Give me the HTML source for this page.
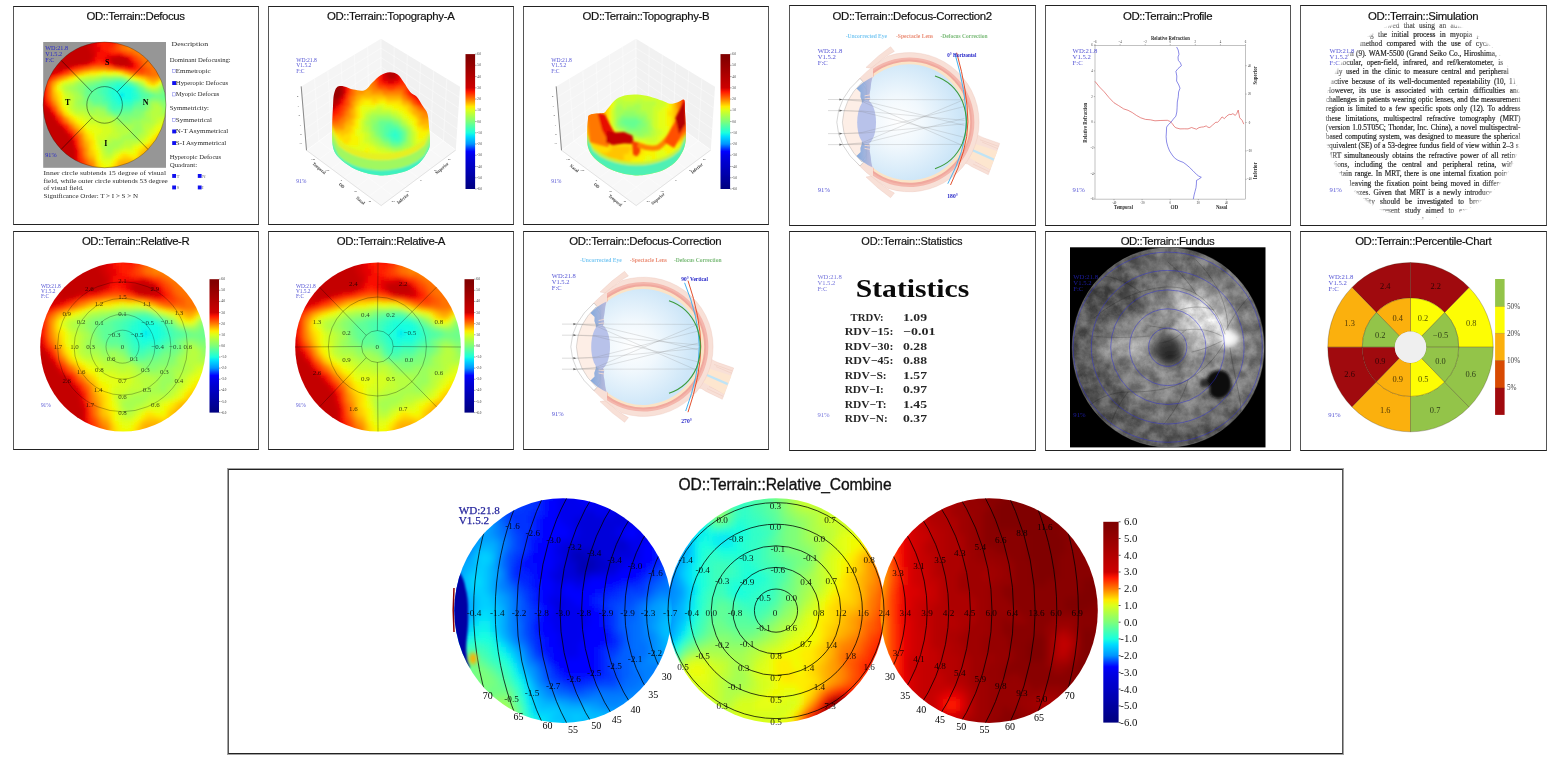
<!DOCTYPE html>
<html lang="en"><head><meta charset="utf-8"><title>OD Terrain Report</title>
<style>
html,body{margin:0;padding:0;background:#fff;}
body{width:1554px;height:762px;overflow:hidden;position:relative;font-family:"Liberation Sans",sans-serif;color:#1a1a1a;}
.panel{position:absolute;box-sizing:border-box;border:1px solid #222;border-left-color:#555;border-right-color:#555;background:#fff;overflow:hidden;}
.panel h3{position:absolute;margin:0;font-weight:400;color:#111;white-space:nowrap;-webkit-text-stroke:0.18px #111;}
.panel#p13{outline:1px solid rgba(30,30,30,0.42);}
.panel#p13 h3{-webkit-text-stroke:0.32px #111;}
.panel svg{position:absolute;left:0;top:0;overflow:hidden;}
svg text{font-family:"Liberation Serif",serif;}
</style></head>
<body>
<svg width="0" height="0" style="position:absolute" aria-hidden="true"><defs><filter id="hmA-b" x="-5%" y="-5%" width="110%" height="110%" filterUnits="objectBoundingBox"><feGaussianBlur stdDeviation="2.40"/></filter><clipPath id="hmA-c"><circle r="100"/></clipPath><g id="hmA"><g clip-path="url(#hmA-c)"><g filter="url(#hmA-b)" shape-rendering="crispEdges"><path fill="#06ecf1" d="M24 -20h8.3v4.3h-8.3zM24 -16h8.3v4.3h-8.3z"/><path fill="#16ffe1" d="M20 -28h24.3v4.3h-24.3zM20 -24h24.3v4.3h-24.3zM20 -20h4.3v4.3h-4.3zM32 -20h12.3v4.3h-12.3zM16 -16h8.3v4.3h-8.3zM32 -16h12.3v4.3h-12.3zM20 -12h24.3v4.3h-24.3zM24 -8h4.3v4.3h-4.3z"/><path fill="#23ffd4" d="M16 -32h24.3v4.3h-24.3zM12 -28h8.3v4.3h-8.3zM44 -28h4.3v4.3h-4.3zM8 -24h12.3v4.3h-12.3zM44 -24h4.3v4.3h-4.3zM8 -20h12.3v4.3h-12.3zM44 -20h8.3v4.3h-8.3zM12 -16h4.3v4.3h-4.3zM44 -16h8.3v4.3h-8.3zM12 -12h8.3v4.3h-8.3zM44 -12h4.3v4.3h-4.3zM16 -8h8.3v4.3h-8.3zM28 -8h16.3v4.3h-16.3zM20 -4h8.3v4.3h-8.3z"/><path fill="#33ffc4" d="M16 -36h16.3v4.3h-16.3zM8 -32h8.3v4.3h-8.3zM40 -32h4.3v4.3h-4.3zM4 -28h8.3v4.3h-8.3zM48 -28h4.3v4.3h-4.3zM4 -24h4.3v4.3h-4.3zM48 -24h4.3v4.3h-4.3zM4 -20h4.3v4.3h-4.3zM52 -20h4.3v4.3h-4.3zM4 -16h8.3v4.3h-8.3zM52 -16h4.3v4.3h-4.3zM8 -12h4.3v4.3h-4.3zM48 -12h8.3v4.3h-8.3zM8 -8h8.3v4.3h-8.3zM44 -8h4.3v4.3h-4.3zM12 -4h8.3v4.3h-8.3zM28 -4h16.3v4.3h-16.3zM16 0h12.3v4.3h-12.3z"/><path fill="#40ffb7" d="M8 -36h8.3v4.3h-8.3zM32 -36h8.3v4.3h-8.3zM0 -32h8.3v4.3h-8.3zM44 -32h4.3v4.3h-4.3zM-4 -28h8.3v4.3h-8.3zM-4 -24h8.3v4.3h-8.3zM52 -24h4.3v4.3h-4.3zM-4 -20h8.3v4.3h-8.3zM56 -20h4.3v4.3h-4.3zM0 -16h4.3v4.3h-4.3zM56 -16h4.3v4.3h-4.3zM0 -12h8.3v4.3h-8.3zM56 -12h4.3v4.3h-4.3zM4 -8h4.3v4.3h-4.3zM48 -8h8.3v4.3h-8.3zM8 -4h4.3v4.3h-4.3zM44 -4h4.3v4.3h-4.3zM8 0h8.3v4.3h-8.3zM28 0h16.3v4.3h-16.3zM12 4h16.3v4.3h-16.3z"/><path fill="#50ffa7" d="M16 -40h16.3v4.3h-16.3zM0 -36h8.3v4.3h-8.3zM40 -36h4.3v4.3h-4.3zM-12 -32h12.3v4.3h-12.3zM48 -32h4.3v4.3h-4.3zM-12 -28h8.3v4.3h-8.3zM52 -28h4.3v4.3h-4.3zM-12 -24h8.3v4.3h-8.3zM56 -24h4.3v4.3h-4.3zM-12 -20h8.3v4.3h-8.3zM60 -20h8.3v4.3h-8.3zM-8 -16h8.3v4.3h-8.3zM60 -16h12.3v4.3h-12.3zM-4 -12h4.3v4.3h-4.3zM60 -12h4.3v4.3h-4.3zM-4 -8h8.3v4.3h-8.3zM56 -8h4.3v4.3h-4.3zM4 -4h4.3v4.3h-4.3zM48 -4h4.3v4.3h-4.3zM4 0h4.3v4.3h-4.3zM44 0h4.3v4.3h-4.3zM8 4h4.3v4.3h-4.3zM28 4h16.3v4.3h-16.3zM12 8h16.3v4.3h-16.3z"/><path fill="#5dff9a" d="M4 -40h12.3v4.3h-12.3zM32 -40h4.3v4.3h-4.3zM-8 -36h8.3v4.3h-8.3zM44 -36h4.3v4.3h-4.3zM-20 -32h8.3v4.3h-8.3zM-28 -28h16.3v4.3h-16.3zM56 -28h4.3v4.3h-4.3zM-28 -24h16.3v4.3h-16.3zM60 -24h4.3v4.3h-4.3zM100 -24h8.3v4.3h-8.3zM-24 -20h12.3v4.3h-12.3zM68 -20h8.3v4.3h-8.3zM-24 -16h16.3v4.3h-16.3zM72 -16h8.3v4.3h-8.3zM-24 -12h20.3v4.3h-20.3zM64 -12h8.3v4.3h-8.3zM-20 -8h16.3v4.3h-16.3zM60 -8h4.3v4.3h-4.3zM-4 -4h8.3v4.3h-8.3zM52 -4h12.3v4.3h-12.3zM48 0h8.3v4.3h-8.3zM4 4h4.3v4.3h-4.3zM44 4h4.3v4.3h-4.3zM8 8h4.3v4.3h-4.3zM28 8h16.3v4.3h-16.3zM16 12h12.3v4.3h-12.3z"/><path fill="#6dff8a" d="M-4 -40h8.3v4.3h-8.3zM-16 -36h8.3v4.3h-8.3zM-28 -32h8.3v4.3h-8.3zM52 -32h4.3v4.3h-4.3zM100 -32h8.3v4.3h-8.3zM-32 -28h4.3v4.3h-4.3zM60 -28h4.3v4.3h-4.3zM96 -28h12.3v4.3h-12.3zM-32 -24h4.3v4.3h-4.3zM64 -24h4.3v4.3h-4.3zM96 -24h4.3v4.3h-4.3zM-32 -20h8.3v4.3h-8.3zM76 -20h4.3v4.3h-4.3zM92 -20h20.3v4.3h-20.3zM-32 -16h8.3v4.3h-8.3zM80 -16h32.3v4.3h-32.3zM-28 -12h4.3v4.3h-4.3zM72 -12h4.3v4.3h-4.3zM92 -12h20.3v4.3h-20.3zM-24 -8h4.3v4.3h-4.3zM64 -8h4.3v4.3h-4.3zM104 -8h8.3v4.3h-8.3zM-20 -4h16.3v4.3h-16.3zM64 -4h4.3v4.3h-4.3zM104 -4h8.3v4.3h-8.3zM-4 0h8.3v4.3h-8.3zM56 0h12.3v4.3h-12.3zM108 0h4.3v4.3h-4.3zM48 4h16.3v4.3h-16.3zM4 8h4.3v4.3h-4.3zM44 8h4.3v4.3h-4.3zM12 12h4.3v4.3h-4.3zM28 12h16.3v4.3h-16.3z"/><path fill="#7dff7a" d="M12 -44h16.3v4.3h-16.3zM-8 -40h4.3v4.3h-4.3zM36 -40h4.3v4.3h-4.3zM-28 -36h12.3v4.3h-12.3zM48 -36h4.3v4.3h-4.3zM-36 -32h8.3v4.3h-8.3zM56 -32h4.3v4.3h-4.3zM96 -32h4.3v4.3h-4.3zM-36 -28h4.3v4.3h-4.3zM-36 -24h4.3v4.3h-4.3zM68 -24h4.3v4.3h-4.3zM92 -24h4.3v4.3h-4.3zM-36 -20h4.3v4.3h-4.3zM80 -20h12.3v4.3h-12.3zM-36 -16h4.3v4.3h-4.3zM-32 -12h4.3v4.3h-4.3zM76 -12h16.3v4.3h-16.3zM-32 -8h8.3v4.3h-8.3zM68 -8h4.3v4.3h-4.3zM92 -8h12.3v4.3h-12.3zM-24 -4h4.3v4.3h-4.3zM68 -4h4.3v4.3h-4.3zM100 -4h4.3v4.3h-4.3zM-20 0h16.3v4.3h-16.3zM68 0h4.3v4.3h-4.3zM100 0h8.3v4.3h-8.3zM0 4h4.3v4.3h-4.3zM64 4h4.3v4.3h-4.3zM104 4h8.3v4.3h-8.3zM48 8h16.3v4.3h-16.3zM8 12h4.3v4.3h-4.3zM44 12h16.3v4.3h-16.3zM16 16h36.3v4.3h-36.3zM28 20h12.3v4.3h-12.3z"/><path fill="#8aff6d" d="M-4 -44h16.3v4.3h-16.3zM28 -44h4.3v4.3h-4.3zM-20 -40h12.3v4.3h-12.3zM40 -40h4.3v4.3h-4.3zM-36 -36h8.3v4.3h-8.3zM52 -36h4.3v4.3h-4.3zM100 -36h8.3v4.3h-8.3zM-44 -32h8.3v4.3h-8.3zM-44 -28h8.3v4.3h-8.3zM64 -28h4.3v4.3h-4.3zM92 -28h4.3v4.3h-4.3zM-44 -24h8.3v4.3h-8.3zM72 -24h4.3v4.3h-4.3zM88 -24h4.3v4.3h-4.3zM-40 -20h4.3v4.3h-4.3zM-36 -12h4.3v4.3h-4.3zM-36 -8h4.3v4.3h-4.3zM72 -8h8.3v4.3h-8.3zM84 -8h8.3v4.3h-8.3zM-36 -4h12.3v4.3h-12.3zM72 -4h4.3v4.3h-4.3zM92 -4h8.3v4.3h-8.3zM-28 0h8.3v4.3h-8.3zM96 0h4.3v4.3h-4.3zM-24 4h4.3v4.3h-4.3zM-8 4h8.3v4.3h-8.3zM68 4h4.3v4.3h-4.3zM96 4h8.3v4.3h-8.3zM0 8h4.3v4.3h-4.3zM64 8h4.3v4.3h-4.3zM104 8h8.3v4.3h-8.3zM4 12h4.3v4.3h-4.3zM60 12h4.3v4.3h-4.3zM12 16h4.3v4.3h-4.3zM52 16h12.3v4.3h-12.3zM20 20h8.3v4.3h-8.3zM40 20h20.3v4.3h-20.3zM24 24h20.3v4.3h-20.3z"/><path fill="#9aff5d" d="M-8 -44h4.3v4.3h-4.3zM32 -44h4.3v4.3h-4.3zM-28 -40h8.3v4.3h-8.3zM-44 -36h8.3v4.3h-8.3zM96 -36h4.3v4.3h-4.3zM-48 -32h4.3v4.3h-4.3zM60 -32h4.3v4.3h-4.3zM92 -32h4.3v4.3h-4.3zM-52 -28h8.3v4.3h-8.3zM88 -28h4.3v4.3h-4.3zM-48 -24h4.3v4.3h-4.3zM76 -24h12.3v4.3h-12.3zM-44 -20h4.3v4.3h-4.3zM-40 -16h4.3v4.3h-4.3zM-40 -12h4.3v4.3h-4.3zM-44 -8h8.3v4.3h-8.3zM80 -8h4.3v4.3h-4.3zM-44 -4h8.3v4.3h-8.3zM88 -4h4.3v4.3h-4.3zM-36 0h8.3v4.3h-8.3zM72 0h4.3v4.3h-4.3zM92 0h4.3v4.3h-4.3zM-28 4h4.3v4.3h-4.3zM-20 4h12.3v4.3h-12.3zM72 4h4.3v4.3h-4.3zM-24 8h8.3v4.3h-8.3zM-8 8h8.3v4.3h-8.3zM68 8h4.3v4.3h-4.3zM96 8h8.3v4.3h-8.3zM0 12h4.3v4.3h-4.3zM64 12h4.3v4.3h-4.3zM104 12h8.3v4.3h-8.3zM4 16h8.3v4.3h-8.3zM64 16h4.3v4.3h-4.3zM16 20h4.3v4.3h-4.3zM60 20h8.3v4.3h-8.3zM20 24h4.3v4.3h-4.3zM44 24h16.3v4.3h-16.3zM28 28h32.3v4.3h-32.3zM48 32h12.3v4.3h-12.3zM44 36h16.3v4.3h-16.3zM44 40h16.3v4.3h-16.3zM44 44h8.3v4.3h-8.3zM44 48h8.3v4.3h-8.3z"/><path fill="#a7ff50" d="M-16 -44h8.3v4.3h-8.3zM-40 -40h12.3v4.3h-12.3zM44 -40h4.3v4.3h-4.3zM-48 -36h4.3v4.3h-4.3zM56 -36h4.3v4.3h-4.3zM-56 -32h8.3v4.3h-8.3zM-60 -28h8.3v4.3h-8.3zM68 -28h4.3v4.3h-4.3zM-56 -24h8.3v4.3h-8.3zM-52 -20h8.3v4.3h-8.3zM-48 -16h8.3v4.3h-8.3zM-48 -12h8.3v4.3h-8.3zM-48 -8h4.3v4.3h-4.3zM-48 -4h4.3v4.3h-4.3zM76 -4h12.3v4.3h-12.3zM-48 0h12.3v4.3h-12.3zM76 0h4.3v4.3h-4.3zM88 0h4.3v4.3h-4.3zM-44 4h16.3v4.3h-16.3zM76 4h4.3v4.3h-4.3zM92 4h4.3v4.3h-4.3zM-32 8h8.3v4.3h-8.3zM-16 8h8.3v4.3h-8.3zM72 8h4.3v4.3h-4.3zM92 8h4.3v4.3h-4.3zM-24 12h24.3v4.3h-24.3zM68 12h8.3v4.3h-8.3zM92 12h12.3v4.3h-12.3zM-8 16h12.3v4.3h-12.3zM68 16h8.3v4.3h-8.3zM108 16h4.3v4.3h-4.3zM12 20h4.3v4.3h-4.3zM68 20h8.3v4.3h-8.3zM16 24h4.3v4.3h-4.3zM60 24h16.3v4.3h-16.3zM20 28h8.3v4.3h-8.3zM60 28h8.3v4.3h-8.3zM32 32h16.3v4.3h-16.3zM60 32h4.3v4.3h-4.3zM40 36h4.3v4.3h-4.3zM60 36h4.3v4.3h-4.3zM40 40h4.3v4.3h-4.3zM60 40h4.3v4.3h-4.3zM36 44h8.3v4.3h-8.3zM52 44h8.3v4.3h-8.3zM28 48h16.3v4.3h-16.3zM52 48h4.3v4.3h-4.3zM24 52h32.3v4.3h-32.3zM12 56h20.3v4.3h-20.3zM4 60h24.3v4.3h-24.3zM0 64h24.3v4.3h-24.3zM0 68h16.3v4.3h-16.3zM4 72h8.3v4.3h-8.3z"/><path fill="#b7ff40" d="M-4 -48h32.3v4.3h-32.3zM-32 -44h16.3v4.3h-16.3zM36 -44h4.3v4.3h-4.3zM-44 -40h4.3v4.3h-4.3zM48 -40h4.3v4.3h-4.3zM100 -40h4.3v4.3h-4.3zM-52 -36h4.3v4.3h-4.3zM60 -36h4.3v4.3h-4.3zM92 -36h4.3v4.3h-4.3zM-64 -32h8.3v4.3h-8.3zM64 -32h4.3v4.3h-4.3zM88 -32h4.3v4.3h-4.3zM-64 -28h4.3v4.3h-4.3zM72 -28h4.3v4.3h-4.3zM84 -28h4.3v4.3h-4.3zM-64 -24h8.3v4.3h-8.3zM-56 -20h4.3v4.3h-4.3zM-52 -16h4.3v4.3h-4.3zM-52 -12h4.3v4.3h-4.3zM-52 -8h4.3v4.3h-4.3zM-52 -4h4.3v4.3h-4.3zM-52 0h4.3v4.3h-4.3zM80 0h8.3v4.3h-8.3zM-52 4h8.3v4.3h-8.3zM80 4h12.3v4.3h-12.3zM-48 8h16.3v4.3h-16.3zM76 8h16.3v4.3h-16.3zM-32 12h8.3v4.3h-8.3zM76 12h16.3v4.3h-16.3zM-24 16h16.3v4.3h-16.3zM76 16h32.3v4.3h-32.3zM-12 20h24.3v4.3h-24.3zM76 20h8.3v4.3h-8.3zM-4 24h8.3v4.3h-8.3zM8 24h8.3v4.3h-8.3zM76 24h8.3v4.3h-8.3zM12 28h8.3v4.3h-8.3zM68 28h12.3v4.3h-12.3zM16 32h16.3v4.3h-16.3zM64 32h12.3v4.3h-12.3zM20 36h20.3v4.3h-20.3zM64 36h8.3v4.3h-8.3zM20 40h20.3v4.3h-20.3zM64 40h4.3v4.3h-4.3zM24 44h12.3v4.3h-12.3zM60 44h8.3v4.3h-8.3zM20 48h8.3v4.3h-8.3zM56 48h8.3v4.3h-8.3zM8 52h16.3v4.3h-16.3zM56 52h4.3v4.3h-4.3zM0 56h12.3v4.3h-12.3zM32 56h24.3v4.3h-24.3zM-4 60h8.3v4.3h-8.3zM28 60h16.3v4.3h-16.3zM-4 64h4.3v4.3h-4.3zM24 64h8.3v4.3h-8.3zM-4 68h4.3v4.3h-4.3zM16 68h8.3v4.3h-8.3zM0 72h4.3v4.3h-4.3zM12 72h4.3v4.3h-4.3zM0 76h12.3v4.3h-12.3z"/><path fill="#c4ff33" d="M-12 -48h8.3v4.3h-8.3zM28 -48h4.3v4.3h-4.3zM-40 -44h8.3v4.3h-8.3zM-48 -40h4.3v4.3h-4.3zM52 -40h4.3v4.3h-4.3zM96 -40h4.3v4.3h-4.3zM-60 -36h8.3v4.3h-8.3zM-68 -32h4.3v4.3h-4.3zM-68 -28h4.3v4.3h-4.3zM76 -28h8.3v4.3h-8.3zM-68 -24h4.3v4.3h-4.3zM-64 -20h8.3v4.3h-8.3zM-60 -16h8.3v4.3h-8.3zM-60 -12h8.3v4.3h-8.3zM-56 -8h4.3v4.3h-4.3zM-56 -4h4.3v4.3h-4.3zM-56 0h4.3v4.3h-4.3zM-56 4h4.3v4.3h-4.3zM-52 8h4.3v4.3h-4.3zM-48 12h16.3v4.3h-16.3zM-32 16h8.3v4.3h-8.3zM-28 20h16.3v4.3h-16.3zM84 20h24.3v4.3h-24.3zM-24 24h20.3v4.3h-20.3zM4 24h4.3v4.3h-4.3zM84 24h4.3v4.3h-4.3zM-8 28h20.3v4.3h-20.3zM80 28h4.3v4.3h-4.3zM8 32h8.3v4.3h-8.3zM76 32h4.3v4.3h-4.3zM12 36h8.3v4.3h-8.3zM72 36h4.3v4.3h-4.3zM12 40h8.3v4.3h-8.3zM68 40h4.3v4.3h-4.3zM8 44h16.3v4.3h-16.3zM68 44h4.3v4.3h-4.3zM4 48h16.3v4.3h-16.3zM64 48h4.3v4.3h-4.3zM0 52h8.3v4.3h-8.3zM60 52h4.3v4.3h-4.3zM-8 56h8.3v4.3h-8.3zM56 56h4.3v4.3h-4.3zM-8 60h4.3v4.3h-4.3zM44 60h8.3v4.3h-8.3zM-8 64h4.3v4.3h-4.3zM32 64h12.3v4.3h-12.3zM24 68h8.3v4.3h-8.3zM-4 72h4.3v4.3h-4.3zM16 72h8.3v4.3h-8.3zM-4 76h4.3v4.3h-4.3zM12 76h4.3v4.3h-4.3zM0 80h12.3v4.3h-12.3z"/><path fill="#d4ff23" d="M-28 -48h16.3v4.3h-16.3zM-44 -44h4.3v4.3h-4.3zM40 -44h4.3v4.3h-4.3zM-52 -40h4.3v4.3h-4.3zM56 -40h4.3v4.3h-4.3zM-68 -36h8.3v4.3h-8.3zM64 -36h4.3v4.3h-4.3zM-72 -32h4.3v4.3h-4.3zM68 -32h4.3v4.3h-4.3zM-72 -28h4.3v4.3h-4.3zM-68 -20h4.3v4.3h-4.3zM-64 -16h4.3v4.3h-4.3zM-64 -12h4.3v4.3h-4.3zM-64 -8h8.3v4.3h-8.3zM-60 -4h4.3v4.3h-4.3zM-60 0h4.3v4.3h-4.3zM-60 4h4.3v4.3h-4.3zM-56 8h4.3v4.3h-4.3zM-52 12h4.3v4.3h-4.3zM-44 16h12.3v4.3h-12.3zM-36 20h8.3v4.3h-8.3zM-28 24h4.3v4.3h-4.3zM88 24h8.3v4.3h-8.3zM-28 28h20.3v4.3h-20.3zM84 28h8.3v4.3h-8.3zM-12 32h20.3v4.3h-20.3zM80 32h4.3v4.3h-4.3zM-4 36h16.3v4.3h-16.3zM76 36h4.3v4.3h-4.3zM-4 40h16.3v4.3h-16.3zM72 40h8.3v4.3h-8.3zM-8 44h16.3v4.3h-16.3zM72 44h4.3v4.3h-4.3zM-12 48h16.3v4.3h-16.3zM68 48h4.3v4.3h-4.3zM-12 52h12.3v4.3h-12.3zM64 52h4.3v4.3h-4.3zM-12 56h4.3v4.3h-4.3zM60 56h8.3v4.3h-8.3zM-12 60h4.3v4.3h-4.3zM52 60h8.3v4.3h-8.3zM44 64h4.3v4.3h-4.3zM-8 68h4.3v4.3h-4.3zM32 68h12.3v4.3h-12.3zM-8 72h4.3v4.3h-4.3zM24 72h4.3v4.3h-4.3zM16 76h4.3v4.3h-4.3zM-4 80h4.3v4.3h-4.3zM12 80h4.3v4.3h-4.3zM-4 84h16.3v4.3h-16.3z"/><path fill="#e4ff13" d="M-4 -52h8.3v4.3h-8.3zM12 -52h8.3v4.3h-8.3zM-32 -48h4.3v4.3h-4.3zM32 -48h4.3v4.3h-4.3zM-48 -44h4.3v4.3h-4.3zM44 -44h4.3v4.3h-4.3zM-60 -40h8.3v4.3h-8.3zM60 -40h4.3v4.3h-4.3zM92 -40h4.3v4.3h-4.3zM-72 -36h4.3v4.3h-4.3zM88 -36h4.3v4.3h-4.3zM-76 -32h4.3v4.3h-4.3zM84 -32h4.3v4.3h-4.3zM-76 -28h4.3v4.3h-4.3zM-72 -24h4.3v4.3h-4.3zM-68 -16h4.3v4.3h-4.3zM-68 -12h4.3v4.3h-4.3zM-68 -8h4.3v4.3h-4.3zM-68 -4h8.3v4.3h-8.3zM-64 0h4.3v4.3h-4.3zM-60 8h4.3v4.3h-4.3zM-56 12h4.3v4.3h-4.3zM-48 16h4.3v4.3h-4.3zM-44 20h8.3v4.3h-8.3zM-36 24h8.3v4.3h-8.3zM96 24h12.3v4.3h-12.3zM-32 28h4.3v4.3h-4.3zM92 28h4.3v4.3h-4.3zM-32 32h20.3v4.3h-20.3zM84 32h12.3v4.3h-12.3zM-28 36h24.3v4.3h-24.3zM80 36h8.3v4.3h-8.3zM-20 40h16.3v4.3h-16.3zM80 40h4.3v4.3h-4.3zM-16 44h8.3v4.3h-8.3zM76 44h4.3v4.3h-4.3zM-16 48h4.3v4.3h-4.3zM72 48h4.3v4.3h-4.3zM-16 52h4.3v4.3h-4.3zM68 52h4.3v4.3h-4.3zM68 56h4.3v4.3h-4.3zM60 60h4.3v4.3h-4.3zM-12 64h4.3v4.3h-4.3zM48 64h8.3v4.3h-8.3zM-12 68h4.3v4.3h-4.3zM44 68h4.3v4.3h-4.3zM28 72h20.3v4.3h-20.3zM-8 76h4.3v4.3h-4.3zM20 76h4.3v4.3h-4.3zM-8 80h4.3v4.3h-4.3zM16 80h4.3v4.3h-4.3zM-8 84h4.3v4.3h-4.3zM12 84h4.3v4.3h-4.3zM-4 88h16.3v4.3h-16.3zM0 92h8.3v4.3h-8.3zM-4 104h8.3v4.3h-8.3zM-4 108h8.3v4.3h-8.3z"/><path fill="#f1fc06" d="M-12 -52h8.3v4.3h-8.3zM4 -52h8.3v4.3h-8.3zM20 -52h4.3v4.3h-4.3zM-40 -48h8.3v4.3h-8.3zM36 -48h4.3v4.3h-4.3zM-52 -44h4.3v4.3h-4.3zM48 -44h4.3v4.3h-4.3zM100 -44h4.3v4.3h-4.3zM-64 -40h4.3v4.3h-4.3zM72 -32h12.3v4.3h-12.3zM-76 -24h4.3v4.3h-4.3zM-72 -20h4.3v4.3h-4.3zM-72 -16h4.3v4.3h-4.3zM-72 -12h4.3v4.3h-4.3zM-72 -8h4.3v4.3h-4.3zM-68 0h4.3v4.3h-4.3zM-64 4h4.3v4.3h-4.3zM-64 8h4.3v4.3h-4.3zM-60 12h4.3v4.3h-4.3zM-52 16h4.3v4.3h-4.3zM-48 20h4.3v4.3h-4.3zM-44 24h8.3v4.3h-8.3zM-40 28h8.3v4.3h-8.3zM96 28h12.3v4.3h-12.3zM96 32h12.3v4.3h-12.3zM-32 36h4.3v4.3h-4.3zM88 36h16.3v4.3h-16.3zM-28 40h8.3v4.3h-8.3zM84 40h4.3v4.3h-4.3zM-24 44h8.3v4.3h-8.3zM80 44h4.3v4.3h-4.3zM-20 48h4.3v4.3h-4.3zM76 48h4.3v4.3h-4.3zM-20 52h4.3v4.3h-4.3zM72 52h4.3v4.3h-4.3zM-16 56h4.3v4.3h-4.3zM-16 60h4.3v4.3h-4.3zM64 60h4.3v4.3h-4.3zM-16 64h4.3v4.3h-4.3zM56 64h4.3v4.3h-4.3zM-16 68h4.3v4.3h-4.3zM48 68h8.3v4.3h-8.3zM-12 72h4.3v4.3h-4.3zM48 72h4.3v4.3h-4.3zM-12 76h4.3v4.3h-4.3zM24 76h4.3v4.3h-4.3zM36 76h16.3v4.3h-16.3zM-12 80h4.3v4.3h-4.3zM20 80h4.3v4.3h-4.3zM-12 84h4.3v4.3h-4.3zM16 84h4.3v4.3h-4.3zM-8 88h4.3v4.3h-4.3zM12 88h4.3v4.3h-4.3zM-8 92h8.3v4.3h-8.3zM8 92h4.3v4.3h-4.3zM-4 96h16.3v4.3h-16.3zM-4 100h12.3v4.3h-12.3zM4 104h4.3v4.3h-4.3zM4 108h4.3v4.3h-4.3z"/><path fill="#ffea00" d="M-24 -52h12.3v4.3h-12.3zM24 -52h4.3v4.3h-4.3zM-44 -48h4.3v4.3h-4.3zM-56 -44h4.3v4.3h-4.3zM52 -44h4.3v4.3h-4.3zM96 -44h4.3v4.3h-4.3zM-68 -40h4.3v4.3h-4.3zM64 -40h4.3v4.3h-4.3zM-76 -36h4.3v4.3h-4.3zM68 -36h4.3v4.3h-4.3zM84 -36h4.3v4.3h-4.3zM-80 -32h4.3v4.3h-4.3zM-80 -28h4.3v4.3h-4.3zM-80 -24h4.3v4.3h-4.3zM-76 -20h4.3v4.3h-4.3zM-76 -16h4.3v4.3h-4.3zM-72 -4h4.3v4.3h-4.3zM-72 0h4.3v4.3h-4.3zM-68 4h4.3v4.3h-4.3zM-56 16h4.3v4.3h-4.3zM-52 20h4.3v4.3h-4.3zM-48 24h4.3v4.3h-4.3zM-44 28h4.3v4.3h-4.3zM-36 32h4.3v4.3h-4.3zM-32 40h4.3v4.3h-4.3zM88 40h16.3v4.3h-16.3zM-28 44h4.3v4.3h-4.3zM84 44h16.3v4.3h-16.3zM-28 48h8.3v4.3h-8.3zM80 48h4.3v4.3h-4.3zM-24 52h4.3v4.3h-4.3zM76 52h4.3v4.3h-4.3zM-20 56h4.3v4.3h-4.3zM72 56h4.3v4.3h-4.3zM-20 60h4.3v4.3h-4.3zM68 60h4.3v4.3h-4.3zM-20 64h4.3v4.3h-4.3zM60 64h4.3v4.3h-4.3zM-20 68h4.3v4.3h-4.3zM56 68h4.3v4.3h-4.3zM-16 72h4.3v4.3h-4.3zM52 72h4.3v4.3h-4.3zM-16 76h4.3v4.3h-4.3zM28 76h8.3v4.3h-8.3zM24 80h4.3v4.3h-4.3zM40 80h12.3v4.3h-12.3zM20 84h4.3v4.3h-4.3zM-12 88h4.3v4.3h-4.3zM16 88h4.3v4.3h-4.3zM12 92h4.3v4.3h-4.3zM-8 96h4.3v4.3h-4.3zM12 96h4.3v4.3h-4.3zM-8 100h4.3v4.3h-4.3zM8 100h4.3v4.3h-4.3zM-8 104h4.3v4.3h-4.3zM8 104h4.3v4.3h-4.3zM-8 108h4.3v4.3h-4.3zM8 108h4.3v4.3h-4.3z"/><path fill="#ffdb00" d="M-32 -52h8.3v4.3h-8.3zM28 -52h4.3v4.3h-4.3zM-48 -48h4.3v4.3h-4.3zM40 -48h4.3v4.3h-4.3zM-60 -44h4.3v4.3h-4.3zM56 -44h4.3v4.3h-4.3zM-72 -40h4.3v4.3h-4.3zM88 -40h4.3v4.3h-4.3zM72 -36h4.3v4.3h-4.3zM-80 -20h4.3v4.3h-4.3zM-76 -12h4.3v4.3h-4.3zM-76 -8h4.3v4.3h-4.3zM-72 4h4.3v4.3h-4.3zM-68 8h4.3v4.3h-4.3zM-64 12h4.3v4.3h-4.3zM-60 16h4.3v4.3h-4.3zM-56 20h4.3v4.3h-4.3zM-40 32h4.3v4.3h-4.3zM-36 36h4.3v4.3h-4.3zM-32 44h4.3v4.3h-4.3zM100 44h4.3v4.3h-4.3zM84 48h16.3v4.3h-16.3zM-28 52h4.3v4.3h-4.3zM80 52h4.3v4.3h-4.3zM92 52h8.3v4.3h-8.3zM-24 56h4.3v4.3h-4.3zM76 56h4.3v4.3h-4.3zM-24 60h4.3v4.3h-4.3zM72 60h4.3v4.3h-4.3zM-24 64h4.3v4.3h-4.3zM64 64h4.3v4.3h-4.3zM-24 68h4.3v4.3h-4.3zM60 68h4.3v4.3h-4.3zM-20 72h4.3v4.3h-4.3zM56 72h4.3v4.3h-4.3zM-20 76h4.3v4.3h-4.3zM52 76h4.3v4.3h-4.3zM-16 80h4.3v4.3h-4.3zM28 80h12.3v4.3h-12.3zM52 80h4.3v4.3h-4.3zM-16 84h4.3v4.3h-4.3zM24 84h4.3v4.3h-4.3zM44 84h8.3v4.3h-8.3zM-12 92h4.3v4.3h-4.3zM16 92h4.3v4.3h-4.3zM-12 96h4.3v4.3h-4.3zM-12 100h4.3v4.3h-4.3zM12 100h4.3v4.3h-4.3zM12 104h4.3v4.3h-4.3zM12 108h4.3v4.3h-4.3z"/><path fill="#ffc800" d="M-8 -56h12.3v4.3h-12.3zM-36 -52h4.3v4.3h-4.3zM44 -48h4.3v4.3h-4.3zM60 -44h4.3v4.3h-4.3zM92 -44h4.3v4.3h-4.3zM68 -40h4.3v4.3h-4.3zM-80 -36h4.3v4.3h-4.3zM76 -36h8.3v4.3h-8.3zM-84 -28h4.3v4.3h-4.3zM-84 -24h4.3v4.3h-4.3zM-80 -16h4.3v4.3h-4.3zM-80 -12h4.3v4.3h-4.3zM-76 -4h4.3v4.3h-4.3zM-68 12h4.3v4.3h-4.3zM-64 16h4.3v4.3h-4.3zM-52 24h4.3v4.3h-4.3zM-48 28h4.3v4.3h-4.3zM-44 32h4.3v4.3h-4.3zM-40 36h4.3v4.3h-4.3zM-36 40h4.3v4.3h-4.3zM-32 48h4.3v4.3h-4.3zM-32 52h4.3v4.3h-4.3zM84 52h8.3v4.3h-8.3zM-28 56h4.3v4.3h-4.3zM80 56h4.3v4.3h-4.3zM88 56h8.3v4.3h-8.3zM-28 60h4.3v4.3h-4.3zM76 60h4.3v4.3h-4.3zM68 64h4.3v4.3h-4.3zM64 68h4.3v4.3h-4.3zM-24 72h4.3v4.3h-4.3zM60 72h4.3v4.3h-4.3zM-24 76h4.3v4.3h-4.3zM56 76h4.3v4.3h-4.3zM-20 80h4.3v4.3h-4.3zM56 80h4.3v4.3h-4.3zM28 84h16.3v4.3h-16.3zM52 84h4.3v4.3h-4.3zM-16 88h4.3v4.3h-4.3zM20 88h4.3v4.3h-4.3zM44 88h12.3v4.3h-12.3zM16 96h4.3v4.3h-4.3zM16 100h4.3v4.3h-4.3zM-12 104h4.3v4.3h-4.3zM16 104h4.3v4.3h-4.3zM-12 108h4.3v4.3h-4.3zM16 108h4.3v4.3h-4.3z"/><path fill="#ffb900" d="M-24 -56h16.3v4.3h-16.3zM4 -56h12.3v4.3h-12.3zM-40 -52h4.3v4.3h-4.3zM32 -52h4.3v4.3h-4.3zM-52 -48h4.3v4.3h-4.3zM100 -48h4.3v4.3h-4.3zM-64 -44h4.3v4.3h-4.3zM64 -44h4.3v4.3h-4.3zM88 -44h4.3v4.3h-4.3zM-76 -40h4.3v4.3h-4.3zM72 -40h4.3v4.3h-4.3zM84 -40h4.3v4.3h-4.3zM-84 -32h4.3v4.3h-4.3zM-84 -20h4.3v4.3h-4.3zM-84 -16h4.3v4.3h-4.3zM-80 -8h4.3v4.3h-4.3zM-76 0h4.3v4.3h-4.3zM-72 8h4.3v4.3h-4.3zM-60 20h4.3v4.3h-4.3zM-56 24h4.3v4.3h-4.3zM-52 28h4.3v4.3h-4.3zM-48 32h4.3v4.3h-4.3zM-44 36h4.3v4.3h-4.3zM-40 40h4.3v4.3h-4.3zM-36 44h4.3v4.3h-4.3zM-36 48h4.3v4.3h-4.3zM-32 56h4.3v4.3h-4.3zM84 56h4.3v4.3h-4.3zM80 60h12.3v4.3h-12.3zM-28 64h4.3v4.3h-4.3zM72 64h8.3v4.3h-8.3zM-28 68h4.3v4.3h-4.3zM68 68h4.3v4.3h-4.3zM-28 72h4.3v4.3h-4.3zM64 72h4.3v4.3h-4.3zM-28 76h4.3v4.3h-4.3zM60 76h4.3v4.3h-4.3zM-24 80h4.3v4.3h-4.3zM60 80h4.3v4.3h-4.3zM-20 84h4.3v4.3h-4.3zM56 84h4.3v4.3h-4.3zM24 88h20.3v4.3h-20.3zM56 88h4.3v4.3h-4.3zM-16 92h4.3v4.3h-4.3zM20 92h8.3v4.3h-8.3zM44 92h12.3v4.3h-12.3zM-16 96h4.3v4.3h-4.3zM20 96h4.3v4.3h-4.3zM-16 100h4.3v4.3h-4.3zM20 100h4.3v4.3h-4.3zM-16 104h4.3v4.3h-4.3zM20 104h4.3v4.3h-4.3z"/><path fill="#ffa700" d="M-28 -56h4.3v4.3h-4.3zM16 -56h8.3v4.3h-8.3zM-44 -52h4.3v4.3h-4.3zM36 -52h4.3v4.3h-4.3zM-56 -48h4.3v4.3h-4.3zM48 -48h4.3v4.3h-4.3zM96 -48h4.3v4.3h-4.3zM-68 -44h4.3v4.3h-4.3zM68 -44h4.3v4.3h-4.3zM-80 -40h4.3v4.3h-4.3zM76 -40h8.3v4.3h-8.3zM-84 -36h4.3v4.3h-4.3zM-84 -12h4.3v4.3h-4.3zM-80 -4h4.3v4.3h-4.3zM-76 4h4.3v4.3h-4.3zM-36 52h4.3v4.3h-4.3zM-32 60h4.3v4.3h-4.3zM-32 64h4.3v4.3h-4.3zM80 64h12.3v4.3h-12.3zM72 68h16.3v4.3h-16.3zM68 72h4.3v4.3h-4.3zM76 72h8.3v4.3h-8.3zM64 76h4.3v4.3h-4.3zM76 76h4.3v4.3h-4.3zM-28 80h4.3v4.3h-4.3zM64 80h4.3v4.3h-4.3zM-24 84h4.3v4.3h-4.3zM60 84h8.3v4.3h-8.3zM-20 88h4.3v4.3h-4.3zM60 88h8.3v4.3h-8.3zM28 92h16.3v4.3h-16.3zM56 92h4.3v4.3h-4.3zM24 96h32.3v4.3h-32.3zM24 100h24.3v4.3h-24.3zM24 104h12.3v4.3h-12.3zM-16 108h4.3v4.3h-4.3z"/><path fill="#ff9400" d="M-36 -56h8.3v4.3h-8.3zM24 -56h4.3v4.3h-4.3zM-48 -52h4.3v4.3h-4.3zM-60 -48h4.3v4.3h-4.3zM52 -48h8.3v4.3h-8.3zM92 -48h4.3v4.3h-4.3zM-72 -44h4.3v4.3h-4.3zM72 -44h16.3v4.3h-16.3zM-88 -32h4.3v4.3h-4.3zM-88 -28h4.3v4.3h-4.3zM-88 -24h4.3v4.3h-4.3zM-88 -20h4.3v4.3h-4.3zM-84 -8h4.3v4.3h-4.3zM-80 0h4.3v4.3h-4.3zM-76 8h4.3v4.3h-4.3zM-72 12h4.3v4.3h-4.3zM-68 16h4.3v4.3h-4.3zM-64 20h4.3v4.3h-4.3zM-60 24h4.3v4.3h-4.3zM-56 28h4.3v4.3h-4.3zM-52 32h4.3v4.3h-4.3zM-48 36h4.3v4.3h-4.3zM-44 40h4.3v4.3h-4.3zM-40 44h4.3v4.3h-4.3zM-36 56h4.3v4.3h-4.3zM-36 60h4.3v4.3h-4.3zM-32 68h4.3v4.3h-4.3zM-32 72h4.3v4.3h-4.3zM72 72h4.3v4.3h-4.3zM-32 76h4.3v4.3h-4.3zM68 76h8.3v4.3h-8.3zM68 80h8.3v4.3h-8.3zM-28 84h4.3v4.3h-4.3zM68 84h4.3v4.3h-4.3zM-24 88h4.3v4.3h-4.3zM-20 92h4.3v4.3h-4.3zM-20 96h4.3v4.3h-4.3zM-20 100h4.3v4.3h-4.3zM-20 104h4.3v4.3h-4.3zM-20 108h4.3v4.3h-4.3z"/><path fill="#ff8600" d="M36 -96h24.3v4.3h-24.3zM36 -92h32.3v4.3h-32.3zM52 -88h12.3v4.3h-12.3zM56 -84h8.3v4.3h-8.3zM-20 -60h24.3v4.3h-24.3zM-40 -56h4.3v4.3h-4.3zM28 -56h4.3v4.3h-4.3zM-52 -52h4.3v4.3h-4.3zM40 -52h4.3v4.3h-4.3zM96 -52h4.3v4.3h-4.3zM-64 -48h4.3v4.3h-4.3zM60 -48h8.3v4.3h-8.3zM84 -48h8.3v4.3h-8.3zM-76 -44h4.3v4.3h-4.3zM-84 -40h4.3v4.3h-4.3zM-88 -36h4.3v4.3h-4.3zM-88 -16h4.3v4.3h-4.3zM-88 -12h4.3v4.3h-4.3zM-84 -4h4.3v4.3h-4.3zM-40 48h4.3v4.3h-4.3zM-40 52h4.3v4.3h-4.3zM-36 64h4.3v4.3h-4.3zM-32 80h4.3v4.3h-4.3zM-28 88h4.3v4.3h-4.3zM-24 92h4.3v4.3h-4.3z"/><path fill="#ff7300" d="M36 -104h12.3v4.3h-12.3zM32 -100h24.3v4.3h-24.3zM28 -96h8.3v4.3h-8.3zM28 -92h8.3v4.3h-8.3zM36 -88h16.3v4.3h-16.3zM64 -88h8.3v4.3h-8.3zM48 -84h8.3v4.3h-8.3zM64 -84h12.3v4.3h-12.3zM56 -80h24.3v4.3h-24.3zM60 -76h24.3v4.3h-24.3zM64 -72h20.3v4.3h-20.3zM68 -68h16.3v4.3h-16.3zM68 -64h16.3v4.3h-16.3zM-24 -60h4.3v4.3h-4.3zM4 -60h8.3v4.3h-8.3zM76 -60h20.3v4.3h-20.3zM-44 -56h4.3v4.3h-4.3zM76 -56h24.3v4.3h-24.3zM-56 -52h4.3v4.3h-4.3zM44 -52h4.3v4.3h-4.3zM76 -52h20.3v4.3h-20.3zM-68 -48h4.3v4.3h-4.3zM68 -48h16.3v4.3h-16.3zM-88 -8h4.3v4.3h-4.3zM-80 4h4.3v4.3h-4.3zM-76 12h4.3v4.3h-4.3zM-72 16h4.3v4.3h-4.3zM-68 20h4.3v4.3h-4.3zM-64 24h4.3v4.3h-4.3zM-60 28h4.3v4.3h-4.3zM-56 32h4.3v4.3h-4.3zM-52 36h4.3v4.3h-4.3zM-48 40h4.3v4.3h-4.3zM-44 44h4.3v4.3h-4.3zM-40 56h4.3v4.3h-4.3zM-40 60h4.3v4.3h-4.3zM-36 68h4.3v4.3h-4.3zM-36 72h4.3v4.3h-4.3zM-36 76h4.3v4.3h-4.3zM-32 84h4.3v4.3h-4.3zM-28 92h4.3v4.3h-4.3zM-24 96h4.3v4.3h-4.3zM-24 100h4.3v4.3h-4.3zM-24 104h4.3v4.3h-4.3z"/><path fill="#ff6400" d="M32 -108h4.3v4.3h-4.3zM32 -104h4.3v4.3h-4.3zM28 -100h4.3v4.3h-4.3zM24 -96h4.3v4.3h-4.3zM24 -92h4.3v4.3h-4.3zM28 -88h8.3v4.3h-8.3zM44 -84h4.3v4.3h-4.3zM52 -80h4.3v4.3h-4.3zM56 -76h4.3v4.3h-4.3zM60 -72h4.3v4.3h-4.3zM84 -72h4.3v4.3h-4.3zM60 -68h8.3v4.3h-8.3zM84 -68h8.3v4.3h-8.3zM64 -64h4.3v4.3h-4.3zM84 -64h8.3v4.3h-8.3zM-32 -60h8.3v4.3h-8.3zM12 -60h4.3v4.3h-4.3zM68 -60h8.3v4.3h-8.3zM-48 -56h4.3v4.3h-4.3zM32 -56h4.3v4.3h-4.3zM72 -56h4.3v4.3h-4.3zM48 -52h8.3v4.3h-8.3zM64 -52h12.3v4.3h-12.3zM-72 -48h4.3v4.3h-4.3zM-80 -44h4.3v4.3h-4.3zM-88 -40h4.3v4.3h-4.3zM-92 -32h4.3v4.3h-4.3zM-92 -28h4.3v4.3h-4.3zM-92 -24h4.3v4.3h-4.3zM-92 -20h4.3v4.3h-4.3zM-92 -16h4.3v4.3h-4.3zM-84 0h4.3v4.3h-4.3zM-80 8h4.3v4.3h-4.3zM-48 44h4.3v4.3h-4.3zM-44 48h4.3v4.3h-4.3zM-40 64h4.3v4.3h-4.3zM-36 80h4.3v4.3h-4.3zM-32 88h4.3v4.3h-4.3zM-28 96h4.3v4.3h-4.3zM-28 100h4.3v4.3h-4.3zM-28 104h4.3v4.3h-4.3z"/><path fill="#ff5200" d="M28 -108h4.3v4.3h-4.3zM28 -104h4.3v4.3h-4.3zM24 -100h4.3v4.3h-4.3zM20 -96h4.3v4.3h-4.3zM20 -92h4.3v4.3h-4.3zM24 -88h4.3v4.3h-4.3zM36 -84h8.3v4.3h-8.3zM48 -80h4.3v4.3h-4.3zM52 -76h4.3v4.3h-4.3zM56 -72h4.3v4.3h-4.3zM-16 -64h16.3v4.3h-16.3zM60 -64h4.3v4.3h-4.3zM-36 -60h4.3v4.3h-4.3zM16 -60h4.3v4.3h-4.3zM64 -60h4.3v4.3h-4.3zM-52 -56h4.3v4.3h-4.3zM36 -56h4.3v4.3h-4.3zM64 -56h8.3v4.3h-8.3zM-60 -52h4.3v4.3h-4.3zM56 -52h8.3v4.3h-8.3zM-84 -44h4.3v4.3h-4.3zM-92 -36h4.3v4.3h-4.3zM-92 -12h4.3v4.3h-4.3zM-88 -4h4.3v4.3h-4.3zM-84 4h4.3v4.3h-4.3zM-72 20h4.3v4.3h-4.3zM-68 24h4.3v4.3h-4.3zM-56 36h4.3v4.3h-4.3zM-52 40h4.3v4.3h-4.3zM-44 52h4.3v4.3h-4.3zM-44 56h4.3v4.3h-4.3zM-40 68h4.3v4.3h-4.3zM-40 72h4.3v4.3h-4.3zM-36 84h4.3v4.3h-4.3zM-32 92h4.3v4.3h-4.3zM-32 96h4.3v4.3h-4.3zM-32 104h4.3v4.3h-4.3z"/><path fill="#ff4300" d="M24 -108h4.3v4.3h-4.3zM24 -104h4.3v4.3h-4.3zM20 -100h4.3v4.3h-4.3zM16 -96h4.3v4.3h-4.3zM16 -92h4.3v4.3h-4.3zM16 -88h8.3v4.3h-8.3zM32 -84h4.3v4.3h-4.3zM44 -80h4.3v4.3h-4.3zM48 -76h4.3v4.3h-4.3zM52 -72h4.3v4.3h-4.3zM56 -68h4.3v4.3h-4.3zM-24 -64h8.3v4.3h-8.3zM0 -64h8.3v4.3h-8.3zM56 -64h4.3v4.3h-4.3zM-40 -60h4.3v4.3h-4.3zM20 -60h4.3v4.3h-4.3zM60 -60h4.3v4.3h-4.3zM-56 -56h4.3v4.3h-4.3zM40 -56h8.3v4.3h-8.3zM52 -56h12.3v4.3h-12.3zM-64 -52h4.3v4.3h-4.3zM-76 -48h4.3v4.3h-4.3zM-92 -40h4.3v4.3h-4.3zM-92 -8h4.3v4.3h-4.3zM-88 0h4.3v4.3h-4.3zM-80 12h4.3v4.3h-4.3zM-76 16h4.3v4.3h-4.3zM-64 28h4.3v4.3h-4.3zM-60 32h4.3v4.3h-4.3zM-48 48h4.3v4.3h-4.3zM-44 60h4.3v4.3h-4.3zM-44 64h4.3v4.3h-4.3zM-40 76h4.3v4.3h-4.3zM-40 80h4.3v4.3h-4.3zM-36 88h4.3v4.3h-4.3zM-36 92h4.3v4.3h-4.3zM-32 100h4.3v4.3h-4.3z"/><path fill="#ff3000" d="M20 -108h4.3v4.3h-4.3zM20 -104h4.3v4.3h-4.3zM16 -100h4.3v4.3h-4.3zM12 -96h4.3v4.3h-4.3zM8 -92h8.3v4.3h-8.3zM8 -88h8.3v4.3h-8.3zM28 -84h4.3v4.3h-4.3zM40 -80h4.3v4.3h-4.3zM44 -76h4.3v4.3h-4.3zM48 -72h4.3v4.3h-4.3zM-12 -68h8.3v4.3h-8.3zM52 -68h4.3v4.3h-4.3zM-28 -64h4.3v4.3h-4.3zM8 -64h4.3v4.3h-4.3zM-48 -60h8.3v4.3h-8.3zM24 -60h8.3v4.3h-8.3zM52 -60h8.3v4.3h-8.3zM-60 -56h4.3v4.3h-4.3zM48 -56h4.3v4.3h-4.3zM-68 -52h4.3v4.3h-4.3zM-80 -48h4.3v4.3h-4.3zM-88 -44h4.3v4.3h-4.3zM-96 -36h4.3v4.3h-4.3zM-96 -32h4.3v4.3h-4.3zM-96 -28h4.3v4.3h-4.3zM-96 -24h4.3v4.3h-4.3zM-96 -20h4.3v4.3h-4.3zM-96 -16h4.3v4.3h-4.3zM-96 -12h4.3v4.3h-4.3zM-92 -4h4.3v4.3h-4.3zM-84 8h4.3v4.3h-4.3zM-76 20h4.3v4.3h-4.3zM-72 24h4.3v4.3h-4.3zM-68 28h4.3v4.3h-4.3zM-60 36h4.3v4.3h-4.3zM-56 40h4.3v4.3h-4.3zM-52 44h4.3v4.3h-4.3zM-48 52h4.3v4.3h-4.3zM-44 68h4.3v4.3h-4.3zM-40 84h4.3v4.3h-4.3zM-40 88h4.3v4.3h-4.3zM-36 96h4.3v4.3h-4.3zM-36 100h4.3v4.3h-4.3zM-36 104h4.3v4.3h-4.3z"/><path fill="#ff1e00" d="M-12 -112h12.3v4.3h-12.3zM12 -112h8.3v4.3h-8.3zM-8 -108h8.3v4.3h-8.3zM12 -108h8.3v4.3h-8.3zM-8 -104h8.3v4.3h-8.3zM12 -104h8.3v4.3h-8.3zM-8 -100h24.3v4.3h-24.3zM-4 -96h16.3v4.3h-16.3zM-4 -92h12.3v4.3h-12.3zM0 -88h8.3v4.3h-8.3zM8 -84h20.3v4.3h-20.3zM36 -80h4.3v4.3h-4.3zM-12 -72h8.3v4.3h-8.3zM-20 -68h8.3v4.3h-8.3zM-4 -68h8.3v4.3h-8.3zM48 -68h4.3v4.3h-4.3zM-32 -64h4.3v4.3h-4.3zM12 -64h4.3v4.3h-4.3zM52 -64h4.3v4.3h-4.3zM-52 -60h4.3v4.3h-4.3zM32 -60h4.3v4.3h-4.3zM48 -60h4.3v4.3h-4.3zM-64 -56h4.3v4.3h-4.3zM-72 -52h4.3v4.3h-4.3zM-84 -48h4.3v4.3h-4.3zM-92 -44h4.3v4.3h-4.3zM-96 -40h4.3v4.3h-4.3zM-96 -8h4.3v4.3h-4.3zM-92 0h4.3v4.3h-4.3zM-88 4h4.3v4.3h-4.3zM-80 16h4.3v4.3h-4.3zM-64 32h4.3v4.3h-4.3zM-52 48h4.3v4.3h-4.3zM-48 56h4.3v4.3h-4.3zM-48 60h4.3v4.3h-4.3zM-44 72h4.3v4.3h-4.3zM-44 76h4.3v4.3h-4.3zM-44 80h4.3v4.3h-4.3zM-44 84h4.3v4.3h-4.3zM-40 92h4.3v4.3h-4.3z"/><path fill="#fa0f00" d="M-16 -112h4.3v4.3h-4.3zM0 -112h12.3v4.3h-12.3zM-16 -108h8.3v4.3h-8.3zM0 -108h12.3v4.3h-12.3zM-12 -104h4.3v4.3h-4.3zM0 -104h12.3v4.3h-12.3zM-12 -100h4.3v4.3h-4.3zM-12 -96h8.3v4.3h-8.3zM-8 -92h4.3v4.3h-4.3zM-8 -88h8.3v4.3h-8.3zM-12 -84h20.3v4.3h-20.3zM-12 -80h16.3v4.3h-16.3zM32 -80h4.3v4.3h-4.3zM-16 -76h16.3v4.3h-16.3zM40 -76h4.3v4.3h-4.3zM-16 -72h4.3v4.3h-4.3zM-4 -72h8.3v4.3h-8.3zM44 -72h4.3v4.3h-4.3zM-24 -68h4.3v4.3h-4.3zM4 -68h4.3v4.3h-4.3zM-44 -64h12.3v4.3h-12.3zM48 -64h4.3v4.3h-4.3zM-56 -60h4.3v4.3h-4.3zM36 -60h12.3v4.3h-12.3zM-68 -56h4.3v4.3h-4.3zM-76 -52h4.3v4.3h-4.3zM-104 -48h8.3v4.3h-8.3zM-88 -48h4.3v4.3h-4.3zM-104 -44h12.3v4.3h-12.3zM-100 -40h4.3v4.3h-4.3zM-100 -36h4.3v4.3h-4.3zM-100 -32h4.3v4.3h-4.3zM-100 -28h4.3v4.3h-4.3zM-100 -24h4.3v4.3h-4.3zM-100 -20h4.3v4.3h-4.3zM-100 -16h4.3v4.3h-4.3zM-96 -4h4.3v4.3h-4.3zM-88 8h4.3v4.3h-4.3zM-84 12h4.3v4.3h-4.3zM-80 20h4.3v4.3h-4.3zM-76 24h4.3v4.3h-4.3zM-72 28h4.3v4.3h-4.3zM-68 32h4.3v4.3h-4.3zM-64 36h4.3v4.3h-4.3zM-60 40h4.3v4.3h-4.3zM-56 44h4.3v4.3h-4.3zM-52 52h4.3v4.3h-4.3zM-48 64h4.3v4.3h-4.3zM-44 88h4.3v4.3h-4.3zM-40 96h4.3v4.3h-4.3zM-40 100h4.3v4.3h-4.3z"/><path fill="#e40000" d="M-20 -112h4.3v4.3h-4.3zM-20 -108h4.3v4.3h-4.3zM-20 -104h8.3v4.3h-8.3zM-20 -100h8.3v4.3h-8.3zM-20 -96h8.3v4.3h-8.3zM-20 -92h12.3v4.3h-12.3zM-16 -88h8.3v4.3h-8.3zM-16 -84h4.3v4.3h-4.3zM-16 -80h4.3v4.3h-4.3zM4 -80h16.3v4.3h-16.3zM28 -80h4.3v4.3h-4.3zM-20 -76h4.3v4.3h-4.3zM0 -76h8.3v4.3h-8.3zM-20 -72h4.3v4.3h-4.3zM4 -72h4.3v4.3h-4.3zM40 -72h4.3v4.3h-4.3zM-88 -68h4.3v4.3h-4.3zM-28 -68h4.3v4.3h-4.3zM8 -68h4.3v4.3h-4.3zM44 -68h4.3v4.3h-4.3zM-48 -64h4.3v4.3h-4.3zM16 -64h4.3v4.3h-4.3zM44 -64h4.3v4.3h-4.3zM-60 -60h4.3v4.3h-4.3zM-100 -56h4.3v4.3h-4.3zM-72 -56h4.3v4.3h-4.3zM-100 -52h8.3v4.3h-8.3zM-84 -52h8.3v4.3h-8.3zM-96 -48h8.3v4.3h-8.3zM-104 -40h4.3v4.3h-4.3zM-104 -36h4.3v4.3h-4.3zM-104 -32h4.3v4.3h-4.3zM-108 -28h8.3v4.3h-8.3zM-108 -24h8.3v4.3h-8.3zM-112 -20h12.3v4.3h-12.3zM-104 -16h4.3v4.3h-4.3zM-100 -12h4.3v4.3h-4.3zM-100 -8h4.3v4.3h-4.3zM-96 0h4.3v4.3h-4.3zM-92 4h4.3v4.3h-4.3zM-88 12h4.3v4.3h-4.3zM-84 16h4.3v4.3h-4.3zM-76 28h4.3v4.3h-4.3zM-64 40h4.3v4.3h-4.3zM-60 44h4.3v4.3h-4.3zM-56 48h4.3v4.3h-4.3zM-52 56h4.3v4.3h-4.3zM-52 60h4.3v4.3h-4.3zM-48 68h4.3v4.3h-4.3zM-48 72h4.3v4.3h-4.3zM-48 76h4.3v4.3h-4.3zM-48 80h4.3v4.3h-4.3zM-48 84h4.3v4.3h-4.3zM-48 88h4.3v4.3h-4.3zM-44 92h4.3v4.3h-4.3zM-44 96h4.3v4.3h-4.3zM-44 100h4.3v4.3h-4.3z"/><path fill="#d10000" d="M-28 -108h8.3v4.3h-8.3zM-28 -104h8.3v4.3h-8.3zM-28 -100h8.3v4.3h-8.3zM-28 -96h8.3v4.3h-8.3zM-28 -92h8.3v4.3h-8.3zM-24 -88h8.3v4.3h-8.3zM-24 -84h8.3v4.3h-8.3zM-20 -80h4.3v4.3h-4.3zM20 -80h8.3v4.3h-8.3zM-84 -76h4.3v4.3h-4.3zM-24 -76h4.3v4.3h-4.3zM8 -76h4.3v4.3h-4.3zM36 -76h4.3v4.3h-4.3zM-88 -72h12.3v4.3h-12.3zM-24 -72h4.3v4.3h-4.3zM8 -72h4.3v4.3h-4.3zM-92 -68h4.3v4.3h-4.3zM-84 -68h8.3v4.3h-8.3zM-36 -68h8.3v4.3h-8.3zM12 -68h4.3v4.3h-4.3zM40 -68h4.3v4.3h-4.3zM-92 -64h16.3v4.3h-16.3zM-56 -64h8.3v4.3h-8.3zM20 -64h24.3v4.3h-24.3zM-96 -60h20.3v4.3h-20.3zM-68 -60h8.3v4.3h-8.3zM-96 -56h24.3v4.3h-24.3zM-92 -52h8.3v4.3h-8.3zM-108 -36h4.3v4.3h-4.3zM-108 -32h4.3v4.3h-4.3zM-112 -16h8.3v4.3h-8.3zM-104 -12h4.3v4.3h-4.3zM-104 -8h4.3v4.3h-4.3zM-100 -4h4.3v4.3h-4.3zM-100 0h4.3v4.3h-4.3zM-96 4h4.3v4.3h-4.3zM-92 8h4.3v4.3h-4.3zM-84 20h4.3v4.3h-4.3zM-80 24h4.3v4.3h-4.3zM-72 32h4.3v4.3h-4.3zM-68 36h4.3v4.3h-4.3zM-60 48h4.3v4.3h-4.3zM-56 52h4.3v4.3h-4.3zM-52 64h4.3v4.3h-4.3zM-52 68h4.3v4.3h-4.3zM-48 92h4.3v4.3h-4.3zM-48 96h4.3v4.3h-4.3zM-48 100h4.3v4.3h-4.3z"/><path fill="#c40000" d="M-32 -108h4.3v4.3h-4.3zM-32 -104h4.3v4.3h-4.3zM-36 -100h8.3v4.3h-8.3zM-32 -96h4.3v4.3h-4.3zM-32 -92h4.3v4.3h-4.3zM-32 -88h8.3v4.3h-8.3zM-28 -84h4.3v4.3h-4.3zM-80 -80h4.3v4.3h-4.3zM-28 -80h8.3v4.3h-8.3zM-80 -76h8.3v4.3h-8.3zM12 -76h4.3v4.3h-4.3zM32 -76h4.3v4.3h-4.3zM-76 -72h4.3v4.3h-4.3zM-28 -72h4.3v4.3h-4.3zM12 -72h4.3v4.3h-4.3zM36 -72h4.3v4.3h-4.3zM-76 -68h4.3v4.3h-4.3zM-48 -68h12.3v4.3h-12.3zM36 -68h4.3v4.3h-4.3zM-76 -64h8.3v4.3h-8.3zM-60 -64h4.3v4.3h-4.3zM-76 -60h8.3v4.3h-8.3zM-112 -12h8.3v4.3h-8.3zM-112 -8h8.3v4.3h-8.3zM-112 -4h12.3v4.3h-12.3zM-112 0h12.3v4.3h-12.3zM-100 4h4.3v4.3h-4.3zM-96 8h4.3v4.3h-4.3zM-92 12h4.3v4.3h-4.3zM-88 16h4.3v4.3h-4.3zM-84 24h4.3v4.3h-4.3zM-80 28h4.3v4.3h-4.3zM-76 32h4.3v4.3h-4.3zM-72 36h4.3v4.3h-4.3zM-72 40h8.3v4.3h-8.3zM-68 44h8.3v4.3h-8.3zM-64 48h4.3v4.3h-4.3zM-60 52h4.3v4.3h-4.3zM-56 56h4.3v4.3h-4.3zM-56 60h4.3v4.3h-4.3zM-56 64h4.3v4.3h-4.3zM-56 68h4.3v4.3h-4.3zM-56 72h8.3v4.3h-8.3zM-52 76h4.3v4.3h-4.3zM-52 80h4.3v4.3h-4.3zM-56 84h8.3v4.3h-8.3zM-68 88h20.3v4.3h-20.3zM-60 92h12.3v4.3h-12.3zM-56 96h8.3v4.3h-8.3z"/><path fill="#c40000" d="M-36 -108h4.3v4.3h-4.3zM-44 -104h12.3v4.3h-12.3zM-44 -100h8.3v4.3h-8.3zM-40 -96h8.3v4.3h-8.3zM-68 -92h8.3v4.3h-8.3zM-36 -92h4.3v4.3h-4.3zM-72 -88h12.3v4.3h-12.3zM-36 -88h4.3v4.3h-4.3zM-76 -84h12.3v4.3h-12.3zM-36 -84h8.3v4.3h-8.3zM-76 -80h8.3v4.3h-8.3zM-32 -80h4.3v4.3h-4.3zM-72 -76h4.3v4.3h-4.3zM-28 -76h4.3v4.3h-4.3zM16 -76h16.3v4.3h-16.3zM-72 -72h4.3v4.3h-4.3zM-48 -72h20.3v4.3h-20.3zM32 -72h4.3v4.3h-4.3zM-72 -68h4.3v4.3h-4.3zM-56 -68h8.3v4.3h-8.3zM16 -68h4.3v4.3h-4.3zM32 -68h4.3v4.3h-4.3zM-68 -64h8.3v4.3h-8.3zM-112 4h12.3v4.3h-12.3zM-112 8h16.3v4.3h-16.3zM-112 12h20.3v4.3h-20.3zM-112 16h24.3v4.3h-24.3zM-104 20h8.3v4.3h-8.3zM-88 20h4.3v4.3h-4.3zM-88 24h4.3v4.3h-4.3zM-88 28h8.3v4.3h-8.3zM-84 32h8.3v4.3h-8.3zM-80 36h8.3v4.3h-8.3zM-100 40h28.3v4.3h-28.3zM-100 44h20.3v4.3h-20.3zM-72 44h4.3v4.3h-4.3zM-96 48h16.3v4.3h-16.3zM-72 48h8.3v4.3h-8.3zM-96 52h16.3v4.3h-16.3zM-72 52h12.3v4.3h-12.3zM-92 56h16.3v4.3h-16.3zM-72 56h16.3v4.3h-16.3zM-92 60h12.3v4.3h-12.3zM-68 60h12.3v4.3h-12.3zM-88 64h8.3v4.3h-8.3zM-64 64h8.3v4.3h-8.3zM-88 68h8.3v4.3h-8.3zM-64 68h8.3v4.3h-8.3zM-84 72h8.3v4.3h-8.3zM-68 72h12.3v4.3h-12.3zM-80 76h28.3v4.3h-28.3zM-76 80h24.3v4.3h-24.3zM-72 84h16.3v4.3h-16.3z"/><path fill="#c40000" d="M-48 -104h4.3v4.3h-4.3zM-56 -100h12.3v4.3h-12.3zM-60 -96h20.3v4.3h-20.3zM-60 -92h24.3v4.3h-24.3zM-60 -88h24.3v4.3h-24.3zM-64 -84h28.3v4.3h-28.3zM-68 -80h8.3v4.3h-8.3zM-48 -80h16.3v4.3h-16.3zM-68 -76h4.3v4.3h-4.3zM-52 -76h24.3v4.3h-24.3zM-68 -72h4.3v4.3h-4.3zM-56 -72h8.3v4.3h-8.3zM16 -72h16.3v4.3h-16.3zM-68 -68h12.3v4.3h-12.3zM20 -68h12.3v4.3h-12.3zM-108 20h4.3v4.3h-4.3zM-96 20h8.3v4.3h-8.3zM-108 24h20.3v4.3h-20.3zM-104 28h16.3v4.3h-16.3zM-104 32h20.3v4.3h-20.3zM-104 36h24.3v4.3h-24.3zM-104 40h4.3v4.3h-4.3zM-104 44h4.3v4.3h-4.3zM-80 44h8.3v4.3h-8.3zM-100 48h4.3v4.3h-4.3zM-80 48h8.3v4.3h-8.3zM-100 52h4.3v4.3h-4.3zM-80 52h8.3v4.3h-8.3zM-96 56h4.3v4.3h-4.3zM-76 56h4.3v4.3h-4.3zM-80 60h12.3v4.3h-12.3zM-92 64h4.3v4.3h-4.3zM-80 64h16.3v4.3h-16.3zM-80 68h16.3v4.3h-16.3zM-76 72h8.3v4.3h-8.3z"/><path fill="#c40000" d="M-60 -80h12.3v4.3h-12.3zM-64 -76h12.3v4.3h-12.3zM-64 -72h8.3v4.3h-8.3zM-108 28h4.3v4.3h-4.3zM-108 32h4.3v4.3h-4.3z"/></g></g></g><filter id="hmL-b" x="-5%" y="-5%" width="110%" height="110%" filterUnits="objectBoundingBox"><feGaussianBlur stdDeviation="2.80"/></filter><clipPath id="hmL-c"><ellipse rx="96.8" ry="100"/></clipPath><g id="hmL"><g clip-path="url(#hmL-c)"><g filter="url(#hmL-b)" shape-rendering="crispEdges"><path fill="#0000b6" d="M9.3 -51.3h9.6v5h-9.6zM14 -46.7h14.3v5h-14.3zM14 -42h14.3v5h-14.3zM14 -37.3h9.6v5h-9.6z"/><path fill="#0000c8" d="M46.7 -60.7h9.6v5h-9.6zM4.7 -56h23.6v5h-23.6zM4.7 -51.3h5v5h-5zM18.7 -51.3h14.3v5h-14.3zM4.7 -46.7h9.6v5h-9.6zM28 -46.7h9.6v5h-9.6zM9.3 -42h5v5h-5zM28 -42h14.3v5h-14.3zM9.3 -37.3h5v5h-5zM23.3 -37.3h9.6v5h-9.6zM14 -32.7h5v5h-5z"/><path fill="#0000da" d="M18.7 -88.7h9.6v5h-9.6zM46.7 -88.7h9.6v5h-9.6zM9.3 -84h51.6v5h-51.6zM9.3 -79.3h47v5h-47zM14 -74.7h33v5h-33zM14 -70h33v5h-33zM9.3 -65.3h47v5h-47zM0 -60.7h47v5h-47zM56 -60.7h5v5h-5zM-4.7 -56h9.6v5h-9.6zM28 -56h33v5h-33zM0 -51.3h5v5h-5zM32.7 -51.3h33v5h-33zM0 -46.7h5v5h-5zM37.3 -46.7h14.3v5h-14.3zM-4.7 -42h14.3v5h-14.3zM42 -42h9.6v5h-9.6zM-4.7 -37.3h14.3v5h-14.3zM32.7 -37.3h14.3v5h-14.3zM-9.3 -32.7h23.6v5h-23.6zM18.7 -32.7h5v5h-5zM-4.7 -28h5v5h-5zM9.3 -28h9.6v5h-9.6zM-9.3 -9.3h9.6v5h-9.6zM-4.7 -4.7h5v5h-5zM-4.7 0h5v5h-5z"/><path fill="#0000ed" d="M0 -112h5v5h-5zM0 -107.3h14.3v5h-14.3zM23.3 -107.3h14.3v5h-14.3zM-4.7 -102.7h19v5h-19zM28 -102.7h5v5h-5zM-4.7 -98h23.6v5h-23.6zM23.3 -98h9.6v5h-9.6zM-4.7 -93.3h70.3v5h-70.3zM-4.7 -88.7h23.6v5h-23.6zM28 -88.7h19v5h-19zM56 -88.7h14.3v5h-14.3zM-4.7 -84h14.3v5h-14.3zM60.7 -84h14.3v5h-14.3zM0 -79.3h9.6v5h-9.6zM56 -79.3h19v5h-19zM4.7 -74.7h9.6v5h-9.6zM46.7 -74.7h9.6v5h-9.6zM65.3 -74.7h14.3v5h-14.3zM4.7 -70h9.6v5h-9.6zM46.7 -70h9.6v5h-9.6zM65.3 -70h14.3v5h-14.3zM-4.7 -65.3h14.3v5h-14.3zM56 -65.3h23.6v5h-23.6zM-9.3 -60.7h9.6v5h-9.6zM60.7 -60.7h9.6v5h-9.6zM-9.3 -56h5v5h-5zM60.7 -56h9.6v5h-9.6zM-9.3 -51.3h9.6v5h-9.6zM65.3 -51.3h5v5h-5zM-9.3 -46.7h9.6v5h-9.6zM51.3 -46.7h19v5h-19zM-9.3 -42h5v5h-5zM51.3 -42h9.6v5h-9.6zM-14 -37.3h9.6v5h-9.6zM46.7 -37.3h5v5h-5zM-14 -32.7h5v5h-5zM23.3 -32.7h23.6v5h-23.6zM-9.3 -28h5v5h-5zM0 -28h9.6v5h-9.6zM18.7 -28h5v5h-5zM-9.3 -23.3h9.6v5h-9.6zM9.3 -23.3h9.6v5h-9.6zM-9.3 -18.7h9.6v5h-9.6zM-14 -14h19v5h-19zM-14 -9.3h5v5h-5zM0 -9.3h9.6v5h-9.6zM-9.3 -4.7h5v5h-5zM0 -4.7h19v5h-19zM-9.3 0h5v5h-5zM0 0h23.6v5h-23.6zM-14 4.7h37.6v5h-37.6zM-9.3 9.3h33v5h-33zM-9.3 14h28.3v5h-28.3zM-4.7 18.7h23.6v5h-23.6zM-4.7 23.3h23.6v5h-23.6zM-4.7 28h19v5h-19zM0 32.7h14.3v5h-14.3zM0 37.3h14.3v5h-14.3z"/><path fill="#0000ff" d="M-4.7 -112h5v5h-5zM4.7 -112h19v5h-19zM-4.7 -107.3h5v5h-5zM14 -107.3h9.6v5h-9.6zM14 -102.7h14.3v5h-14.3zM32.7 -102.7h19v5h-19zM-9.3 -98h5v5h-5zM18.7 -98h5v5h-5zM32.7 -98h23.6v5h-23.6zM-9.3 -93.3h5v5h-5zM-9.3 -88.7h5v5h-5zM-9.3 -84h5v5h-5zM-9.3 -79.3h9.6v5h-9.6zM74.7 -79.3h5v5h-5zM-9.3 -74.7h14.3v5h-14.3zM56 -74.7h9.6v5h-9.6zM79.3 -74.7h5v5h-5zM-9.3 -70h14.3v5h-14.3zM56 -70h9.6v5h-9.6zM79.3 -70h9.6v5h-9.6zM-14 -65.3h9.6v5h-9.6zM79.3 -65.3h9.6v5h-9.6zM-14 -60.7h5v5h-5zM70 -60.7h9.6v5h-9.6zM-18.7 -56h9.6v5h-9.6zM70 -56h5v5h-5zM-18.7 -51.3h9.6v5h-9.6zM70 -51.3h5v5h-5zM-14 -46.7h5v5h-5zM70 -46.7h5v5h-5zM-18.7 -42h9.6v5h-9.6zM60.7 -42h9.6v5h-9.6zM-18.7 -37.3h5v5h-5zM51.3 -37.3h14.3v5h-14.3zM-18.7 -32.7h5v5h-5zM46.7 -32.7h9.6v5h-9.6zM-14 -28h5v5h-5zM23.3 -28h5v5h-5zM-14 -23.3h5v5h-5zM0 -23.3h9.6v5h-9.6zM18.7 -23.3h5v5h-5zM-14 -18.7h5v5h-5zM0 -18.7h23.6v5h-23.6zM4.7 -14h14.3v5h-14.3zM9.3 -9.3h9.6v5h-9.6zM-14 -4.7h5v5h-5zM18.7 -4.7h5v5h-5zM-14 0h5v5h-5zM23.3 0h5v5h-5zM23.3 4.7h5v5h-5zM-18.7 9.3h9.6v5h-9.6zM23.3 9.3h5v5h-5zM-14 14h5v5h-5zM18.7 14h9.6v5h-9.6zM-14 18.7h9.6v5h-9.6zM18.7 18.7h14.3v5h-14.3zM-9.3 23.3h5v5h-5zM18.7 23.3h9.6v5h-9.6zM-9.3 28h5v5h-5zM14 28h9.6v5h-9.6zM-4.7 32.7h5v5h-5zM14 32.7h5v5h-5zM-4.7 37.3h5v5h-5zM14 37.3h5v5h-5zM-4.7 42h28.3v5h-28.3zM0 46.7h14.3v5h-14.3z"/><path fill="#0000ff" d="M-9.3 -112h5v5h-5zM-9.3 -107.3h5v5h-5zM-9.3 -102.7h5v5h-5zM-14 -98h5v5h-5zM-14 -93.3h5v5h-5zM-14 -88.7h5v5h-5zM-18.7 -84h9.6v5h-9.6zM-18.7 -79.3h9.6v5h-9.6zM-18.7 -74.7h9.6v5h-9.6zM-18.7 -70h9.6v5h-9.6zM-18.7 -65.3h5v5h-5zM88.7 -65.3h5v5h-5zM-23.3 -60.7h9.6v5h-9.6zM79.3 -60.7h14.3v5h-14.3zM-23.3 -56h5v5h-5zM74.7 -56h5v5h-5zM-28 -51.3h9.6v5h-9.6zM74.7 -51.3h5v5h-5zM-28 -46.7h14.3v5h-14.3zM74.7 -46.7h5v5h-5zM-23.3 -42h5v5h-5zM70 -42h5v5h-5zM-23.3 -37.3h5v5h-5zM65.3 -37.3h5v5h-5zM-23.3 -32.7h5v5h-5zM56 -32.7h9.6v5h-9.6zM-18.7 -28h5v5h-5zM28 -28h23.6v5h-23.6zM-18.7 -23.3h5v5h-5zM23.3 -23.3h14.3v5h-14.3zM-18.7 -18.7h5v5h-5zM23.3 -18.7h5v5h-5zM-18.7 -14h5v5h-5zM18.7 -14h5v5h-5zM-18.7 -9.3h5v5h-5zM18.7 -9.3h5v5h-5zM-18.7 -4.7h5v5h-5zM23.3 -4.7h5v5h-5zM-18.7 0h5v5h-5zM28 0h5v5h-5zM-18.7 4.7h5v5h-5zM28 4.7h5v5h-5zM-23.3 9.3h5v5h-5zM28 9.3h5v5h-5zM-18.7 14h5v5h-5zM28 14h9.6v5h-9.6zM-18.7 18.7h5v5h-5zM32.7 18.7h5v5h-5zM-14 23.3h5v5h-5zM28 23.3h9.6v5h-9.6zM-14 28h5v5h-5zM23.3 28h9.6v5h-9.6zM-9.3 32.7h5v5h-5zM18.7 32.7h9.6v5h-9.6zM-9.3 37.3h5v5h-5zM18.7 37.3h9.6v5h-9.6zM-9.3 42h5v5h-5zM23.3 42h5v5h-5zM-4.7 46.7h5v5h-5zM14 46.7h14.3v5h-14.3zM0 51.3h28.3v5h-28.3z"/><path fill="#0010ff" d="M-14 -112h5v5h-5zM-18.7 -107.3h9.6v5h-9.6zM-18.7 -102.7h9.6v5h-9.6zM-18.7 -98h5v5h-5zM-18.7 -93.3h5v5h-5zM-18.7 -88.7h5v5h-5zM-23.3 -84h5v5h-5zM-23.3 -79.3h5v5h-5zM-23.3 -74.7h5v5h-5zM-23.3 -70h5v5h-5zM-28 -65.3h9.6v5h-9.6zM-28 -60.7h5v5h-5zM-28 -56h5v5h-5zM79.3 -56h19v5h-19zM-32.7 -51.3h5v5h-5zM79.3 -51.3h5v5h-5zM98 -51.3h5v5h-5zM-37.3 -46.7h9.6v5h-9.6zM79.3 -46.7h5v5h-5zM-37.3 -42h14.3v5h-14.3zM74.7 -42h5v5h-5zM-32.7 -37.3h9.6v5h-9.6zM70 -37.3h5v5h-5zM-28 -32.7h5v5h-5zM65.3 -32.7h5v5h-5zM-28 -28h9.6v5h-9.6zM51.3 -28h14.3v5h-14.3zM-28 -23.3h9.6v5h-9.6zM37.3 -23.3h9.6v5h-9.6zM-23.3 -18.7h5v5h-5zM28 -18.7h9.6v5h-9.6zM-23.3 -14h5v5h-5zM23.3 -14h5v5h-5zM-23.3 -9.3h5v5h-5zM23.3 -9.3h5v5h-5zM28 -4.7h5v5h-5zM32.7 0h5v5h-5zM-23.3 4.7h5v5h-5zM32.7 4.7h5v5h-5zM32.7 9.3h5v5h-5zM-23.3 14h5v5h-5zM37.3 14h5v5h-5zM-23.3 18.7h5v5h-5zM37.3 18.7h5v5h-5zM-18.7 23.3h5v5h-5zM37.3 23.3h5v5h-5zM-18.7 28h5v5h-5zM32.7 28h9.6v5h-9.6zM-18.7 32.7h9.6v5h-9.6zM28 32.7h5v5h-5zM-14 37.3h5v5h-5zM28 37.3h5v5h-5zM-14 42h5v5h-5zM28 42h5v5h-5zM-9.3 46.7h5v5h-5zM28 46.7h5v5h-5zM-4.7 51.3h5v5h-5zM28 51.3h5v5h-5zM0 56h28.3v5h-28.3z"/><path fill="#0020ff" d="M-18.7 -112h5v5h-5zM-23.3 -107.3h5v5h-5zM-23.3 -102.7h5v5h-5zM-23.3 -98h5v5h-5zM-23.3 -93.3h5v5h-5zM-28 -88.7h9.6v5h-9.6zM-32.7 -84h9.6v5h-9.6zM-28 -79.3h5v5h-5zM-28 -74.7h5v5h-5zM-32.7 -70h9.6v5h-9.6zM-32.7 -65.3h5v5h-5zM-32.7 -60.7h5v5h-5zM-32.7 -56h5v5h-5zM-37.3 -51.3h5v5h-5zM84 -51.3h14.3v5h-14.3zM-42 -46.7h5v5h-5zM84 -46.7h5v5h-5zM-42 -42h5v5h-5zM79.3 -42h5v5h-5zM-42 -37.3h9.6v5h-9.6zM74.7 -37.3h5v5h-5zM-42 -32.7h14.3v5h-14.3zM70 -32.7h5v5h-5zM-37.3 -28h9.6v5h-9.6zM65.3 -28h5v5h-5zM-32.7 -23.3h5v5h-5zM46.7 -23.3h9.6v5h-9.6zM-28 -18.7h5v5h-5zM37.3 -18.7h9.6v5h-9.6zM-28 -14h5v5h-5zM28 -14h14.3v5h-14.3zM-28 -9.3h5v5h-5zM28 -9.3h9.6v5h-9.6zM-23.3 -4.7h5v5h-5zM32.7 -4.7h5v5h-5zM-23.3 0h5v5h-5zM37.3 0h5v5h-5zM37.3 4.7h5v5h-5zM-28 9.3h5v5h-5zM37.3 9.3h5v5h-5zM-28 14h5v5h-5zM42 18.7h5v5h-5zM-23.3 23.3h5v5h-5zM42 23.3h5v5h-5zM-23.3 28h5v5h-5zM42 28h5v5h-5zM-23.3 32.7h5v5h-5zM32.7 32.7h5v5h-5zM-18.7 37.3h5v5h-5zM32.7 37.3h5v5h-5zM32.7 42h5v5h-5zM32.7 46.7h5v5h-5zM-9.3 51.3h5v5h-5zM32.7 51.3h5v5h-5zM-4.7 56h5v5h-5zM28 56h9.6v5h-9.6zM0 60.7h23.6v5h-23.6z"/><path fill="#0030ff" d="M-23.3 -112h5v5h-5zM-37.3 -107.3h14.3v5h-14.3zM-37.3 -102.7h14.3v5h-14.3zM-37.3 -98h14.3v5h-14.3zM-37.3 -93.3h14.3v5h-14.3zM-46.7 -88.7h19v5h-19zM-46.7 -84h14.3v5h-14.3zM-42 -79.3h14.3v5h-14.3zM-42 -74.7h14.3v5h-14.3zM-37.3 -70h5v5h-5zM-37.3 -65.3h5v5h-5zM-37.3 -60.7h5v5h-5zM-37.3 -56h5v5h-5zM-42 -51.3h5v5h-5zM88.7 -46.7h14.3v5h-14.3zM-46.7 -42h5v5h-5zM84 -42h5v5h-5zM-46.7 -37.3h5v5h-5zM79.3 -37.3h5v5h-5zM-46.7 -32.7h5v5h-5zM74.7 -32.7h5v5h-5zM-42 -28h5v5h-5zM70 -28h5v5h-5zM-37.3 -23.3h5v5h-5zM56 -23.3h14.3v5h-14.3zM-32.7 -18.7h5v5h-5zM46.7 -18.7h9.6v5h-9.6zM-32.7 -14h5v5h-5zM42 -14h9.6v5h-9.6zM-32.7 -9.3h5v5h-5zM37.3 -9.3h5v5h-5zM-28 -4.7h5v5h-5zM37.3 -4.7h5v5h-5zM-28 0h5v5h-5zM42 0h5v5h-5zM-28 4.7h5v5h-5zM42 4.7h5v5h-5zM42 9.3h5v5h-5zM42 14h5v5h-5zM-28 18.7h5v5h-5zM-28 23.3h5v5h-5zM46.7 23.3h5v5h-5zM-28 28h5v5h-5zM46.7 28h5v5h-5zM37.3 32.7h9.6v5h-9.6zM-23.3 37.3h5v5h-5zM37.3 37.3h5v5h-5zM-18.7 42h5v5h-5zM37.3 42h5v5h-5zM-14 46.7h5v5h-5zM37.3 46.7h5v5h-5zM37.3 51.3h5v5h-5zM-9.3 56h5v5h-5zM37.3 56h9.6v5h-9.6zM-4.7 60.7h5v5h-5zM23.3 60.7h9.6v5h-9.6zM4.7 65.3h14.3v5h-14.3z"/><path fill="#0040ff" d="M-42 -102.7h5v5h-5zM-46.7 -98h9.6v5h-9.6zM-51.3 -93.3h14.3v5h-14.3zM-51.3 -88.7h5v5h-5zM-51.3 -84h5v5h-5zM-46.7 -79.3h5v5h-5zM-46.7 -74.7h5v5h-5zM-42 -70h5v5h-5zM-42 -65.3h5v5h-5zM-42 -60.7h5v5h-5zM-42 -56h5v5h-5zM-46.7 -51.3h5v5h-5zM-46.7 -46.7h5v5h-5zM88.7 -42h9.6v5h-9.6zM84 -37.3h5v5h-5zM79.3 -32.7h5v5h-5zM-46.7 -28h5v5h-5zM74.7 -28h5v5h-5zM-42 -23.3h5v5h-5zM70 -23.3h5v5h-5zM-37.3 -18.7h5v5h-5zM56 -18.7h19v5h-19zM-37.3 -14h5v5h-5zM51.3 -14h9.6v5h-9.6zM-112 -9.3h5v5h-5zM42 -9.3h9.6v5h-9.6zM-32.7 -4.7h5v5h-5zM42 -4.7h5v5h-5zM-32.7 0h5v5h-5zM-32.7 4.7h5v5h-5zM-32.7 9.3h5v5h-5zM-32.7 14h5v5h-5zM-32.7 18.7h5v5h-5zM46.7 18.7h5v5h-5zM-32.7 23.3h5v5h-5zM-28 32.7h5v5h-5zM46.7 32.7h5v5h-5zM42 37.3h5v5h-5zM-18.7 46.7h5v5h-5zM42 46.7h5v5h-5zM-14 51.3h5v5h-5zM42 51.3h5v5h-5zM-14 56h5v5h-5zM-9.3 60.7h5v5h-5zM32.7 60.7h14.3v5h-14.3zM0 65.3h5v5h-5zM18.7 65.3h9.6v5h-9.6z"/><path fill="#0050ff" d="M-51.3 -102.7h9.6v5h-9.6zM-56 -98h9.6v5h-9.6zM-56 -93.3h5v5h-5zM-56 -88.7h5v5h-5zM-51.3 -79.3h5v5h-5zM-46.7 -70h5v5h-5zM-46.7 -65.3h5v5h-5zM-46.7 -60.7h5v5h-5zM-46.7 -56h5v5h-5zM-51.3 -51.3h5v5h-5zM-51.3 -46.7h5v5h-5zM-51.3 -42h5v5h-5zM98 -42h5v5h-5zM-51.3 -37.3h5v5h-5zM88.7 -37.3h5v5h-5zM-51.3 -32.7h5v5h-5zM84 -32.7h5v5h-5zM79.3 -28h5v5h-5zM74.7 -23.3h5v5h-5zM-112 -18.7h5v5h-5zM-42 -18.7h5v5h-5zM74.7 -18.7h5v5h-5zM-112 -14h9.6v5h-9.6zM60.7 -14h14.3v5h-14.3zM-107.3 -9.3h5v5h-5zM-37.3 -9.3h5v5h-5zM51.3 -9.3h14.3v5h-14.3zM-112 -4.7h9.6v5h-9.6zM-37.3 -4.7h5v5h-5zM46.7 -4.7h14.3v5h-14.3zM-37.3 0h5v5h-5zM46.7 0h5v5h-5zM-37.3 4.7h5v5h-5zM46.7 4.7h5v5h-5zM-37.3 9.3h5v5h-5zM46.7 9.3h5v5h-5zM-37.3 14h5v5h-5zM46.7 14h5v5h-5zM-37.3 18.7h5v5h-5zM51.3 18.7h5v5h-5zM51.3 23.3h5v5h-5zM-32.7 28h5v5h-5zM51.3 28h5v5h-5zM-28 37.3h5v5h-5zM46.7 37.3h5v5h-5zM-23.3 42h5v5h-5zM42 42h5v5h-5zM46.7 46.7h5v5h-5zM-18.7 51.3h5v5h-5zM46.7 51.3h5v5h-5zM-18.7 56h5v5h-5zM46.7 56h5v5h-5zM-14 60.7h5v5h-5zM46.7 60.7h5v5h-5zM-4.7 65.3h5v5h-5zM28 65.3h19v5h-19zM4.7 70h14.3v5h-14.3z"/><path fill="#0060ff" d="M-60.7 -93.3h5v5h-5zM-56 -84h5v5h-5zM-56 -79.3h5v5h-5zM-51.3 -74.7h5v5h-5zM-51.3 -70h5v5h-5zM-51.3 -56h5v5h-5zM-107.3 -37.3h5v5h-5zM93.3 -37.3h9.6v5h-9.6zM-107.3 -32.7h9.6v5h-9.6zM88.7 -32.7h5v5h-5zM-107.3 -28h9.6v5h-9.6zM-51.3 -28h5v5h-5zM84 -28h5v5h-5zM-112 -23.3h14.3v5h-14.3zM-46.7 -23.3h5v5h-5zM79.3 -23.3h5v5h-5zM-107.3 -18.7h9.6v5h-9.6zM-102.7 -14h5v5h-5zM-42 -14h5v5h-5zM-102.7 -9.3h5v5h-5zM-42 -9.3h5v5h-5zM65.3 -9.3h5v5h-5zM-102.7 -4.7h5v5h-5zM-42 -4.7h5v5h-5zM60.7 -4.7h5v5h-5zM-112 0h14.3v5h-14.3zM-42 0h5v5h-5zM51.3 0h14.3v5h-14.3zM-42 4.7h5v5h-5zM51.3 4.7h14.3v5h-14.3zM51.3 9.3h9.6v5h-9.6zM51.3 14h9.6v5h-9.6zM56 18.7h5v5h-5zM-37.3 23.3h5v5h-5zM56 23.3h5v5h-5zM56 28h5v5h-5zM-32.7 32.7h5v5h-5zM51.3 32.7h9.6v5h-9.6zM51.3 37.3h14.3v5h-14.3zM-28 42h5v5h-5zM46.7 42h14.3v5h-14.3zM-23.3 46.7h5v5h-5zM51.3 46.7h9.6v5h-9.6zM51.3 51.3h9.6v5h-9.6zM51.3 56h9.6v5h-9.6zM-18.7 60.7h5v5h-5zM51.3 60.7h5v5h-5zM-14 65.3h9.6v5h-9.6zM46.7 65.3h5v5h-5zM-4.7 70h9.6v5h-9.6zM18.7 70h9.6v5h-9.6z"/><path fill="#0070ff" d="M-65.3 -93.3h5v5h-5zM-60.7 -88.7h5v5h-5zM-60.7 -84h5v5h-5zM-56 -74.7h5v5h-5zM-56 -70h5v5h-5zM-51.3 -65.3h5v5h-5zM-51.3 -60.7h5v5h-5zM-56 -51.3h5v5h-5zM-56 -46.7h5v5h-5zM-56 -42h5v5h-5zM-102.7 -37.3h5v5h-5zM102.7 -37.3h5v5h-5zM93.3 -32.7h5v5h-5zM88.7 -28h5v5h-5zM-51.3 -23.3h5v5h-5zM84 -23.3h9.6v5h-9.6zM-46.7 -18.7h5v5h-5zM79.3 -18.7h5v5h-5zM-46.7 -14h5v5h-5zM74.7 -14h5v5h-5zM-98 -9.3h5v5h-5zM70 -9.3h5v5h-5zM-98 -4.7h5v5h-5zM65.3 -4.7h5v5h-5zM-98 0h5v5h-5zM65.3 0h5v5h-5zM-112 4.7h14.3v5h-14.3zM65.3 4.7h5v5h-5zM-102.7 9.3h5v5h-5zM-42 9.3h5v5h-5zM60.7 9.3h9.6v5h-9.6zM-42 14h5v5h-5zM60.7 14h9.6v5h-9.6zM-42 18.7h5v5h-5zM60.7 18.7h9.6v5h-9.6zM-42 23.3h5v5h-5zM60.7 23.3h9.6v5h-9.6zM-37.3 28h5v5h-5zM60.7 28h14.3v5h-14.3zM60.7 32.7h14.3v5h-14.3zM-32.7 37.3h5v5h-5zM65.3 37.3h9.6v5h-9.6zM60.7 42h9.6v5h-9.6zM60.7 46.7h5v5h-5zM-23.3 51.3h5v5h-5zM60.7 51.3h9.6v5h-9.6zM84 51.3h14.3v5h-14.3zM60.7 56h9.6v5h-9.6zM56 60.7h14.3v5h-14.3zM51.3 65.3h14.3v5h-14.3zM-9.3 70h5v5h-5zM28 70h28.3v5h-28.3zM4.7 74.7h19v5h-19z"/><path fill="#0080ff" d="M-65.3 -88.7h5v5h-5zM-60.7 -79.3h5v5h-5zM-60.7 -74.7h5v5h-5zM-60.7 -70h5v5h-5zM-93.3 -65.3h9.6v5h-9.6zM-56 -65.3h5v5h-5zM-93.3 -60.7h9.6v5h-9.6zM-56 -60.7h5v5h-5zM-98 -56h14.3v5h-14.3zM-56 -56h5v5h-5zM-102.7 -51.3h9.6v5h-9.6zM-102.7 -46.7h5v5h-5zM-102.7 -42h5v5h-5zM-98 -37.3h5v5h-5zM-56 -37.3h5v5h-5zM-98 -32.7h5v5h-5zM-56 -32.7h5v5h-5zM98 -32.7h9.6v5h-9.6zM-98 -28h5v5h-5zM-56 -28h5v5h-5zM93.3 -28h5v5h-5zM-98 -23.3h5v5h-5zM-56 -23.3h5v5h-5zM93.3 -23.3h5v5h-5zM-98 -18.7h5v5h-5zM-51.3 -18.7h5v5h-5zM84 -18.7h14.3v5h-14.3zM-98 -14h5v5h-5zM79.3 -14h5v5h-5zM-46.7 -9.3h5v5h-5zM74.7 -9.3h5v5h-5zM-46.7 -4.7h5v5h-5zM70 -4.7h5v5h-5zM-93.3 0h5v5h-5zM-46.7 0h5v5h-5zM70 0h5v5h-5zM-98 4.7h5v5h-5zM-46.7 4.7h5v5h-5zM70 4.7h5v5h-5zM-112 9.3h9.6v5h-9.6zM-98 9.3h5v5h-5zM-46.7 9.3h5v5h-5zM70 9.3h5v5h-5zM-102.7 14h5v5h-5zM-46.7 14h5v5h-5zM70 14h5v5h-5zM-46.7 18.7h5v5h-5zM70 18.7h9.6v5h-9.6zM70 23.3h9.6v5h-9.6zM-42 28h5v5h-5zM74.7 28h5v5h-5zM-37.3 32.7h5v5h-5zM74.7 32.7h5v5h-5zM74.7 37.3h5v5h-5zM-32.7 42h5v5h-5zM70 42h5v5h-5zM-28 46.7h5v5h-5zM65.3 46.7h33v5h-33zM70 51.3h14.3v5h-14.3zM-23.3 56h5v5h-5zM70 56h23.6v5h-23.6zM-23.3 60.7h5v5h-5zM70 60.7h9.6v5h-9.6zM88.7 60.7h5v5h-5zM-18.7 65.3h5v5h-5zM65.3 65.3h19v5h-19zM-14 70h5v5h-5zM56 70h28.3v5h-28.3zM-4.7 74.7h9.6v5h-9.6zM23.3 74.7h37.6v5h-37.6zM70 74.7h9.6v5h-9.6zM32.7 79.3h19v5h-19zM70 79.3h5v5h-5z"/><path fill="#0090ff" d="M-65.3 -84h5v5h-5zM-65.3 -79.3h5v5h-5zM-84 -74.7h5v5h-5zM-65.3 -74.7h5v5h-5zM-88.7 -70h14.3v5h-14.3zM-65.3 -70h5v5h-5zM-84 -65.3h9.6v5h-9.6zM-60.7 -65.3h5v5h-5zM-84 -60.7h5v5h-5zM-84 -56h5v5h-5zM-93.3 -51.3h9.6v5h-9.6zM-98 -46.7h5v5h-5zM-60.7 -46.7h5v5h-5zM-98 -42h5v5h-5zM-60.7 -42h5v5h-5zM-60.7 -28h5v5h-5zM98 -28h9.6v5h-9.6zM-60.7 -23.3h5v5h-5zM98 -23.3h5v5h-5zM-93.3 -18.7h5v5h-5zM-56 -18.7h5v5h-5zM98 -18.7h5v5h-5zM-93.3 -14h5v5h-5zM-51.3 -14h5v5h-5zM84 -14h14.3v5h-14.3zM-93.3 -9.3h5v5h-5zM-51.3 -9.3h5v5h-5zM79.3 -9.3h5v5h-5zM-93.3 -4.7h5v5h-5zM-51.3 -4.7h5v5h-5zM74.7 -4.7h5v5h-5zM-51.3 0h5v5h-5zM74.7 0h5v5h-5zM-93.3 4.7h5v5h-5zM-51.3 4.7h5v5h-5zM74.7 4.7h9.6v5h-9.6zM-51.3 9.3h5v5h-5zM74.7 9.3h5v5h-5zM-112 14h9.6v5h-9.6zM-98 14h5v5h-5zM-51.3 14h5v5h-5zM74.7 14h5v5h-5zM79.3 18.7h5v5h-5zM-46.7 23.3h5v5h-5zM79.3 23.3h5v5h-5zM79.3 28h5v5h-5zM79.3 32.7h5v5h-5zM-37.3 37.3h5v5h-5zM79.3 37.3h9.6v5h-9.6zM-37.3 42h5v5h-5zM74.7 42h23.6v5h-23.6zM-32.7 46.7h5v5h-5zM98 46.7h5v5h-5zM-28 51.3h5v5h-5zM-28 56h5v5h-5zM79.3 60.7h9.6v5h-9.6zM-23.3 65.3h5v5h-5zM84 65.3h5v5h-5zM-18.7 70h5v5h-5zM-14 74.7h9.6v5h-9.6zM60.7 74.7h9.6v5h-9.6zM4.7 79.3h28.3v5h-28.3zM51.3 79.3h19v5h-19zM32.7 84h28.3v5h-28.3zM65.3 84h5v5h-5zM60.7 88.7h5v5h-5z"/><path fill="#00a0ff" d="M-70 -88.7h5v5h-5zM-79.3 -74.7h14.3v5h-14.3zM-74.7 -70h9.6v5h-9.6zM-74.7 -65.3h14.3v5h-14.3zM-79.3 -60.7h5v5h-5zM-60.7 -60.7h5v5h-5zM-60.7 -56h5v5h-5zM-84 -51.3h5v5h-5zM-60.7 -51.3h5v5h-5zM-93.3 -46.7h9.6v5h-9.6zM-93.3 -42h5v5h-5zM-93.3 -37.3h5v5h-5zM-60.7 -37.3h5v5h-5zM-93.3 -32.7h5v5h-5zM-60.7 -32.7h5v5h-5zM-93.3 -28h5v5h-5zM-93.3 -23.3h5v5h-5zM102.7 -23.3h9.6v5h-9.6zM-60.7 -18.7h5v5h-5zM102.7 -18.7h9.6v5h-9.6zM-56 -14h5v5h-5zM98 -14h5v5h-5zM-88.7 -9.3h5v5h-5zM-56 -9.3h5v5h-5zM84 -9.3h19v5h-19zM-88.7 -4.7h5v5h-5zM79.3 -4.7h9.6v5h-9.6zM-88.7 0h5v5h-5zM79.3 0h9.6v5h-9.6zM-88.7 4.7h5v5h-5zM-93.3 9.3h5v5h-5zM79.3 9.3h5v5h-5zM79.3 14h5v5h-5zM-112 18.7h14.3v5h-14.3zM-51.3 18.7h5v5h-5zM-51.3 23.3h5v5h-5zM84 23.3h5v5h-5zM-46.7 28h5v5h-5zM84 28h5v5h-5zM-42 32.7h5v5h-5zM84 32.7h9.6v5h-9.6zM88.7 37.3h14.3v5h-14.3zM98 42h5v5h-5zM-37.3 46.7h5v5h-5zM-32.7 51.3h5v5h-5zM-28 60.7h5v5h-5zM-23.3 70h5v5h-5zM-18.7 74.7h5v5h-5zM-4.7 79.3h9.6v5h-9.6zM23.3 84h9.6v5h-9.6zM60.7 84h5v5h-5zM37.3 88.7h23.6v5h-23.6z"/><path fill="#00b0ff" d="M-74.7 -84h9.6v5h-9.6zM-79.3 -79.3h14.3v5h-14.3zM-74.7 -60.7h14.3v5h-14.3zM-79.3 -56h5v5h-5zM-65.3 -56h5v5h-5zM-84 -46.7h5v5h-5zM-88.7 -42h9.6v5h-9.6zM-65.3 -42h5v5h-5zM-88.7 -37.3h5v5h-5zM-65.3 -37.3h5v5h-5zM-65.3 -32.7h5v5h-5zM-65.3 -28h5v5h-5zM-65.3 -23.3h5v5h-5zM-88.7 -18.7h5v5h-5zM-65.3 -18.7h5v5h-5zM-88.7 -14h5v5h-5zM-60.7 -14h5v5h-5zM102.7 -14h9.6v5h-9.6zM-84 -9.3h5v5h-5zM-60.7 -9.3h5v5h-5zM-84 -4.7h5v5h-5zM-56 -4.7h5v5h-5zM88.7 -4.7h14.3v5h-14.3zM-84 0h5v5h-5zM-56 0h5v5h-5zM88.7 0h5v5h-5zM-56 4.7h5v5h-5zM84 4.7h9.6v5h-9.6zM-88.7 9.3h5v5h-5zM-56 9.3h5v5h-5zM84 9.3h5v5h-5zM-93.3 14h5v5h-5zM-56 14h5v5h-5zM84 14h5v5h-5zM-98 18.7h5v5h-5zM-56 18.7h5v5h-5zM84 18.7h5v5h-5zM88.7 23.3h5v5h-5zM88.7 28h5v5h-5zM93.3 32.7h14.3v5h-14.3zM-42 37.3h5v5h-5zM-37.3 51.3h5v5h-5zM-32.7 56h5v5h-5zM-28 65.3h5v5h-5zM-23.3 74.7h5v5h-5zM-18.7 79.3h14.3v5h-14.3zM0 84h23.6v5h-23.6zM23.3 88.7h14.3v5h-14.3zM42 93.3h14.3v5h-14.3zM18.7 98h5v5h-5zM18.7 102.7h9.6v5h-9.6zM9.3 107.3h14.3v5h-14.3z"/><path fill="#00c0ff" d="M-74.7 -56h9.6v5h-9.6zM-79.3 -51.3h5v5h-5zM-65.3 -51.3h5v5h-5zM-79.3 -46.7h5v5h-5zM-65.3 -46.7h5v5h-5zM-79.3 -42h5v5h-5zM-70 -42h5v5h-5zM-84 -37.3h5v5h-5zM-70 -37.3h5v5h-5zM-88.7 -32.7h5v5h-5zM-70 -32.7h5v5h-5zM-88.7 -28h5v5h-5zM-70 -28h5v5h-5zM-88.7 -23.3h5v5h-5zM-70 -23.3h5v5h-5zM-84 -18.7h5v5h-5zM-70 -18.7h5v5h-5zM-84 -14h9.6v5h-9.6zM-65.3 -14h5v5h-5zM-79.3 -9.3h5v5h-5zM-65.3 -9.3h5v5h-5zM102.7 -9.3h9.6v5h-9.6zM-79.3 -4.7h5v5h-5zM-60.7 -4.7h5v5h-5zM-79.3 0h5v5h-5zM-60.7 0h5v5h-5zM93.3 0h9.6v5h-9.6zM-84 4.7h5v5h-5zM-60.7 4.7h5v5h-5zM93.3 4.7h5v5h-5zM-60.7 9.3h5v5h-5zM88.7 9.3h14.3v5h-14.3zM-88.7 14h5v5h-5zM-60.7 14h5v5h-5zM88.7 14h14.3v5h-14.3zM-93.3 18.7h5v5h-5zM88.7 18.7h14.3v5h-14.3zM-107.3 23.3h9.6v5h-9.6zM-56 23.3h5v5h-5zM93.3 23.3h14.3v5h-14.3zM-51.3 28h5v5h-5zM93.3 28h14.3v5h-14.3zM-46.7 32.7h5v5h-5zM-42 42h5v5h-5zM-32.7 60.7h5v5h-5zM-28 70h5v5h-5zM-28 74.7h5v5h-5zM-23.3 79.3h5v5h-5zM-23.3 84h23.6v5h-23.6zM-4.7 88.7h28.3v5h-28.3zM-9.3 93.3h19v5h-19zM14 93.3h28.3v5h-28.3zM0 98h19v5h-19zM23.3 98h9.6v5h-9.6zM42 98h9.6v5h-9.6zM4.7 102.7h14.3v5h-14.3zM28 102.7h9.6v5h-9.6zM4.7 107.3h5v5h-5z"/><path fill="#00d0ff" d="M-74.7 -51.3h9.6v5h-9.6zM-74.7 -46.7h9.6v5h-9.6zM-74.7 -42h5v5h-5zM-79.3 -37.3h9.6v5h-9.6zM-84 -32.7h14.3v5h-14.3zM-84 -28h5v5h-5zM-74.7 -28h5v5h-5zM-84 -23.3h14.3v5h-14.3zM-79.3 -18.7h9.6v5h-9.6zM-74.7 -14h9.6v5h-9.6zM-74.7 -9.3h9.6v5h-9.6zM-74.7 -4.7h14.3v5h-14.3zM102.7 -4.7h9.6v5h-9.6zM-65.3 0h5v5h-5zM102.7 0h5v5h-5zM-79.3 4.7h5v5h-5zM-65.3 4.7h5v5h-5zM98 4.7h5v5h-5zM-84 9.3h5v5h-5zM102.7 9.3h5v5h-5zM102.7 14h9.6v5h-9.6zM-88.7 18.7h5v5h-5zM-60.7 18.7h5v5h-5zM102.7 18.7h9.6v5h-9.6zM-98 23.3h5v5h-5zM-107.3 28h5v5h-5zM-51.3 32.7h5v5h-5zM-46.7 37.3h5v5h-5zM-42 46.7h5v5h-5zM-37.3 56h5v5h-5zM-32.7 65.3h5v5h-5zM-32.7 70h5v5h-5zM-28 79.3h5v5h-5zM-28 84h5v5h-5zM-23.3 88.7h19v5h-19zM-14 93.3h5v5h-5zM9.3 93.3h5v5h-5zM-14 98h14.3v5h-14.3zM32.7 98h9.6v5h-9.6zM0 102.7h5v5h-5zM0 107.3h5v5h-5z"/><path fill="#00e0fb" d="M-79.3 -28h5v5h-5zM-74.7 0h9.6v5h-9.6zM107.3 0h5v5h-5zM-74.7 4.7h9.6v5h-9.6zM102.7 4.7h9.6v5h-9.6zM-79.3 9.3h5v5h-5zM-65.3 9.3h5v5h-5zM107.3 9.3h5v5h-5zM-84 14h5v5h-5zM-65.3 14h5v5h-5zM-93.3 23.3h5v5h-5zM-60.7 23.3h5v5h-5zM-102.7 28h5v5h-5zM-56 28h5v5h-5zM-107.3 32.7h5v5h-5zM-46.7 42h5v5h-5zM-42 51.3h5v5h-5zM-37.3 60.7h5v5h-5zM-32.7 74.7h5v5h-5zM-32.7 79.3h5v5h-5zM-28 88.7h5v5h-5zM-23.3 93.3h9.6v5h-9.6zM-18.7 98h5v5h-5zM-14 102.7h14.3v5h-14.3zM-9.3 107.3h9.6v5h-9.6z"/><path fill="#09f0ee" d="M-74.7 9.3h9.6v5h-9.6zM-79.3 14h14.3v5h-14.3zM-84 18.7h9.6v5h-9.6zM-65.3 18.7h5v5h-5zM-88.7 23.3h5v5h-5zM-98 28h5v5h-5zM-60.7 28h5v5h-5zM-102.7 32.7h5v5h-5zM-56 32.7h5v5h-5zM-102.7 37.3h5v5h-5zM-51.3 37.3h5v5h-5zM-102.7 42h5v5h-5zM-46.7 46.7h5v5h-5zM-42 56h5v5h-5zM-37.3 65.3h5v5h-5zM-37.3 70h5v5h-5zM-32.7 84h5v5h-5zM-32.7 88.7h5v5h-5zM-28 93.3h5v5h-5zM-23.3 98h5v5h-5zM-18.7 102.7h5v5h-5zM-18.7 107.3h9.6v5h-9.6z"/><path fill="#16ffe1" d="M-74.7 18.7h9.6v5h-9.6zM-84 23.3h23.6v5h-23.6zM-93.3 28h5v5h-5zM-98 32.7h5v5h-5zM-60.7 32.7h5v5h-5zM-56 37.3h5v5h-5zM-51.3 42h5v5h-5zM-102.7 46.7h5v5h-5zM-46.7 51.3h5v5h-5zM-42 60.7h5v5h-5zM-37.3 74.7h5v5h-5zM-23.3 102.7h5v5h-5zM-23.3 107.3h5v5h-5z"/><path fill="#23ffd4" d="M-88.7 28h5v5h-5zM-70 28h9.6v5h-9.6zM-65.3 32.7h5v5h-5zM-98 37.3h5v5h-5zM-60.7 37.3h5v5h-5zM-98 42h5v5h-5zM-56 42h5v5h-5zM-98 46.7h5v5h-5zM-51.3 46.7h5v5h-5zM-46.7 56h5v5h-5zM-42 65.3h5v5h-5zM-37.3 79.3h5v5h-5zM-32.7 93.3h5v5h-5zM-28 98h5v5h-5zM-28 102.7h5v5h-5z"/><path fill="#30ffc7" d="M-84 28h14.3v5h-14.3zM-93.3 32.7h5v5h-5zM-70 32.7h5v5h-5zM-65.3 37.3h5v5h-5zM-65.3 42h9.6v5h-9.6zM-56 46.7h5v5h-5zM-98 51.3h5v5h-5zM-51.3 51.3h5v5h-5zM-46.7 60.7h5v5h-5zM-42 70h5v5h-5zM-37.3 84h5v5h-5zM-37.3 88.7h5v5h-5zM-32.7 98h5v5h-5z"/><path fill="#3cffba" d="M-88.7 32.7h5v5h-5zM-79.3 32.7h9.6v5h-9.6zM-93.3 37.3h5v5h-5zM-70 37.3h5v5h-5zM-93.3 42h5v5h-5zM-93.3 46.7h5v5h-5zM-60.7 46.7h5v5h-5zM-93.3 51.3h5v5h-5zM-56 51.3h5v5h-5zM-51.3 56h5v5h-5zM-46.7 65.3h5v5h-5zM-42 74.7h5v5h-5zM-37.3 93.3h5v5h-5zM-32.7 102.7h5v5h-5z"/><path fill="#49ffad" d="M-84 32.7h5v5h-5zM-74.7 37.3h5v5h-5zM-70 42h5v5h-5zM-65.3 46.7h5v5h-5zM-60.7 51.3h5v5h-5zM-93.3 56h5v5h-5zM-56 56h5v5h-5zM-51.3 60.7h5v5h-5zM-42 79.3h5v5h-5zM-37.3 98h5v5h-5zM-37.3 102.7h5v5h-5z"/><path fill="#56ffa0" d="M-88.7 37.3h14.3v5h-14.3zM-88.7 42h5v5h-5zM-74.7 42h5v5h-5zM-88.7 46.7h5v5h-5zM-70 46.7h5v5h-5zM-88.7 51.3h5v5h-5zM-88.7 56h5v5h-5zM-88.7 60.7h5v5h-5zM-56 60.7h5v5h-5zM-51.3 65.3h5v5h-5zM-46.7 70h5v5h-5zM-42 84h5v5h-5z"/><path fill="#63ff94" d="M-84 42h9.6v5h-9.6zM-65.3 51.3h5v5h-5zM-84 56h5v5h-5zM-60.7 56h5v5h-5zM-93.3 60.7h5v5h-5zM-84 60.7h5v5h-5zM-88.7 65.3h9.6v5h-9.6zM-56 65.3h5v5h-5zM-46.7 74.7h5v5h-5zM-42 88.7h5v5h-5z"/><path fill="#70ff87" d="M-84 46.7h14.3v5h-14.3zM-84 51.3h5v5h-5zM-70 51.3h5v5h-5zM-65.3 56h5v5h-5zM-79.3 60.7h5v5h-5zM-60.7 60.7h5v5h-5zM-79.3 65.3h5v5h-5zM-65.3 65.3h9.6v5h-9.6zM-84 70h37.6v5h-37.6zM-46.7 79.3h5v5h-5zM-42 93.3h5v5h-5zM-42 98h5v5h-5z"/><path fill="#7dff7a" d="M-79.3 51.3h9.6v5h-9.6zM-79.3 56h14.3v5h-14.3zM-74.7 60.7h14.3v5h-14.3zM-74.7 65.3h9.6v5h-9.6zM-79.3 74.7h23.6v5h-23.6zM-51.3 74.7h5v5h-5zM-74.7 79.3h9.6v5h-9.6zM-46.7 84h5v5h-5z"/><path fill="#8aff6d" d="M-56 74.7h5v5h-5zM-65.3 79.3h5v5h-5zM-51.3 79.3h5v5h-5zM-46.7 88.7h5v5h-5z"/><path fill="#97ff60" d="M-60.7 79.3h9.6v5h-9.6zM-70 84h9.6v5h-9.6zM-46.7 93.3h5v5h-5zM-46.7 98h5v5h-5z"/><path fill="#a4ff53" d="M-60.7 84h14.3v5h-14.3zM-65.3 88.7h5v5h-5zM-51.3 88.7h5v5h-5z"/><path fill="#b1ff46" d="M-60.7 88.7h9.6v5h-9.6zM-56 93.3h9.6v5h-9.6zM-51.3 98h5v5h-5z"/></g></g></g><filter id="hmC-b" x="-5%" y="-5%" width="110%" height="110%" filterUnits="objectBoundingBox"><feGaussianBlur stdDeviation="2.80"/></filter><clipPath id="hmC-c"><ellipse rx="96.8" ry="100"/></clipPath><g id="hmC"><g clip-path="url(#hmC-c)"><g filter="url(#hmC-b)" shape-rendering="crispEdges"><path fill="#0060ff" d="M-112 0h5v5h-5z"/><path fill="#0070ff" d="M-102.7 -46.7h5v5h-5zM-102.7 -42h5v5h-5zM-107.3 -37.3h9.6v5h-9.6zM-107.3 -32.7h9.6v5h-9.6zM-112 -4.7h9.6v5h-9.6zM-107.3 0h5v5h-5zM-112 4.7h9.6v5h-9.6zM-112 9.3h5v5h-5z"/><path fill="#0080ff" d="M-102.7 -51.3h9.6v5h-9.6zM-98 -46.7h5v5h-5zM-98 -42h5v5h-5zM-98 -37.3h5v5h-5zM-98 -32.7h5v5h-5zM-107.3 -28h14.3v5h-14.3zM-107.3 -23.3h14.3v5h-14.3zM-102.7 -18.7h9.6v5h-9.6zM-107.3 -14h9.6v5h-9.6zM-112 -9.3h14.3v5h-14.3zM-102.7 -4.7h5v5h-5zM-102.7 0h5v5h-5zM-102.7 4.7h5v5h-5zM-107.3 9.3h9.6v5h-9.6zM-112 14h14.3v5h-14.3z"/><path fill="#0090ff" d="M-98 -56h5v5h-5zM-93.3 -51.3h5v5h-5zM-93.3 -46.7h5v5h-5zM-93.3 -42h5v5h-5zM-93.3 -37.3h5v5h-5zM-93.3 -32.7h5v5h-5zM-93.3 -28h5v5h-5zM-112 -23.3h5v5h-5zM-93.3 -23.3h5v5h-5zM-112 -18.7h9.6v5h-9.6zM-93.3 -18.7h9.6v5h-9.6zM-112 -14h5v5h-5zM-98 -14h9.6v5h-9.6zM-98 -9.3h9.6v5h-9.6zM-98 -4.7h5v5h-5zM-98 0h5v5h-5zM-98 4.7h5v5h-5zM-98 9.3h5v5h-5zM-98 14h5v5h-5zM-112 18.7h14.3v5h-14.3zM-102.7 42h5v5h-5z"/><path fill="#00a0ff" d="M-88.7 -70h5v5h-5zM-93.3 -65.3h9.6v5h-9.6zM-93.3 -60.7h9.6v5h-9.6zM-93.3 -56h9.6v5h-9.6zM-88.7 -51.3h5v5h-5zM-88.7 -46.7h5v5h-5zM-88.7 -28h5v5h-5zM-88.7 -23.3h5v5h-5zM-88.7 -14h5v5h-5zM-88.7 -9.3h5v5h-5zM-93.3 -4.7h5v5h-5zM-93.3 0h5v5h-5zM-93.3 4.7h5v5h-5zM-93.3 9.3h5v5h-5zM-98 18.7h5v5h-5zM-107.3 23.3h9.6v5h-9.6zM-107.3 32.7h5v5h-5zM-102.7 37.3h5v5h-5z"/><path fill="#00b0ff" d="M-84 -65.3h5v5h-5zM-84 -60.7h5v5h-5zM-84 -56h5v5h-5zM-84 -51.3h5v5h-5zM-88.7 -42h5v5h-5zM-88.7 -37.3h5v5h-5zM-88.7 -32.7h5v5h-5zM-84 -23.3h5v5h-5zM-84 -18.7h5v5h-5zM-84 -14h5v5h-5zM-88.7 -4.7h5v5h-5zM-88.7 0h5v5h-5zM-88.7 4.7h5v5h-5zM-93.3 14h5v5h-5zM-93.3 18.7h5v5h-5zM-98 23.3h5v5h-5zM-107.3 28h9.6v5h-9.6zM-102.7 32.7h5v5h-5zM-102.7 46.7h5v5h-5z"/><path fill="#00c0ff" d="M-84 -70h5v5h-5zM-79.3 -65.3h5v5h-5zM-79.3 -60.7h5v5h-5zM-79.3 -56h5v5h-5zM-79.3 -51.3h5v5h-5zM-84 -46.7h5v5h-5zM-84 -42h5v5h-5zM-84 -28h5v5h-5zM-84 -9.3h5v5h-5zM-84 -4.7h5v5h-5zM-84 0h5v5h-5zM-84 4.7h5v5h-5zM-88.7 9.3h5v5h-5zM-88.7 14h5v5h-5zM-93.3 23.3h5v5h-5zM-98 28h5v5h-5zM-98 32.7h5v5h-5z"/><path fill="#00d0ff" d="M-84 -74.7h5v5h-5zM-79.3 -70h5v5h-5zM-79.3 -46.7h5v5h-5zM-84 -37.3h5v5h-5zM-84 -32.7h5v5h-5zM-79.3 -23.3h5v5h-5zM-79.3 -18.7h5v5h-5zM-79.3 -14h5v5h-5zM-79.3 -9.3h5v5h-5zM-84 9.3h5v5h-5zM-88.7 18.7h5v5h-5zM-98 37.3h5v5h-5zM-98 42h5v5h-5z"/><path fill="#00e0fb" d="M-79.3 -74.7h9.6v5h-9.6zM-74.7 -70h5v5h-5zM-74.7 -65.3h5v5h-5zM-51.3 -65.3h9.6v5h-9.6zM-74.7 -60.7h5v5h-5zM-74.7 -56h5v5h-5zM-74.7 -51.3h5v5h-5zM-74.7 -46.7h5v5h-5zM-79.3 -42h5v5h-5zM-79.3 -37.3h5v5h-5zM-79.3 -32.7h5v5h-5zM-79.3 -28h5v5h-5zM-74.7 -23.3h5v5h-5zM-74.7 -18.7h5v5h-5zM-79.3 -4.7h5v5h-5zM-79.3 0h5v5h-5zM-79.3 4.7h5v5h-5zM-84 14h5v5h-5zM-88.7 23.3h5v5h-5zM-93.3 28h5v5h-5z"/><path fill="#09f0ee" d="M-74.7 -84h9.6v5h-9.6zM-79.3 -79.3h14.3v5h-14.3zM-70 -74.7h9.6v5h-9.6zM-70 -70h9.6v5h-9.6zM-56 -70h19v5h-19zM-70 -65.3h5v5h-5zM-60.7 -65.3h9.6v5h-9.6zM-42 -65.3h5v5h-5zM-56 -60.7h19v5h-19zM-74.7 -42h5v5h-5zM-74.7 -37.3h5v5h-5zM-74.7 -32.7h5v5h-5zM-74.7 -28h5v5h-5zM-74.7 -14h5v5h-5zM-74.7 -9.3h5v5h-5zM-74.7 -4.7h5v5h-5zM-79.3 9.3h5v5h-5zM-84 18.7h5v5h-5zM-93.3 32.7h5v5h-5zM-98 46.7h5v5h-5z"/><path fill="#16ffe1" d="M-65.3 -79.3h5v5h-5zM-37.3 -74.7h9.6v5h-9.6zM-60.7 -70h5v5h-5zM-37.3 -70h9.6v5h-9.6zM-65.3 -65.3h5v5h-5zM-37.3 -65.3h5v5h-5zM-70 -60.7h14.3v5h-14.3zM-37.3 -60.7h5v5h-5zM-70 -56h5v5h-5zM-51.3 -56h19v5h-19zM-70 -51.3h5v5h-5zM-70 -46.7h5v5h-5zM-70 -42h5v5h-5zM-70 -37.3h5v5h-5zM-70 -32.7h5v5h-5zM-28 -32.7h9.6v5h-9.6zM-70 -28h5v5h-5zM-70 -23.3h5v5h-5zM-37.3 -23.3h5v5h-5zM-70 -18.7h5v5h-5zM-37.3 -18.7h9.6v5h-9.6zM-74.7 0h5v5h-5zM-74.7 4.7h5v5h-5zM-79.3 14h5v5h-5zM-88.7 28h5v5h-5z"/><path fill="#23ffd4" d="M-70 -88.7h5v5h-5zM-65.3 -84h5v5h-5zM-32.7 -84h5v5h-5zM-37.3 -79.3h9.6v5h-9.6zM-60.7 -74.7h5v5h-5zM-46.7 -74.7h9.6v5h-9.6zM-28 -74.7h5v5h-5zM-28 -70h5v5h-5zM-32.7 -65.3h9.6v5h-9.6zM-32.7 -60.7h5v5h-5zM-65.3 -56h14.3v5h-14.3zM-32.7 -56h9.6v5h-9.6zM-65.3 -51.3h5v5h-5zM-51.3 -51.3h28.3v5h-28.3zM-37.3 -46.7h14.3v5h-14.3zM-32.7 -42h14.3v5h-14.3zM-65.3 -37.3h5v5h-5zM-32.7 -37.3h19v5h-19zM-65.3 -32.7h5v5h-5zM-32.7 -32.7h5v5h-5zM-18.7 -32.7h9.6v5h-9.6zM-65.3 -28h5v5h-5zM-42 -28h33v5h-33zM-65.3 -23.3h5v5h-5zM-42 -23.3h5v5h-5zM-32.7 -23.3h19v5h-19zM-42 -18.7h5v5h-5zM-28 -18.7h9.6v5h-9.6zM-70 -14h5v5h-5zM-37.3 -14h14.3v5h-14.3zM-70 -9.3h5v5h-5zM-70 -4.7h5v5h-5zM-74.7 9.3h5v5h-5zM-79.3 18.7h5v5h-5zM-84 23.3h5v5h-5zM-93.3 37.3h5v5h-5z"/><path fill="#30ffc7" d="M-32.7 -98h5v5h-5zM-37.3 -93.3h14.3v5h-14.3zM-32.7 -88.7h9.6v5h-9.6zM-37.3 -84h5v5h-5zM-28 -84h9.6v5h-9.6zM-28 -79.3h14.3v5h-14.3zM-56 -74.7h9.6v5h-9.6zM-23.3 -74.7h9.6v5h-9.6zM-23.3 -70h14.3v5h-14.3zM-23.3 -65.3h9.6v5h-9.6zM-28 -60.7h14.3v5h-14.3zM-23.3 -56h9.6v5h-9.6zM-60.7 -51.3h9.6v5h-9.6zM-23.3 -51.3h9.6v5h-9.6zM-65.3 -46.7h28.3v5h-28.3zM-23.3 -46.7h9.6v5h-9.6zM-65.3 -42h9.6v5h-9.6zM-42 -42h9.6v5h-9.6zM-18.7 -42h5v5h-5zM-60.7 -37.3h5v5h-5zM-37.3 -37.3h5v5h-5zM-14 -37.3h5v5h-5zM-60.7 -32.7h5v5h-5zM-42 -32.7h9.6v5h-9.6zM-9.3 -32.7h5v5h-5zM-60.7 -28h5v5h-5zM-46.7 -28h5v5h-5zM-9.3 -28h5v5h-5zM-60.7 -23.3h5v5h-5zM-46.7 -23.3h5v5h-5zM-14 -23.3h9.6v5h-9.6zM-65.3 -18.7h5v5h-5zM-46.7 -18.7h5v5h-5zM-18.7 -18.7h14.3v5h-14.3zM-65.3 -14h5v5h-5zM-42 -14h5v5h-5zM-23.3 -14h19v5h-19zM-65.3 -9.3h5v5h-5zM-32.7 -9.3h23.6v5h-23.6zM-23.3 -4.7h5v5h-5zM-70 0h5v5h-5zM-70 4.7h5v5h-5zM-74.7 14h5v5h-5zM-88.7 32.7h5v5h-5zM-93.3 42h5v5h-5zM-98 51.3h5v5h-5z"/><path fill="#3cffba" d="M-23.3 -112h5v5h-5zM-37.3 -107.3h19v5h-19zM-37.3 -102.7h14.3v5h-14.3zM-37.3 -98h5v5h-5zM-28 -98h5v5h-5zM-23.3 -93.3h5v5h-5zM-65.3 -88.7h5v5h-5zM-37.3 -88.7h5v5h-5zM-23.3 -88.7h9.6v5h-9.6zM-18.7 -84h9.6v5h-9.6zM-60.7 -79.3h5v5h-5zM-42 -79.3h5v5h-5zM-14 -79.3h5v5h-5zM-14 -74.7h9.6v5h-9.6zM-9.3 -70h5v5h-5zM-14 -65.3h5v5h-5zM-14 -60.7h5v5h-5zM-14 -56h5v5h-5zM-14 -51.3h5v5h-5zM-14 -46.7h5v5h-5zM-56 -42h14.3v5h-14.3zM-14 -42h9.6v5h-9.6zM-56 -37.3h19v5h-19zM-9.3 -37.3h9.6v5h-9.6zM-56 -32.7h14.3v5h-14.3zM-4.7 -32.7h9.6v5h-9.6zM-56 -28h9.6v5h-9.6zM-4.7 -28h5v5h-5zM-56 -23.3h9.6v5h-9.6zM-4.7 -23.3h5v5h-5zM-60.7 -18.7h14.3v5h-14.3zM-4.7 -18.7h5v5h-5zM-60.7 -14h5v5h-5zM-46.7 -14h5v5h-5zM-4.7 -14h5v5h-5zM-37.3 -9.3h5v5h-5zM-9.3 -9.3h5v5h-5zM-65.3 -4.7h5v5h-5zM-32.7 -4.7h9.6v5h-9.6zM-18.7 -4.7h9.6v5h-9.6zM-65.3 0h5v5h-5zM-23.3 0h9.6v5h-9.6zM-70 9.3h5v5h-5zM-70 14h5v5h-5zM-74.7 18.7h5v5h-5zM-79.3 23.3h5v5h-5zM-84 28h5v5h-5z"/><path fill="#49ffad" d="M-18.7 -112h9.6v5h-9.6zM-18.7 -107.3h5v5h-5zM-23.3 -102.7h9.6v5h-9.6zM-23.3 -98h9.6v5h-9.6zM-18.7 -93.3h9.6v5h-9.6zM-14 -88.7h5v5h-5zM-60.7 -84h5v5h-5zM-42 -84h5v5h-5zM-9.3 -84h5v5h-5zM-46.7 -79.3h5v5h-5zM-9.3 -79.3h9.6v5h-9.6zM-4.7 -74.7h5v5h-5zM-4.7 -70h5v5h-5zM-9.3 -65.3h5v5h-5zM-9.3 -60.7h5v5h-5zM-9.3 -56h5v5h-5zM-9.3 -51.3h5v5h-5zM-9.3 -46.7h9.6v5h-9.6zM-4.7 -42h9.6v5h-9.6zM0 -37.3h9.6v5h-9.6zM4.7 -32.7h5v5h-5zM0 -28h5v5h-5zM0 -23.3h5v5h-5zM0 -18.7h5v5h-5zM-56 -14h9.6v5h-9.6zM-60.7 -9.3h9.6v5h-9.6zM-42 -9.3h5v5h-5zM-4.7 -9.3h5v5h-5zM-60.7 -4.7h5v5h-5zM-37.3 -4.7h5v5h-5zM-9.3 -4.7h5v5h-5zM-60.7 0h5v5h-5zM-37.3 0h14.3v5h-14.3zM-14 0h5v5h-5zM-65.3 4.7h5v5h-5zM-23.3 4.7h9.6v5h-9.6zM-65.3 9.3h5v5h-5zM-70 18.7h5v5h-5zM-74.7 23.3h5v5h-5zM-93.3 46.7h5v5h-5z"/><path fill="#56ffa0" d="M-14 -107.3h5v5h-5zM-42 -102.7h5v5h-5zM-14 -102.7h9.6v5h-9.6zM-42 -98h5v5h-5zM-14 -98h9.6v5h-9.6zM-65.3 -93.3h5v5h-5zM-42 -93.3h5v5h-5zM-9.3 -93.3h5v5h-5zM-42 -88.7h5v5h-5zM-9.3 -88.7h9.6v5h-9.6zM-4.7 -84h5v5h-5zM-56 -79.3h9.6v5h-9.6zM0 -79.3h5v5h-5zM0 -74.7h5v5h-5zM-4.7 -65.3h5v5h-5zM-4.7 -60.7h5v5h-5zM-4.7 -56h5v5h-5zM-4.7 -51.3h9.6v5h-9.6zM0 -46.7h5v5h-5zM4.7 -42h5v5h-5zM4.7 -28h5v5h-5zM0 -14h5v5h-5zM-51.3 -9.3h9.6v5h-9.6zM0 -9.3h5v5h-5zM-56 -4.7h5v5h-5zM-46.7 -4.7h9.6v5h-9.6zM-4.7 -4.7h5v5h-5zM-56 0h5v5h-5zM-42 0h5v5h-5zM-9.3 0h5v5h-5zM-60.7 4.7h5v5h-5zM-46.7 4.7h23.6v5h-23.6zM-14 4.7h5v5h-5zM-42 9.3h28.3v5h-28.3zM-65.3 14h5v5h-5zM-79.3 28h5v5h-5zM-88.7 37.3h5v5h-5z"/><path fill="#63ff94" d="M-9.3 -112h5v5h-5zM-9.3 -107.3h5v5h-5zM-46.7 -102.7h5v5h-5zM-4.7 -102.7h5v5h-5zM-4.7 -98h5v5h-5zM-4.7 -93.3h5v5h-5zM-60.7 -88.7h5v5h-5zM0 -88.7h5v5h-5zM-46.7 -84h5v5h-5zM0 -84h5v5h-5zM0 -70h5v5h-5zM0 -65.3h5v5h-5zM0 -60.7h5v5h-5zM0 -56h5v5h-5zM4.7 -51.3h5v5h-5zM4.7 -46.7h9.6v5h-9.6zM9.3 -42h5v5h-5zM9.3 -37.3h5v5h-5zM9.3 -32.7h5v5h-5zM9.3 -28h5v5h-5zM4.7 -23.3h5v5h-5zM4.7 -18.7h5v5h-5zM4.7 -14h5v5h-5zM-51.3 -4.7h5v5h-5zM0 -4.7h5v5h-5zM-51.3 0h9.6v5h-9.6zM-4.7 0h5v5h-5zM-56 4.7h9.6v5h-9.6zM-9.3 4.7h5v5h-5zM-60.7 9.3h5v5h-5zM-46.7 9.3h5v5h-5zM-14 9.3h5v5h-5zM-60.7 14h5v5h-5zM-42 14h23.6v5h-23.6zM-65.3 18.7h5v5h-5zM-70 23.3h5v5h-5zM-84 32.7h5v5h-5z"/><path fill="#70ff87" d="M-4.7 -112h5v5h-5zM-4.7 -107.3h5v5h-5zM-46.7 -98h5v5h-5zM0 -98h5v5h-5zM-46.7 -93.3h5v5h-5zM0 -93.3h5v5h-5zM-46.7 -88.7h5v5h-5zM-56 -84h5v5h-5zM4.7 -84h5v5h-5zM4.7 -79.3h5v5h-5zM4.7 -74.7h5v5h-5zM4.7 -70h5v5h-5zM4.7 -65.3h5v5h-5zM4.7 -60.7h5v5h-5zM4.7 -56h5v5h-5zM9.3 -51.3h9.6v5h-9.6zM14 -46.7h9.6v5h-9.6zM14 -42h5v5h-5zM14 -37.3h5v5h-5zM9.3 -23.3h5v5h-5zM9.3 -18.7h5v5h-5zM9.3 -14h5v5h-5zM4.7 -9.3h5v5h-5zM0 0h5v5h-5zM-4.7 4.7h5v5h-5zM-56 9.3h9.6v5h-9.6zM-56 14h14.3v5h-14.3zM-18.7 14h5v5h-5zM-60.7 18.7h5v5h-5zM-37.3 18.7h19v5h-19zM-65.3 23.3h5v5h-5zM-74.7 28h5v5h-5zM-93.3 51.3h5v5h-5z"/><path fill="#7dff7a" d="M0 -112h9.6v5h-9.6zM0 -107.3h5v5h-5zM-51.3 -102.7h5v5h-5zM0 -102.7h5v5h-5zM-51.3 -98h5v5h-5zM-60.7 -93.3h5v5h-5zM4.7 -93.3h5v5h-5zM-56 -88.7h5v5h-5zM4.7 -88.7h5v5h-5zM-51.3 -84h5v5h-5zM9.3 -84h5v5h-5zM9.3 -79.3h9.6v5h-9.6zM9.3 -74.7h9.6v5h-9.6zM9.3 -70h9.6v5h-9.6zM9.3 -65.3h9.6v5h-9.6zM9.3 -60.7h9.6v5h-9.6zM9.3 -56h14.3v5h-14.3zM18.7 -51.3h9.6v5h-9.6zM23.3 -46.7h5v5h-5zM18.7 -42h9.6v5h-9.6zM14 -32.7h5v5h-5zM14 -28h5v5h-5zM14 -23.3h5v5h-5zM14 -18.7h5v5h-5zM9.3 -9.3h5v5h-5zM4.7 -4.7h5v5h-5zM-9.3 9.3h5v5h-5zM-14 14h5v5h-5zM-56 18.7h19v5h-19zM-18.7 18.7h5v5h-5zM-60.7 23.3h5v5h-5zM-42 23.3h19v5h-19zM-70 28h5v5h-5zM-79.3 32.7h5v5h-5zM-88.7 42h5v5h-5z"/><path fill="#8aff6d" d="M9.3 -112h5v5h-5zM4.7 -107.3h5v5h-5zM4.7 -102.7h5v5h-5zM-56 -98h5v5h-5zM4.7 -98h5v5h-5zM-56 -93.3h9.6v5h-9.6zM-51.3 -88.7h5v5h-5zM9.3 -88.7h5v5h-5zM14 -84h5v5h-5zM18.7 -79.3h5v5h-5zM18.7 -74.7h5v5h-5zM18.7 -70h5v5h-5zM18.7 -65.3h5v5h-5zM18.7 -60.7h9.6v5h-9.6zM23.3 -56h9.6v5h-9.6zM28 -51.3h5v5h-5zM28 -46.7h5v5h-5zM28 -42h5v5h-5zM18.7 -37.3h9.6v5h-9.6zM18.7 -32.7h5v5h-5zM18.7 -28h5v5h-5zM18.7 -23.3h5v5h-5zM14 -14h5v5h-5zM14 -9.3h5v5h-5zM9.3 -4.7h5v5h-5zM4.7 0h5v5h-5zM0 4.7h5v5h-5zM-4.7 9.3h5v5h-5zM-9.3 14h5v5h-5zM-14 18.7h5v5h-5zM-56 23.3h14.3v5h-14.3zM-23.3 23.3h9.6v5h-9.6zM-65.3 28h5v5h-5zM-51.3 28h23.6v5h-23.6zM-74.7 32.7h5v5h-5zM-84 37.3h5v5h-5zM-93.3 56h5v5h-5z"/><path fill="#97ff60" d="M14 -112h5v5h-5zM9.3 -107.3h5v5h-5zM9.3 -102.7h5v5h-5zM9.3 -98h5v5h-5zM9.3 -93.3h5v5h-5zM14 -88.7h5v5h-5zM18.7 -84h9.6v5h-9.6zM23.3 -79.3h5v5h-5zM23.3 -74.7h5v5h-5zM23.3 -70h5v5h-5zM23.3 -65.3h5v5h-5zM28 -60.7h5v5h-5zM32.7 -51.3h5v5h-5zM32.7 -46.7h5v5h-5zM28 -37.3h5v5h-5zM23.3 -32.7h5v5h-5zM23.3 -28h5v5h-5zM23.3 -23.3h5v5h-5zM18.7 -18.7h5v5h-5zM18.7 -14h5v5h-5zM18.7 -9.3h5v5h-5zM14 -4.7h5v5h-5zM9.3 0h5v5h-5zM4.7 4.7h9.6v5h-9.6zM0 9.3h5v5h-5zM-4.7 14h5v5h-5zM-9.3 18.7h5v5h-5zM-14 23.3h5v5h-5zM-60.7 28h9.6v5h-9.6zM-28 28h9.6v5h-9.6zM-70 32.7h5v5h-5zM-46.7 32.7h19v5h-19zM-88.7 46.7h5v5h-5z"/><path fill="#a4ff53" d="M18.7 -112h5v5h-5zM14 -107.3h5v5h-5zM14 -93.3h5v5h-5zM18.7 -88.7h9.6v5h-9.6zM28 -84h5v5h-5zM28 -79.3h5v5h-5zM28 -74.7h5v5h-5zM28 -70h5v5h-5zM28 -65.3h9.6v5h-9.6zM32.7 -60.7h9.6v5h-9.6zM32.7 -56h5v5h-5zM32.7 -42h5v5h-5zM28 -32.7h5v5h-5zM28 -28h5v5h-5zM28 -23.3h5v5h-5zM23.3 -18.7h5v5h-5zM23.3 -14h5v5h-5zM18.7 -4.7h5v5h-5zM14 0h5v5h-5zM4.7 9.3h5v5h-5zM0 14h5v5h-5zM-4.7 18.7h5v5h-5zM-9.3 23.3h5v5h-5zM-18.7 28h5v5h-5zM-65.3 32.7h19v5h-19zM-28 32.7h5v5h-5zM-79.3 37.3h5v5h-5zM-46.7 37.3h19v5h-19zM-37.3 42h9.6v5h-9.6zM-37.3 46.7h5v5h-5zM-37.3 51.3h9.6v5h-9.6zM-37.3 56h9.6v5h-9.6zM-42 60.7h14.3v5h-14.3zM-42 65.3h9.6v5h-9.6z"/><path fill="#b1ff46" d="M18.7 -107.3h14.3v5h-14.3zM14 -102.7h5v5h-5zM14 -98h5v5h-5zM18.7 -93.3h5v5h-5zM28 -88.7h9.6v5h-9.6zM32.7 -84h5v5h-5zM32.7 -79.3h5v5h-5zM32.7 -74.7h9.6v5h-9.6zM32.7 -70h9.6v5h-9.6zM37.3 -65.3h9.6v5h-9.6zM42 -60.7h5v5h-5zM37.3 -56h5v5h-5zM37.3 -51.3h5v5h-5zM32.7 -37.3h5v5h-5zM32.7 -32.7h5v5h-5zM32.7 -28h5v5h-5zM32.7 -23.3h5v5h-5zM28 -18.7h5v5h-5zM28 -14h5v5h-5zM23.3 -9.3h5v5h-5zM18.7 0h5v5h-5zM14 4.7h5v5h-5zM9.3 9.3h5v5h-5zM4.7 14h5v5h-5zM0 18.7h5v5h-5zM-4.7 23.3h5v5h-5zM-14 28h5v5h-5zM-23.3 32.7h9.6v5h-9.6zM-74.7 37.3h5v5h-5zM-60.7 37.3h14.3v5h-14.3zM-28 37.3h9.6v5h-9.6zM-84 42h5v5h-5zM-42 42h5v5h-5zM-28 42h5v5h-5zM-42 46.7h5v5h-5zM-32.7 46.7h9.6v5h-9.6zM-88.7 51.3h5v5h-5zM-42 51.3h5v5h-5zM-28 51.3h5v5h-5zM-88.7 56h5v5h-5zM-42 56h5v5h-5zM-28 56h5v5h-5zM-93.3 60.7h5v5h-5zM-46.7 60.7h5v5h-5zM-28 60.7h5v5h-5zM-46.7 65.3h5v5h-5zM-32.7 65.3h9.6v5h-9.6zM-46.7 70h19v5h-19zM-46.7 74.7h9.6v5h-9.6zM-46.7 79.3h5v5h-5z"/><path fill="#beff39" d="M32.7 -107.3h5v5h-5zM18.7 -102.7h14.3v5h-14.3zM18.7 -98h5v5h-5zM23.3 -93.3h19v5h-19zM37.3 -88.7h5v5h-5zM37.3 -84h5v5h-5zM37.3 -79.3h9.6v5h-9.6zM42 -74.7h9.6v5h-9.6zM42 -70h9.6v5h-9.6zM46.7 -65.3h5v5h-5zM42 -56h5v5h-5zM37.3 -46.7h5v5h-5zM37.3 -42h5v5h-5zM37.3 -37.3h5v5h-5zM37.3 -32.7h5v5h-5zM37.3 -28h5v5h-5zM37.3 -23.3h5v5h-5zM32.7 -18.7h5v5h-5zM28 -9.3h5v5h-5zM23.3 -4.7h5v5h-5zM18.7 4.7h5v5h-5zM14 9.3h5v5h-5zM9.3 14h5v5h-5zM4.7 18.7h5v5h-5zM0 23.3h5v5h-5zM-9.3 28h9.6v5h-9.6zM-14 32.7h5v5h-5zM-70 37.3h9.6v5h-9.6zM-18.7 37.3h5v5h-5zM-56 42h14.3v5h-14.3zM-23.3 42h5v5h-5zM-46.7 46.7h5v5h-5zM-23.3 46.7h5v5h-5zM-46.7 51.3h5v5h-5zM-51.3 56h9.6v5h-9.6zM-23.3 56h5v5h-5zM-88.7 60.7h5v5h-5zM-51.3 60.7h5v5h-5zM-23.3 60.7h5v5h-5zM-51.3 65.3h5v5h-5zM-23.3 65.3h5v5h-5zM-84 70h5v5h-5zM-51.3 70h5v5h-5zM-28 70h5v5h-5zM-51.3 74.7h5v5h-5zM-37.3 74.7h5v5h-5zM-51.3 79.3h5v5h-5zM-42 79.3h5v5h-5zM-51.3 84h9.6v5h-9.6zM-56 88.7h14.3v5h-14.3zM-56 93.3h14.3v5h-14.3zM-51.3 98h9.6v5h-9.6z"/><path fill="#caff2c" d="M32.7 -102.7h19v5h-19zM23.3 -98h33v5h-33zM42 -93.3h14.3v5h-14.3zM60.7 -93.3h5v5h-5zM42 -88.7h9.6v5h-9.6zM60.7 -88.7h9.6v5h-9.6zM42 -84h14.3v5h-14.3zM60.7 -84h14.3v5h-14.3zM46.7 -79.3h33v5h-33zM51.3 -74.7h5v5h-5zM70 -74.7h9.6v5h-9.6zM51.3 -70h5v5h-5zM46.7 -60.7h5v5h-5zM46.7 -56h5v5h-5zM42 -51.3h5v5h-5zM42 -46.7h5v5h-5zM42 -42h5v5h-5zM42 -37.3h5v5h-5zM42 -32.7h5v5h-5zM42 -28h5v5h-5zM37.3 -18.7h5v5h-5zM32.7 -14h5v5h-5zM28 -4.7h5v5h-5zM23.3 0h5v5h-5zM18.7 9.3h5v5h-5zM14 14h5v5h-5zM9.3 18.7h5v5h-5zM4.7 23.3h5v5h-5zM0 28h5v5h-5zM-9.3 32.7h5v5h-5zM-14 37.3h5v5h-5zM-79.3 42h5v5h-5zM-65.3 42h9.6v5h-9.6zM-18.7 42h5v5h-5zM-84 46.7h5v5h-5zM-56 46.7h9.6v5h-9.6zM-51.3 51.3h5v5h-5zM-23.3 51.3h5v5h-5zM-56 56h5v5h-5zM-84 60.7h5v5h-5zM-56 60.7h5v5h-5zM-18.7 60.7h5v5h-5zM-88.7 65.3h19v5h-19zM-56 65.3h5v5h-5zM-18.7 65.3h5v5h-5zM-79.3 70h9.6v5h-9.6zM-56 70h5v5h-5zM-23.3 70h9.6v5h-9.6zM-56 74.7h5v5h-5zM-32.7 74.7h14.3v5h-14.3zM-60.7 79.3h9.6v5h-9.6zM-37.3 79.3h5v5h-5zM-65.3 84h14.3v5h-14.3zM-42 84h5v5h-5zM-65.3 88.7h9.6v5h-9.6zM-42 88.7h5v5h-5zM-42 93.3h5v5h-5zM-42 98h5v5h-5z"/><path fill="#d7ff1f" d="M56 -93.3h5v5h-5zM51.3 -88.7h9.6v5h-9.6zM56 -84h5v5h-5zM56 -74.7h14.3v5h-14.3zM79.3 -74.7h5v5h-5zM56 -70h5v5h-5zM70 -70h14.3v5h-14.3zM51.3 -65.3h5v5h-5zM51.3 -60.7h5v5h-5zM51.3 -56h9.6v5h-9.6zM46.7 -51.3h9.6v5h-9.6zM46.7 -46.7h5v5h-5zM46.7 -42h5v5h-5zM46.7 -37.3h5v5h-5zM46.7 -32.7h5v5h-5zM46.7 -28h5v5h-5zM42 -23.3h5v5h-5zM42 -18.7h5v5h-5zM37.3 -14h5v5h-5zM32.7 -9.3h5v5h-5zM32.7 -4.7h5v5h-5zM28 0h5v5h-5zM23.3 4.7h5v5h-5zM23.3 9.3h5v5h-5zM18.7 14h5v5h-5zM14 18.7h5v5h-5zM9.3 23.3h5v5h-5zM4.7 28h5v5h-5zM-4.7 32.7h9.6v5h-9.6zM-9.3 37.3h5v5h-5zM-74.7 42h9.6v5h-9.6zM-14 42h5v5h-5zM-60.7 46.7h5v5h-5zM-18.7 46.7h9.6v5h-9.6zM-84 51.3h5v5h-5zM-60.7 51.3h9.6v5h-9.6zM-18.7 51.3h5v5h-5zM-84 56h5v5h-5zM-60.7 56h5v5h-5zM-18.7 56h9.6v5h-9.6zM-79.3 60.7h9.6v5h-9.6zM-60.7 60.7h5v5h-5zM-14 60.7h9.6v5h-9.6zM-70 65.3h14.3v5h-14.3zM-14 65.3h9.6v5h-9.6zM-70 70h14.3v5h-14.3zM-14 70h5v5h-5zM-79.3 74.7h23.6v5h-23.6zM-18.7 74.7h5v5h-5zM-70 79.3h9.6v5h-9.6zM-32.7 79.3h14.3v5h-14.3zM9.3 79.3h9.6v5h-9.6zM-70 84h5v5h-5zM-37.3 84h19v5h-19zM0 84h14.3v5h-14.3zM-37.3 88.7h47v5h-47zM-37.3 93.3h42.3v5h-42.3zM-37.3 98h33v5h-33zM-37.3 102.7h28.3v5h-28.3zM-23.3 107.3h14.3v5h-14.3z"/><path fill="#e4ff13" d="M60.7 -70h9.6v5h-9.6zM56 -65.3h9.6v5h-9.6zM56 -60.7h9.6v5h-9.6zM60.7 -56h5v5h-5zM56 -51.3h5v5h-5zM51.3 -46.7h5v5h-5zM51.3 -42h5v5h-5zM51.3 -37.3h5v5h-5zM51.3 -32.7h5v5h-5zM46.7 -23.3h5v5h-5zM42 -14h5v5h-5zM37.3 -9.3h5v5h-5zM37.3 -4.7h5v5h-5zM32.7 0h5v5h-5zM28 4.7h5v5h-5zM28 9.3h5v5h-5zM23.3 14h9.6v5h-9.6zM18.7 18.7h9.6v5h-9.6zM14 23.3h9.6v5h-9.6zM9.3 28h5v5h-5zM4.7 32.7h5v5h-5zM-4.7 37.3h5v5h-5zM-9.3 42h5v5h-5zM-79.3 46.7h19v5h-19zM-9.3 46.7h5v5h-5zM-79.3 51.3h5v5h-5zM-65.3 51.3h5v5h-5zM-14 51.3h9.6v5h-9.6zM-79.3 56h19v5h-19zM-9.3 56h5v5h-5zM-70 60.7h9.6v5h-9.6zM-4.7 60.7h5v5h-5zM-4.7 65.3h5v5h-5zM-9.3 70h5v5h-5zM4.7 70h14.3v5h-14.3zM-14 74.7h5v5h-5zM0 74.7h23.6v5h-23.6zM-74.7 79.3h5v5h-5zM-18.7 79.3h28.3v5h-28.3zM18.7 79.3h5v5h-5zM-18.7 84h19v5h-19zM14 84h5v5h-5zM9.3 88.7h5v5h-5zM4.7 93.3h9.6v5h-9.6zM-4.7 98h14.3v5h-14.3zM-9.3 102.7h14.3v5h-14.3zM-9.3 107.3h9.6v5h-9.6z"/><path fill="#f1fc06" d="M84 -70h5v5h-5zM65.3 -65.3h19v5h-19zM65.3 -60.7h9.6v5h-9.6zM65.3 -56h5v5h-5zM60.7 -51.3h5v5h-5zM56 -46.7h9.6v5h-9.6zM56 -42h5v5h-5zM56 -37.3h5v5h-5zM51.3 -28h5v5h-5zM51.3 -23.3h5v5h-5zM46.7 -18.7h5v5h-5zM42 -9.3h5v5h-5zM37.3 0h5v5h-5zM32.7 4.7h5v5h-5zM32.7 9.3h5v5h-5zM32.7 14h5v5h-5zM28 18.7h9.6v5h-9.6zM23.3 23.3h14.3v5h-14.3zM14 28h19v5h-19zM9.3 32.7h14.3v5h-14.3zM0 37.3h19v5h-19zM-4.7 42h5v5h-5zM14 42h9.6v5h-9.6zM-4.7 46.7h5v5h-5zM14 46.7h9.6v5h-9.6zM-74.7 51.3h9.6v5h-9.6zM-4.7 51.3h5v5h-5zM18.7 51.3h5v5h-5zM-4.7 56h5v5h-5zM0 60.7h5v5h-5zM0 65.3h19v5h-19zM-4.7 70h9.6v5h-9.6zM18.7 70h5v5h-5zM-9.3 74.7h9.6v5h-9.6zM18.7 84h5v5h-5zM14 88.7h5v5h-5zM9.3 98h5v5h-5zM4.7 102.7h5v5h-5zM0 107.3h9.6v5h-9.6z"/><path fill="#feed00" d="M84 -65.3h5v5h-5zM74.7 -60.7h9.6v5h-9.6zM70 -56h5v5h-5zM65.3 -51.3h5v5h-5zM65.3 -46.7h5v5h-5zM60.7 -42h5v5h-5zM60.7 -37.3h5v5h-5zM56 -32.7h5v5h-5zM56 -28h5v5h-5zM56 -23.3h5v5h-5zM51.3 -18.7h5v5h-5zM46.7 -14h5v5h-5zM46.7 -9.3h5v5h-5zM42 -4.7h5v5h-5zM42 0h5v5h-5zM37.3 4.7h9.6v5h-9.6zM37.3 9.3h5v5h-5zM37.3 14h5v5h-5zM37.3 18.7h5v5h-5zM37.3 23.3h5v5h-5zM32.7 28h5v5h-5zM23.3 32.7h9.6v5h-9.6zM18.7 37.3h14.3v5h-14.3zM0 42h14.3v5h-14.3zM23.3 42h9.6v5h-9.6zM0 46.7h14.3v5h-14.3zM23.3 46.7h5v5h-5zM0 51.3h19v5h-19zM23.3 51.3h5v5h-5zM0 56h9.6v5h-9.6zM14 56h14.3v5h-14.3zM4.7 60.7h28.3v5h-28.3zM18.7 65.3h9.6v5h-9.6zM23.3 70h5v5h-5zM23.3 74.7h5v5h-5zM9.3 102.7h5v5h-5zM9.3 107.3h5v5h-5z"/><path fill="#ffde00" d="M84 -60.7h5v5h-5zM74.7 -56h5v5h-5zM70 -51.3h5v5h-5zM65.3 -42h5v5h-5zM65.3 -37.3h5v5h-5zM60.7 -32.7h5v5h-5zM60.7 -28h5v5h-5zM60.7 -23.3h5v5h-5zM56 -18.7h9.6v5h-9.6zM51.3 -14h14.3v5h-14.3zM51.3 -9.3h5v5h-5zM46.7 -4.7h5v5h-5zM46.7 0h9.6v5h-9.6zM46.7 4.7h5v5h-5zM42 9.3h9.6v5h-9.6zM42 14h5v5h-5zM42 18.7h5v5h-5zM37.3 28h5v5h-5zM32.7 32.7h5v5h-5zM32.7 37.3h5v5h-5zM32.7 42h5v5h-5zM28 46.7h5v5h-5zM28 51.3h5v5h-5zM9.3 56h5v5h-5zM28 56h9.6v5h-9.6zM32.7 60.7h5v5h-5zM28 65.3h5v5h-5zM28 70h5v5h-5zM23.3 79.3h5v5h-5zM14 93.3h5v5h-5z"/><path fill="#ffd000" d="M88.7 -65.3h5v5h-5zM79.3 -56h5v5h-5zM70 -46.7h5v5h-5zM70 -42h5v5h-5zM70 -37.3h5v5h-5zM65.3 -32.7h5v5h-5zM65.3 -28h5v5h-5zM65.3 -23.3h5v5h-5zM65.3 -18.7h5v5h-5zM65.3 -14h5v5h-5zM56 -9.3h14.3v5h-14.3zM51.3 -4.7h9.6v5h-9.6zM51.3 4.7h5v5h-5zM51.3 9.3h5v5h-5zM46.7 14h5v5h-5zM46.7 18.7h5v5h-5zM42 23.3h5v5h-5zM42 28h5v5h-5zM37.3 32.7h5v5h-5zM37.3 37.3h5v5h-5zM37.3 42h5v5h-5zM32.7 46.7h5v5h-5zM32.7 51.3h5v5h-5zM37.3 60.7h5v5h-5zM32.7 65.3h5v5h-5zM28 74.7h5v5h-5zM18.7 88.7h5v5h-5zM14 98h5v5h-5zM14 102.7h5v5h-5z"/><path fill="#ffc100" d="M88.7 -60.7h5v5h-5zM84 -56h5v5h-5zM74.7 -51.3h5v5h-5zM74.7 -46.7h5v5h-5zM74.7 -42h5v5h-5zM74.7 -37.3h5v5h-5zM70 -32.7h5v5h-5zM70 -28h5v5h-5zM70 -23.3h5v5h-5zM70 -18.7h5v5h-5zM70 -14h5v5h-5zM70 -9.3h5v5h-5zM60.7 -4.7h9.6v5h-9.6zM56 0h9.6v5h-9.6zM56 4.7h5v5h-5zM56 9.3h5v5h-5zM51.3 14h5v5h-5zM51.3 18.7h5v5h-5zM46.7 23.3h5v5h-5zM42 32.7h5v5h-5zM42 37.3h5v5h-5zM42 42h5v5h-5zM37.3 46.7h5v5h-5zM37.3 51.3h5v5h-5zM37.3 56h5v5h-5zM37.3 65.3h5v5h-5zM32.7 70h5v5h-5zM23.3 84h5v5h-5zM14 107.3h5v5h-5z"/><path fill="#ffb200" d="M88.7 -56h9.6v5h-9.6zM79.3 -51.3h5v5h-5zM93.3 -51.3h9.6v5h-9.6zM74.7 -32.7h5v5h-5zM74.7 -28h5v5h-5zM74.7 -23.3h5v5h-5zM74.7 -18.7h5v5h-5zM74.7 -14h5v5h-5zM70 -4.7h5v5h-5zM65.3 0h5v5h-5zM60.7 4.7h5v5h-5zM60.7 9.3h5v5h-5zM56 14h9.6v5h-9.6zM56 18.7h5v5h-5zM46.7 28h5v5h-5zM46.7 32.7h5v5h-5zM46.7 37.3h5v5h-5zM42 46.7h5v5h-5zM42 51.3h5v5h-5zM42 56h5v5h-5zM42 60.7h5v5h-5zM28 79.3h5v5h-5z"/><path fill="#ffa300" d="M84 -51.3h9.6v5h-9.6zM79.3 -46.7h5v5h-5zM93.3 -46.7h9.6v5h-9.6zM79.3 -42h5v5h-5zM79.3 -37.3h5v5h-5zM79.3 -32.7h5v5h-5zM79.3 -28h5v5h-5zM74.7 -9.3h5v5h-5zM74.7 -4.7h5v5h-5zM70 0h5v5h-5zM65.3 4.7h5v5h-5zM65.3 9.3h5v5h-5zM65.3 14h5v5h-5zM60.7 18.7h5v5h-5zM51.3 23.3h9.6v5h-9.6zM51.3 28h5v5h-5zM46.7 42h5v5h-5zM46.7 46.7h5v5h-5zM46.7 51.3h5v5h-5zM46.7 56h5v5h-5zM46.7 60.7h5v5h-5zM42 65.3h5v5h-5zM32.7 74.7h5v5h-5zM18.7 93.3h5v5h-5z"/><path fill="#ff9400" d="M84 -46.7h9.6v5h-9.6zM84 -42h5v5h-5zM84 -37.3h5v5h-5zM84 -32.7h5v5h-5zM84 -28h5v5h-5zM79.3 -23.3h5v5h-5zM79.3 -18.7h5v5h-5zM79.3 -14h5v5h-5zM74.7 0h5v5h-5zM70 4.7h5v5h-5zM70 9.3h5v5h-5zM70 14h5v5h-5zM65.3 18.7h5v5h-5zM60.7 23.3h5v5h-5zM51.3 32.7h5v5h-5zM51.3 37.3h5v5h-5zM51.3 42h5v5h-5zM51.3 46.7h5v5h-5zM51.3 51.3h5v5h-5zM51.3 56h5v5h-5zM51.3 60.7h5v5h-5zM37.3 70h5v5h-5z"/><path fill="#ff8600" d="M88.7 -42h14.3v5h-14.3zM84 -23.3h5v5h-5zM84 -18.7h5v5h-5zM79.3 -9.3h5v5h-5zM79.3 -4.7h5v5h-5zM79.3 0h5v5h-5zM74.7 4.7h5v5h-5zM70 18.7h5v5h-5zM65.3 23.3h5v5h-5zM56 28h9.6v5h-9.6zM56 32.7h5v5h-5zM56 46.7h5v5h-5zM56 51.3h5v5h-5zM56 56h5v5h-5zM56 60.7h5v5h-5zM46.7 65.3h5v5h-5zM28 84h5v5h-5zM23.3 88.7h5v5h-5zM18.7 98h5v5h-5zM18.7 102.7h5v5h-5zM18.7 107.3h5v5h-5z"/><path fill="#ff7700" d="M88.7 -37.3h5v5h-5zM88.7 -32.7h5v5h-5zM88.7 -28h5v5h-5zM88.7 -23.3h5v5h-5zM84 -14h5v5h-5zM84 -9.3h5v5h-5zM84 -4.7h5v5h-5zM79.3 4.7h5v5h-5zM74.7 9.3h5v5h-5zM74.7 14h5v5h-5zM74.7 18.7h5v5h-5zM70 23.3h5v5h-5zM65.3 28h9.6v5h-9.6zM60.7 32.7h9.6v5h-9.6zM56 37.3h5v5h-5zM56 42h5v5h-5zM60.7 51.3h5v5h-5zM60.7 56h5v5h-5zM32.7 79.3h5v5h-5z"/><path fill="#ff6800" d="M93.3 -37.3h9.6v5h-9.6zM93.3 -32.7h5v5h-5zM88.7 -18.7h5v5h-5zM88.7 -14h5v5h-5zM88.7 -9.3h5v5h-5zM84 0h5v5h-5zM84 4.7h5v5h-5zM79.3 9.3h5v5h-5zM79.3 14h5v5h-5zM74.7 23.3h5v5h-5zM70 32.7h5v5h-5zM60.7 37.3h9.6v5h-9.6zM60.7 42h5v5h-5zM60.7 46.7h5v5h-5zM60.7 60.7h5v5h-5zM51.3 65.3h5v5h-5zM42 70h5v5h-5zM37.3 74.7h5v5h-5z"/><path fill="#ff5900" d="M102.7 -37.3h5v5h-5zM93.3 -28h5v5h-5zM93.3 -23.3h5v5h-5zM93.3 -18.7h5v5h-5zM88.7 -4.7h5v5h-5zM88.7 0h5v5h-5zM84 9.3h5v5h-5zM84 14h5v5h-5zM79.3 18.7h5v5h-5zM79.3 23.3h5v5h-5zM74.7 28h5v5h-5zM74.7 32.7h5v5h-5zM70 37.3h5v5h-5zM65.3 42h5v5h-5zM65.3 46.7h5v5h-5zM65.3 51.3h5v5h-5zM65.3 56h5v5h-5zM65.3 60.7h5v5h-5zM56 65.3h5v5h-5zM23.3 93.3h5v5h-5z"/><path fill="#ff4a00" d="M98 -32.7h5v5h-5zM98 -28h5v5h-5zM98 -23.3h5v5h-5zM98 -18.7h5v5h-5zM93.3 -14h5v5h-5zM107.3 -14h5v5h-5zM93.3 -9.3h5v5h-5zM102.7 -9.3h9.6v5h-9.6zM93.3 -4.7h5v5h-5zM107.3 -4.7h5v5h-5zM88.7 4.7h5v5h-5zM88.7 9.3h5v5h-5zM88.7 14h5v5h-5zM84 18.7h5v5h-5zM79.3 28h5v5h-5zM74.7 37.3h5v5h-5zM70 42h5v5h-5zM70 46.7h5v5h-5zM70 51.3h5v5h-5zM70 56h5v5h-5zM60.7 65.3h5v5h-5zM46.7 70h5v5h-5zM79.3 70h5v5h-5zM32.7 84h5v5h-5zM28 88.7h5v5h-5z"/><path fill="#ff3b00" d="M102.7 -32.7h5v5h-5zM102.7 -28h5v5h-5zM102.7 -23.3h9.6v5h-9.6zM102.7 -18.7h9.6v5h-9.6zM98 -14h9.6v5h-9.6zM98 -9.3h5v5h-5zM98 -4.7h9.6v5h-9.6zM93.3 0h19v5h-19zM93.3 4.7h5v5h-5zM88.7 18.7h5v5h-5zM84 23.3h5v5h-5zM84 28h5v5h-5zM79.3 32.7h5v5h-5zM79.3 37.3h5v5h-5zM74.7 42h5v5h-5zM70 60.7h9.6v5h-9.6zM65.3 65.3h23.6v5h-23.6zM74.7 70h5v5h-5zM37.3 79.3h5v5h-5z"/><path fill="#ff2d00" d="M98 4.7h14.3v5h-14.3zM93.3 9.3h9.6v5h-9.6zM107.3 9.3h5v5h-5zM93.3 14h5v5h-5zM88.7 23.3h5v5h-5zM84 32.7h5v5h-5zM79.3 42h5v5h-5zM74.7 46.7h5v5h-5zM74.7 51.3h5v5h-5zM74.7 56h9.6v5h-9.6zM79.3 60.7h9.6v5h-9.6zM51.3 70h5v5h-5zM42 74.7h5v5h-5zM74.7 74.7h5v5h-5zM23.3 98h5v5h-5zM23.3 102.7h5v5h-5z"/><path fill="#ff1e00" d="M102.7 9.3h5v5h-5zM98 14h14.3v5h-14.3zM93.3 18.7h5v5h-5zM93.3 23.3h5v5h-5zM88.7 28h9.6v5h-9.6zM88.7 32.7h5v5h-5zM84 37.3h9.6v5h-9.6zM84 42h5v5h-5zM79.3 46.7h9.6v5h-9.6zM98 46.7h5v5h-5zM79.3 51.3h19v5h-19zM84 56h9.6v5h-9.6zM88.7 60.7h5v5h-5zM56 70h5v5h-5zM70 70h5v5h-5z"/><path fill="#fa0f00" d="M98 18.7h14.3v5h-14.3zM98 23.3h9.6v5h-9.6zM98 28h9.6v5h-9.6zM93.3 32.7h14.3v5h-14.3zM93.3 37.3h9.6v5h-9.6zM88.7 42h14.3v5h-14.3zM88.7 46.7h9.6v5h-9.6zM60.7 70h9.6v5h-9.6zM70 74.7h5v5h-5zM37.3 84h5v5h-5zM32.7 88.7h5v5h-5zM28 93.3h5v5h-5z"/><path fill="#e80000" d="M46.7 74.7h5v5h-5zM42 79.3h5v5h-5z"/><path fill="#d60000" d="M65.3 74.7h5v5h-5zM70 79.3h5v5h-5zM28 98h5v5h-5z"/><path fill="#c40000" d="M51.3 74.7h5v5h-5zM37.3 88.7h5v5h-5zM32.7 93.3h5v5h-5zM28 102.7h5v5h-5z"/><path fill="#b20000" d="M56 74.7h9.6v5h-9.6zM42 84h5v5h-5zM46.7 98h5v5h-5z"/><path fill="#9f0000" d="M46.7 79.3h5v5h-5zM65.3 79.3h5v5h-5zM42 88.7h5v5h-5zM37.3 93.3h14.3v5h-14.3zM32.7 98h5v5h-5zM42 98h5v5h-5z"/><path fill="#8d0000" d="M46.7 88.7h5v5h-5zM51.3 93.3h5v5h-5zM37.3 98h5v5h-5zM32.7 102.7h5v5h-5z"/><path fill="#800000" d="M51.3 79.3h14.3v5h-14.3zM46.7 84h23.6v5h-23.6zM51.3 88.7h14.3v5h-14.3z"/></g></g></g><filter id="hmR-b" x="-5%" y="-5%" width="110%" height="110%" filterUnits="objectBoundingBox"><feGaussianBlur stdDeviation="3.36"/></filter><clipPath id="hmR-c"><ellipse rx="96.8" ry="100"/></clipPath><g id="hmR"><g clip-path="url(#hmR-c)"><g filter="url(#hmR-b)" shape-rendering="crispEdges"><path fill="#ffd700" d="M-106.4 -39.2h5.9v5.9h-5.9zM-106.4 -33.6h5.9v5.9h-5.9zM-106.4 -28h5.9v5.9h-5.9z"/><path fill="#ffd000" d="M-106.4 -44.8h5.9v5.9h-5.9zM-112 -22.4h11.5v5.9h-11.5zM-112 11.2h11.5v5.9h-11.5zM-106.4 16.8h5.9v5.9h-5.9z"/><path fill="#ffc400" d="M-100.8 -39.2h5.9v5.9h-5.9zM-100.8 -33.6h5.9v5.9h-5.9zM-112 -16.8h11.5v5.9h-11.5zM-112 5.6h11.5v5.9h-11.5zM-112 16.8h5.9v5.9h-5.9zM-106.4 22.4h5.9v5.9h-5.9z"/><path fill="#ffbd00" d="M-100.8 -44.8h5.9v5.9h-5.9zM-100.8 -28h5.9v5.9h-5.9zM-112 -11.2h11.5v5.9h-11.5zM-112 -5.6h11.5v5.9h-11.5zM-112 0h11.5v5.9h-11.5zM-106.4 28h5.9v5.9h-5.9zM-106.4 33.6h5.9v5.9h-5.9z"/><path fill="#ffb200" d="M-100.8 -50.4h5.9v5.9h-5.9zM-100.8 -22.4h5.9v5.9h-5.9zM-100.8 11.2h5.9v5.9h-5.9zM-100.8 16.8h5.9v5.9h-5.9zM-106.4 39.2h5.9v5.9h-5.9z"/><path fill="#ffab00" d="M-100.8 -56h5.9v5.9h-5.9zM-100.8 -16.8h5.9v5.9h-5.9zM-100.8 5.6h5.9v5.9h-5.9zM-100.8 22.4h5.9v5.9h-5.9zM-100.8 28h5.9v5.9h-5.9z"/><path fill="#ff9f00" d="M-100.8 -11.2h5.9v5.9h-5.9zM-100.8 -5.6h5.9v5.9h-5.9zM-100.8 0h5.9v5.9h-5.9zM-100.8 33.6h5.9v5.9h-5.9zM-100.8 39.2h5.9v5.9h-5.9z"/><path fill="#ff9400" d="M-95.2 -39.2h5.9v5.9h-5.9zM-95.2 -33.6h5.9v5.9h-5.9zM-100.8 44.8h5.9v5.9h-5.9zM-100.8 50.4h5.9v5.9h-5.9z"/><path fill="#ff8d00" d="M-95.2 -44.8h5.9v5.9h-5.9zM-95.2 -28h5.9v5.9h-5.9z"/><path fill="#ff8200" d="M-95.2 -22.4h5.9v5.9h-5.9z"/><path fill="#ff7a00" d="M-95.2 -50.4h5.9v5.9h-5.9zM-95.2 -16.8h5.9v5.9h-5.9zM-95.2 5.6h5.9v5.9h-5.9zM-95.2 11.2h5.9v5.9h-5.9zM-95.2 16.8h5.9v5.9h-5.9zM-95.2 22.4h5.9v5.9h-5.9zM-95.2 28h5.9v5.9h-5.9zM-95.2 33.6h5.9v5.9h-5.9z"/><path fill="#ff6f00" d="M-95.2 -61.6h5.9v5.9h-5.9zM-95.2 -56h5.9v5.9h-5.9zM-95.2 -11.2h5.9v5.9h-5.9zM-95.2 -5.6h5.9v5.9h-5.9zM-95.2 0h5.9v5.9h-5.9zM-95.2 39.2h5.9v5.9h-5.9zM-95.2 44.8h5.9v5.9h-5.9zM-95.2 50.4h5.9v5.9h-5.9zM-95.2 56h5.9v5.9h-5.9z"/><path fill="#ff5500" d="M-89.6 -39.2h5.9v5.9h-5.9zM-89.6 -33.6h5.9v5.9h-5.9zM-89.6 -28h5.9v5.9h-5.9z"/><path fill="#ff4a00" d="M-89.6 -44.8h5.9v5.9h-5.9zM-89.6 -22.4h5.9v5.9h-5.9z"/><path fill="#ff3f00" d="M-89.6 -56h5.9v5.9h-5.9zM-89.6 -50.4h5.9v5.9h-5.9zM-89.6 -16.8h5.9v5.9h-5.9zM-89.6 -11.2h5.9v5.9h-5.9zM-89.6 -5.6h5.9v5.9h-5.9zM-89.6 0h5.9v5.9h-5.9zM-89.6 5.6h5.9v5.9h-5.9zM-89.6 11.2h5.9v5.9h-5.9zM-89.6 16.8h5.9v5.9h-5.9zM-89.6 22.4h5.9v5.9h-5.9zM-89.6 28h5.9v5.9h-5.9zM-89.6 33.6h5.9v5.9h-5.9zM-89.6 39.2h5.9v5.9h-5.9zM-89.6 44.8h5.9v5.9h-5.9zM-89.6 50.4h5.9v5.9h-5.9z"/><path fill="#ff3800" d="M-89.6 -72.8h5.9v5.9h-5.9zM-89.6 -67.2h5.9v5.9h-5.9zM-89.6 -61.6h5.9v5.9h-5.9zM-89.6 56h5.9v5.9h-5.9zM-89.6 61.6h5.9v5.9h-5.9zM-89.6 67.2h5.9v5.9h-5.9z"/><path fill="#ff2500" d="M-84 -39.2h5.9v5.9h-5.9zM-84 -33.6h5.9v5.9h-5.9zM-84 -28h5.9v5.9h-5.9z"/><path fill="#ff1a00" d="M-84 -50.4h5.9v5.9h-5.9zM-84 -44.8h5.9v5.9h-5.9zM-84 -22.4h5.9v5.9h-5.9zM-84 -16.8h5.9v5.9h-5.9zM-84 -11.2h5.9v5.9h-5.9zM-84 11.2h5.9v5.9h-5.9zM-84 16.8h5.9v5.9h-5.9zM-84 22.4h5.9v5.9h-5.9zM-84 28h5.9v5.9h-5.9zM-84 33.6h5.9v5.9h-5.9zM-84 39.2h5.9v5.9h-5.9zM-84 44.8h5.9v5.9h-5.9zM-84 50.4h5.9v5.9h-5.9z"/><path fill="#ff1300" d="M-84 -78.4h5.9v5.9h-5.9zM-84 -72.8h5.9v5.9h-5.9zM-84 -67.2h5.9v5.9h-5.9zM-84 -61.6h5.9v5.9h-5.9zM-84 -56h5.9v5.9h-5.9zM-84 -5.6h5.9v5.9h-5.9zM-84 0h5.9v5.9h-5.9zM-84 5.6h5.9v5.9h-5.9zM-84 56h5.9v5.9h-5.9zM-84 61.6h5.9v5.9h-5.9zM-84 67.2h5.9v5.9h-5.9zM-84 72.8h5.9v5.9h-5.9zM-39.2 78.4h11.5v5.9h-11.5zM-39.2 84h11.5v5.9h-11.5z"/><path fill="#f10800" d="M-78.4 -39.2h5.9v5.9h-5.9zM-78.4 -33.6h5.9v5.9h-5.9zM-78.4 -28h5.9v5.9h-5.9z"/><path fill="#e80000" d="M-78.4 -78.4h5.9v5.9h-5.9zM-78.4 -72.8h5.9v5.9h-5.9zM-78.4 -67.2h5.9v5.9h-5.9zM-78.4 -61.6h5.9v5.9h-5.9zM-78.4 -56h5.9v5.9h-5.9zM-78.4 -50.4h5.9v5.9h-5.9zM-78.4 -44.8h5.9v5.9h-5.9zM-78.4 -22.4h5.9v5.9h-5.9zM-78.4 -16.8h5.9v5.9h-5.9zM-78.4 -11.2h5.9v5.9h-5.9zM-78.4 -5.6h5.9v5.9h-5.9zM-78.4 0h5.9v5.9h-5.9zM-78.4 5.6h5.9v5.9h-5.9zM-78.4 11.2h5.9v5.9h-5.9zM-78.4 16.8h5.9v5.9h-5.9zM-78.4 22.4h5.9v5.9h-5.9zM-78.4 28h5.9v5.9h-5.9zM-78.4 33.6h5.9v5.9h-5.9zM-78.4 39.2h5.9v5.9h-5.9zM-78.4 44.8h5.9v5.9h-5.9zM-78.4 50.4h5.9v5.9h-5.9zM-78.4 56h5.9v5.9h-5.9zM-78.4 61.6h5.9v5.9h-5.9zM-78.4 67.2h5.9v5.9h-5.9zM-78.4 72.8h5.9v5.9h-5.9zM-39.2 72.8h11.5v5.9h-11.5zM-78.4 78.4h5.9v5.9h-5.9zM-44.8 78.4h5.9v5.9h-5.9zM-28 78.4h5.9v5.9h-5.9zM-44.8 84h5.9v5.9h-5.9zM-28 84h5.9v5.9h-5.9z"/><path fill="#da0000" d="M-78.4 -84h5.9v5.9h-5.9zM-72.8 -72.8h5.9v5.9h-5.9zM-72.8 -67.2h5.9v5.9h-5.9zM-72.8 -61.6h5.9v5.9h-5.9zM-72.8 -56h5.9v5.9h-5.9zM-72.8 -50.4h5.9v5.9h-5.9zM-72.8 -44.8h5.9v5.9h-5.9zM-72.8 -39.2h5.9v5.9h-5.9zM-72.8 -33.6h5.9v5.9h-5.9zM-72.8 -28h5.9v5.9h-5.9zM-72.8 -22.4h11.5v5.9h-11.5zM-72.8 -16.8h11.5v5.9h-11.5zM-72.8 -11.2h5.9v5.9h-5.9zM-72.8 -5.6h5.9v5.9h-5.9zM-72.8 5.6h5.9v5.9h-5.9zM-72.8 11.2h5.9v5.9h-5.9zM-72.8 16.8h5.9v5.9h-5.9zM-72.8 22.4h5.9v5.9h-5.9zM-72.8 28h5.9v5.9h-5.9zM-72.8 33.6h5.9v5.9h-5.9zM-72.8 56h5.9v5.9h-5.9zM-72.8 61.6h5.9v5.9h-5.9zM-72.8 67.2h5.9v5.9h-5.9zM-72.8 72.8h5.9v5.9h-5.9zM-44.8 72.8h5.9v5.9h-5.9zM-28 72.8h5.9v5.9h-5.9zM-72.8 78.4h5.9v5.9h-5.9zM-72.8 84h5.9v5.9h-5.9zM-44.8 89.6h17.1v5.9h-17.1z"/><path fill="#cd0000" d="M-72.8 -89.6h5.9v5.9h-5.9zM-72.8 -84h5.9v5.9h-5.9zM-72.8 -78.4h11.5v5.9h-11.5zM-67.2 -72.8h5.9v5.9h-5.9zM-67.2 -67.2h11.5v5.9h-11.5zM-67.2 -61.6h5.9v5.9h-5.9zM-67.2 -56h5.9v5.9h-5.9zM-67.2 -50.4h5.9v5.9h-5.9zM-67.2 -44.8h5.9v5.9h-5.9zM-67.2 -39.2h11.5v5.9h-11.5zM-67.2 -33.6h11.5v5.9h-11.5zM-67.2 -28h11.5v5.9h-11.5zM-61.6 -22.4h11.5v5.9h-11.5zM-61.6 -16.8h11.5v5.9h-11.5zM-67.2 -11.2h11.5v5.9h-11.5zM-67.2 -5.6h5.9v5.9h-5.9zM-72.8 0h11.5v5.9h-11.5zM-67.2 5.6h5.9v5.9h-5.9zM-67.2 11.2h5.9v5.9h-5.9zM-67.2 16.8h11.5v5.9h-11.5zM-67.2 22.4h11.5v5.9h-11.5zM-67.2 28h11.5v5.9h-11.5zM-67.2 33.6h11.5v5.9h-11.5zM-72.8 39.2h17.1v5.9h-17.1zM-72.8 44.8h11.5v5.9h-11.5zM-72.8 50.4h11.5v5.9h-11.5zM-67.2 56h5.9v5.9h-5.9zM-67.2 61.6h5.9v5.9h-5.9zM-67.2 67.2h5.9v5.9h-5.9zM-39.2 67.2h11.5v5.9h-11.5zM-67.2 72.8h5.9v5.9h-5.9zM-50.4 72.8h5.9v5.9h-5.9zM-67.2 78.4h5.9v5.9h-5.9zM-50.4 78.4h5.9v5.9h-5.9zM-67.2 84h5.9v5.9h-5.9zM-50.4 84h5.9v5.9h-5.9zM-61.6 89.6h5.9v5.9h-5.9zM-50.4 89.6h5.9v5.9h-5.9zM-28 89.6h5.9v5.9h-5.9z"/><path fill="#c40000" d="M-67.2 -89.6h5.9v5.9h-5.9zM-67.2 -84h11.5v5.9h-11.5zM-61.6 -78.4h5.9v5.9h-5.9zM-61.6 -72.8h11.5v5.9h-11.5zM-56 -67.2h5.9v5.9h-5.9zM-61.6 -61.6h5.9v5.9h-5.9zM-61.6 -56h5.9v5.9h-5.9zM-61.6 -50.4h11.5v5.9h-11.5zM-61.6 -44.8h11.5v5.9h-11.5zM-56 -39.2h5.9v5.9h-5.9zM-56 -33.6h5.9v5.9h-5.9zM-56 -28h11.5v5.9h-11.5zM-50.4 -22.4h5.9v5.9h-5.9zM-50.4 -16.8h5.9v5.9h-5.9zM-56 -11.2h11.5v5.9h-11.5zM-61.6 -5.6h11.5v5.9h-11.5zM-61.6 0h11.5v5.9h-11.5zM-61.6 5.6h11.5v5.9h-11.5zM-61.6 11.2h11.5v5.9h-11.5zM-56 16.8h5.9v5.9h-5.9zM-56 22.4h5.9v5.9h-5.9zM61.6 22.4h5.9v5.9h-5.9zM-56 28h5.9v5.9h-5.9zM61.6 28h11.5v5.9h-11.5zM-56 33.6h11.5v5.9h-11.5zM61.6 33.6h5.9v5.9h-5.9zM-56 39.2h11.5v5.9h-11.5zM-61.6 44.8h17.1v5.9h-17.1zM-61.6 50.4h17.1v5.9h-17.1zM-61.6 56h22.7v5.9h-22.7zM-61.6 61.6h22.7v5.9h-22.7zM-61.6 67.2h22.7v5.9h-22.7zM-28 67.2h5.9v5.9h-5.9zM-61.6 72.8h11.5v5.9h-11.5zM-22.4 72.8h5.9v5.9h-5.9zM-61.6 78.4h11.5v5.9h-11.5zM-22.4 78.4h5.9v5.9h-5.9zM-61.6 84h11.5v5.9h-11.5zM-22.4 84h5.9v5.9h-5.9zM-56 89.6h5.9v5.9h-5.9zM-56 95.2h28.3v5.9h-28.3zM-44.8 100.8h5.9v5.9h-5.9z"/><path fill="#b60000" d="M-56 -100.8h5.9v5.9h-5.9zM-61.6 -95.2h5.9v5.9h-5.9zM-61.6 -89.6h5.9v5.9h-5.9zM-56 -84h5.9v5.9h-5.9zM-56 -78.4h11.5v5.9h-11.5zM-50.4 -72.8h11.5v5.9h-11.5zM-50.4 -67.2h11.5v5.9h-11.5zM-56 -61.6h17.1v5.9h-17.1zM-56 -56h17.1v5.9h-17.1zM-50.4 -50.4h11.5v5.9h-11.5zM-50.4 -44.8h5.9v5.9h-5.9zM-50.4 -39.2h5.9v5.9h-5.9zM-50.4 -33.6h11.5v5.9h-11.5zM-44.8 -28h5.9v5.9h-5.9zM-44.8 -22.4h5.9v5.9h-5.9zM-44.8 -16.8h5.9v5.9h-5.9zM-44.8 -11.2h5.9v5.9h-5.9zM-50.4 -5.6h11.5v5.9h-11.5zM-50.4 0h17.1v5.9h-17.1zM-50.4 5.6h22.7v5.9h-22.7zM-50.4 11.2h22.7v5.9h-22.7zM-50.4 16.8h11.5v5.9h-11.5zM61.6 16.8h5.9v5.9h-5.9zM-50.4 22.4h11.5v5.9h-11.5zM67.2 22.4h5.9v5.9h-5.9zM-50.4 28h17.1v5.9h-17.1zM-44.8 33.6h11.5v5.9h-11.5zM67.2 33.6h5.9v5.9h-5.9zM-44.8 39.2h17.1v5.9h-17.1zM61.6 39.2h5.9v5.9h-5.9zM-44.8 44.8h17.1v5.9h-17.1zM-44.8 50.4h17.1v5.9h-17.1zM-39.2 56h11.5v5.9h-11.5zM-39.2 61.6h17.1v5.9h-17.1zM-22.4 67.2h5.9v5.9h-5.9zM-22.4 89.6h5.9v5.9h-5.9zM-28 95.2h5.9v5.9h-5.9zM-39.2 100.8h5.9v5.9h-5.9z"/><path fill="#ad0000" d="M-44.8 -106.4h17.1v5.9h-17.1zM-50.4 -100.8h22.7v5.9h-22.7zM-56 -95.2h22.7v5.9h-22.7zM-56 -89.6h22.7v5.9h-22.7zM-50.4 -84h22.7v5.9h-22.7zM-44.8 -78.4h17.1v5.9h-17.1zM-39.2 -72.8h11.5v5.9h-11.5zM-39.2 -67.2h17.1v5.9h-17.1zM-39.2 -61.6h17.1v5.9h-17.1zM-39.2 -56h17.1v5.9h-17.1zM-39.2 -50.4h17.1v5.9h-17.1zM-44.8 -44.8h22.7v5.9h-22.7zM-44.8 -39.2h22.7v5.9h-22.7zM-39.2 -33.6h11.5v5.9h-11.5zM-5.6 -33.6h5.9v5.9h-5.9zM-39.2 -28h11.5v5.9h-11.5zM-39.2 -22.4h11.5v5.9h-11.5zM-39.2 -16.8h22.7v5.9h-22.7zM-39.2 -11.2h28.3v5.9h-28.3zM-39.2 -5.6h28.3v5.9h-28.3zM-33.6 0h22.7v5.9h-22.7zM-28 5.6h17.1v5.9h-17.1zM-28 11.2h11.5v5.9h-11.5zM-39.2 16.8h17.1v5.9h-17.1zM67.2 16.8h5.9v5.9h-5.9zM-39.2 22.4h11.5v5.9h-11.5zM56 22.4h5.9v5.9h-5.9zM72.8 22.4h5.9v5.9h-5.9zM-33.6 28h11.5v5.9h-11.5zM56 28h5.9v5.9h-5.9zM72.8 28h5.9v5.9h-5.9zM-33.6 33.6h11.5v5.9h-11.5zM56 33.6h5.9v5.9h-5.9zM-28 39.2h11.5v5.9h-11.5zM56 39.2h5.9v5.9h-5.9zM67.2 39.2h5.9v5.9h-5.9zM-28 44.8h11.5v5.9h-11.5zM-28 50.4h11.5v5.9h-11.5zM-28 56h11.5v5.9h-11.5zM-22.4 61.6h5.9v5.9h-5.9zM-16.8 67.2h5.9v5.9h-5.9zM-16.8 72.8h5.9v5.9h-5.9zM-16.8 78.4h5.9v5.9h-5.9zM44.8 78.4h17.1v5.9h-17.1zM-16.8 84h5.9v5.9h-5.9zM44.8 84h11.5v5.9h-11.5zM-16.8 89.6h5.9v5.9h-5.9zM-22.4 95.2h5.9v5.9h-5.9zM-33.6 100.8h11.5v5.9h-11.5z"/><path fill="#9f0000" d="M-22.4 -112h5.9v5.9h-5.9zM-28 -106.4h11.5v5.9h-11.5zM-28 -100.8h5.9v5.9h-5.9zM-33.6 -95.2h11.5v5.9h-11.5zM-33.6 -89.6h17.1v5.9h-17.1zM-28 -84h11.5v5.9h-11.5zM-28 -78.4h11.5v5.9h-11.5zM-28 -72.8h11.5v5.9h-11.5zM-22.4 -67.2h5.9v5.9h-5.9zM-22.4 -61.6h5.9v5.9h-5.9zM-22.4 -56h11.5v5.9h-11.5zM-22.4 -50.4h11.5v5.9h-11.5zM-22.4 -44.8h28.3v5.9h-28.3zM-22.4 -39.2h33.9v5.9h-33.9zM-28 -33.6h22.7v5.9h-22.7zM0 -33.6h11.5v5.9h-11.5zM-28 -28h33.9v5.9h-33.9zM-28 -22.4h28.3v5.9h-28.3zM-16.8 -16.8h17.1v5.9h-17.1zM-11.2 -11.2h11.5v5.9h-11.5zM-11.2 -5.6h11.5v5.9h-11.5zM-11.2 0h11.5v5.9h-11.5zM-11.2 5.6h11.5v5.9h-11.5zM-16.8 11.2h17.1v5.9h-17.1zM61.6 11.2h11.5v5.9h-11.5zM-22.4 16.8h22.7v5.9h-22.7zM56 16.8h5.9v5.9h-5.9zM72.8 16.8h5.9v5.9h-5.9zM-28 22.4h22.7v5.9h-22.7zM-22.4 28h17.1v5.9h-17.1zM-22.4 33.6h17.1v5.9h-17.1zM72.8 33.6h5.9v5.9h-5.9zM-16.8 39.2h22.7v5.9h-22.7zM-16.8 44.8h17.1v5.9h-17.1zM56 44.8h17.1v5.9h-17.1zM-16.8 50.4h11.5v5.9h-11.5zM-16.8 56h11.5v5.9h-11.5zM-16.8 61.6h17.1v5.9h-17.1zM-11.2 67.2h11.5v5.9h-11.5zM-11.2 72.8h11.5v5.9h-11.5zM39.2 72.8h22.7v5.9h-22.7zM-11.2 78.4h11.5v5.9h-11.5zM28 78.4h17.1v5.9h-17.1zM61.6 78.4h5.9v5.9h-5.9zM-11.2 84h11.5v5.9h-11.5zM33.6 84h11.5v5.9h-11.5zM56 84h11.5v5.9h-11.5zM-11.2 89.6h11.5v5.9h-11.5zM-16.8 95.2h17.1v5.9h-17.1zM-22.4 100.8h17.1v5.9h-17.1zM-22.4 106.4h17.1v5.9h-17.1z"/><path fill="#960000" d="M-16.8 -112h11.5v5.9h-11.5zM-16.8 -106.4h5.9v5.9h-5.9zM-22.4 -100.8h17.1v5.9h-17.1zM-22.4 -95.2h22.7v5.9h-22.7zM-16.8 -89.6h11.5v5.9h-11.5zM-16.8 -84h11.5v5.9h-11.5zM-16.8 -78.4h11.5v5.9h-11.5zM-16.8 -72.8h11.5v5.9h-11.5zM-16.8 -67.2h11.5v5.9h-11.5zM-16.8 -61.6h11.5v5.9h-11.5zM-11.2 -56h17.1v5.9h-17.1zM-11.2 -50.4h28.3v5.9h-28.3zM5.6 -44.8h17.1v5.9h-17.1zM89.6 -44.8h5.9v5.9h-5.9zM11.2 -39.2h11.5v5.9h-11.5zM11.2 -33.6h11.5v5.9h-11.5zM5.6 -28h17.1v5.9h-17.1zM0 -22.4h11.5v5.9h-11.5zM0 -16.8h11.5v5.9h-11.5zM0 -11.2h17.1v5.9h-17.1zM0 -5.6h22.7v5.9h-22.7zM0 0h28.3v5.9h-28.3zM0 5.6h11.5v5.9h-11.5zM16.8 5.6h17.1v5.9h-17.1zM56 5.6h22.7v5.9h-22.7zM0 11.2h11.5v5.9h-11.5zM50.4 11.2h11.5v5.9h-11.5zM72.8 11.2h5.9v5.9h-5.9zM0 16.8h11.5v5.9h-11.5zM50.4 16.8h5.9v5.9h-5.9zM-5.6 22.4h22.7v5.9h-22.7zM50.4 22.4h5.9v5.9h-5.9zM-5.6 28h22.7v5.9h-22.7zM50.4 28h5.9v5.9h-5.9zM-5.6 33.6h28.3v5.9h-28.3zM50.4 33.6h5.9v5.9h-5.9zM5.6 39.2h17.1v5.9h-17.1zM50.4 39.2h5.9v5.9h-5.9zM72.8 39.2h5.9v5.9h-5.9zM0 44.8h17.1v5.9h-17.1zM50.4 44.8h5.9v5.9h-5.9zM-5.6 50.4h17.1v5.9h-17.1zM56 50.4h11.5v5.9h-11.5zM-5.6 56h17.1v5.9h-17.1zM16.8 56h11.5v5.9h-11.5zM0 61.6h33.9v5.9h-33.9zM0 67.2h39.5v5.9h-39.5zM44.8 67.2h22.7v5.9h-22.7zM0 72.8h39.5v5.9h-39.5zM61.6 72.8h11.5v5.9h-11.5zM0 78.4h28.3v5.9h-28.3zM67.2 78.4h5.9v5.9h-5.9zM0 84h11.5v5.9h-11.5zM16.8 84h17.1v5.9h-17.1zM67.2 84h5.9v5.9h-5.9zM0 89.6h11.5v5.9h-11.5zM28 89.6h33.9v5.9h-33.9zM0 95.2h5.9v5.9h-5.9zM33.6 95.2h11.5v5.9h-11.5zM-5.6 100.8h17.1v5.9h-17.1zM-5.6 106.4h17.1v5.9h-17.1z"/><path fill="#890000" d="M-5.6 -112h22.7v5.9h-22.7zM-11.2 -106.4h22.7v5.9h-22.7zM-5.6 -100.8h17.1v5.9h-17.1zM0 -95.2h5.9v5.9h-5.9zM-5.6 -89.6h11.5v5.9h-11.5zM-5.6 -84h11.5v5.9h-11.5zM-5.6 -78.4h11.5v5.9h-11.5zM-5.6 -72.8h33.9v5.9h-33.9zM61.6 -72.8h17.1v5.9h-17.1zM-5.6 -67.2h39.5v5.9h-39.5zM67.2 -67.2h22.7v5.9h-22.7zM-5.6 -61.6h39.5v5.9h-39.5zM67.2 -61.6h28.3v5.9h-28.3zM5.6 -56h28.3v5.9h-28.3zM67.2 -56h33.9v5.9h-33.9zM16.8 -50.4h17.1v5.9h-17.1zM61.6 -50.4h39.5v5.9h-39.5zM22.4 -44.8h17.1v5.9h-17.1zM61.6 -44.8h28.3v5.9h-28.3zM95.2 -44.8h11.5v5.9h-11.5zM22.4 -39.2h17.1v5.9h-17.1zM61.6 -39.2h45.1v5.9h-45.1zM22.4 -33.6h17.1v5.9h-17.1zM61.6 -33.6h45.1v5.9h-45.1zM22.4 -28h17.1v5.9h-17.1zM50.4 -28h33.9v5.9h-33.9zM11.2 -22.4h73.1v5.9h-73.1zM11.2 -16.8h67.5v5.9h-67.5zM16.8 -11.2h50.7v5.9h-50.7zM95.2 -11.2h17.1v5.9h-17.1zM22.4 -5.6h45.1v5.9h-45.1zM89.6 -5.6h22.7v5.9h-22.7zM28 0h84.3v5.9h-84.3zM11.2 5.6h5.9v5.9h-5.9zM33.6 5.6h22.7v5.9h-22.7zM78.4 5.6h33.9v5.9h-33.9zM11.2 11.2h39.5v5.9h-39.5zM78.4 11.2h33.9v5.9h-33.9zM11.2 16.8h39.5v5.9h-39.5zM78.4 16.8h5.9v5.9h-5.9zM95.2 16.8h17.1v5.9h-17.1zM16.8 22.4h22.7v5.9h-22.7zM78.4 22.4h5.9v5.9h-5.9zM95.2 22.4h11.5v5.9h-11.5zM16.8 28h17.1v5.9h-17.1zM78.4 28h5.9v5.9h-5.9zM22.4 33.6h11.5v5.9h-11.5zM78.4 33.6h5.9v5.9h-5.9zM22.4 39.2h11.5v5.9h-11.5zM78.4 39.2h5.9v5.9h-5.9zM16.8 44.8h33.9v5.9h-33.9zM72.8 44.8h5.9v5.9h-5.9zM11.2 50.4h45.1v5.9h-45.1zM67.2 50.4h11.5v5.9h-11.5zM95.2 50.4h5.9v5.9h-5.9zM11.2 56h5.9v5.9h-5.9zM28 56h50.7v5.9h-50.7zM33.6 61.6h45.1v5.9h-45.1zM39.2 67.2h5.9v5.9h-5.9zM67.2 67.2h22.7v5.9h-22.7zM72.8 72.8h11.5v5.9h-11.5zM72.8 78.4h5.9v5.9h-5.9zM11.2 84h5.9v5.9h-5.9zM11.2 89.6h17.1v5.9h-17.1zM5.6 95.2h28.3v5.9h-28.3zM44.8 95.2h11.5v5.9h-11.5zM11.2 100.8h33.9v5.9h-33.9zM11.2 106.4h11.5v5.9h-11.5z"/><path fill="#800000" d="M16.8 -112h5.9v5.9h-5.9zM11.2 -106.4h33.9v5.9h-33.9zM11.2 -100.8h45.1v5.9h-45.1zM5.6 -95.2h56.3v5.9h-56.3zM5.6 -89.6h67.5v5.9h-67.5zM5.6 -84h73.1v5.9h-73.1zM5.6 -78.4h78.7v5.9h-78.7zM28 -72.8h33.9v5.9h-33.9zM78.4 -72.8h11.5v5.9h-11.5zM33.6 -67.2h33.9v5.9h-33.9zM33.6 -61.6h33.9v5.9h-33.9zM33.6 -56h33.9v5.9h-33.9zM33.6 -50.4h28.3v5.9h-28.3zM39.2 -44.8h22.7v5.9h-22.7zM39.2 -39.2h22.7v5.9h-22.7zM39.2 -33.6h22.7v5.9h-22.7zM39.2 -28h11.5v5.9h-11.5zM84 -28h22.7v5.9h-22.7zM84 -22.4h28.3v5.9h-28.3zM78.4 -16.8h33.9v5.9h-33.9zM67.2 -11.2h28.3v5.9h-28.3zM67.2 -5.6h22.7v5.9h-22.7zM84 16.8h11.5v5.9h-11.5zM39.2 22.4h11.5v5.9h-11.5zM84 22.4h11.5v5.9h-11.5zM33.6 28h17.1v5.9h-17.1zM84 28h22.7v5.9h-22.7zM33.6 33.6h17.1v5.9h-17.1zM84 33.6h22.7v5.9h-22.7zM33.6 39.2h17.1v5.9h-17.1zM84 39.2h22.7v5.9h-22.7zM78.4 44.8h22.7v5.9h-22.7zM78.4 50.4h17.1v5.9h-17.1zM78.4 56h17.1v5.9h-17.1zM78.4 61.6h11.5v5.9h-11.5z"/></g></g></g><linearGradient id="jetbar" x1="0" y1="0" x2="0" y2="1"><stop offset="0.0000" stop-color="#800000"/><stop offset="0.0278" stop-color="#840000"/><stop offset="0.0556" stop-color="#8d0000"/><stop offset="0.0833" stop-color="#960000"/><stop offset="0.1111" stop-color="#9f0000"/><stop offset="0.1389" stop-color="#a80000"/><stop offset="0.1667" stop-color="#b20000"/><stop offset="0.1944" stop-color="#bb0000"/><stop offset="0.2222" stop-color="#c40000"/><stop offset="0.2500" stop-color="#cd0000"/><stop offset="0.2778" stop-color="#ff1600"/><stop offset="0.3056" stop-color="#ff4700"/><stop offset="0.3333" stop-color="#ff7a00"/><stop offset="0.3611" stop-color="#ffb200"/><stop offset="0.3889" stop-color="#ffea00"/><stop offset="0.4167" stop-color="#dbff1c"/><stop offset="0.4444" stop-color="#baff3c"/><stop offset="0.4722" stop-color="#9aff5d"/><stop offset="0.5000" stop-color="#7dff7a"/><stop offset="0.5278" stop-color="#5aff9d"/><stop offset="0.5556" stop-color="#39ffbe"/><stop offset="0.5833" stop-color="#19ffde"/><stop offset="0.6111" stop-color="#00dcfe"/><stop offset="0.6389" stop-color="#00b8ff"/><stop offset="0.6667" stop-color="#0094ff"/><stop offset="0.6944" stop-color="#0048ff"/><stop offset="0.7222" stop-color="#0000ff"/><stop offset="0.7500" stop-color="#0000e8"/><stop offset="0.7778" stop-color="#0000da"/><stop offset="0.8056" stop-color="#0000cd"/><stop offset="0.8333" stop-color="#0000c4"/><stop offset="0.8611" stop-color="#0000b6"/><stop offset="0.8889" stop-color="#0000ad"/><stop offset="0.9167" stop-color="#00009f"/><stop offset="0.9444" stop-color="#000096"/><stop offset="0.9722" stop-color="#000089"/><stop offset="1.0000" stop-color="#000080"/></linearGradient></defs></svg>
<main>
<section class="panel" id="p1" style="left:13px;top:6px;width:246px;height:219px"><svg width="244" height="217" viewBox="14 7 244 217"><rect x="43.2" y="42.0" width="122.8" height="125.8" fill="#969696"/><use href="#hmA" transform="translate(104.60,104.90) scale(0.6140,0.6290)"/><ellipse cx="104.60" cy="104.90" rx="61.40" ry="62.90" fill="none" stroke="#3a1a00" stroke-opacity="0.55" stroke-width="0.6"/><path d="M117.2 117.9L148.0 149.4M92.0 117.9L61.2 149.4M92.0 91.9L61.2 60.4M117.2 91.9L148.0 60.4" stroke="#000" stroke-opacity="0.85" stroke-width="0.55" fill="none"/><ellipse cx="104.60" cy="104.90" rx="17.8" ry="18.33" fill="none" stroke="#000" stroke-opacity="0.8" stroke-width="0.55"/><text x="107.2" y="64.8" font-size="8" fill="#000" text-anchor="middle" font-weight="bold">S</text><text x="67.7" y="105.4" font-size="8" fill="#000" text-anchor="middle" font-weight="bold">T</text><text x="145.7" y="105.4" font-size="8" fill="#000" text-anchor="middle" font-weight="bold">N</text><text x="105.7" y="145.6" font-size="8" fill="#000" text-anchor="middle" font-weight="bold">I</text><text x="45.2" y="49.8" font-size="6.2" fill="#2222cc" fill-opacity="0.95">WD:21.8</text><text x="45.2" y="55.7" font-size="6.2" fill="#2222cc" fill-opacity="0.95">V1.5.2</text><text x="45.2" y="61.6" font-size="6.2" fill="#2222cc" fill-opacity="0.95">F:C</text><text x="45.2" y="156.6" font-size="6.2" fill="#2222cc" fill-opacity="0.95">91%</text><text x="171.6" y="46.2" font-size="6.4" fill="#000" textLength="36.6" lengthAdjust="spacingAndGlyphs" fill-opacity="0.86">Description</text><text x="169.7" y="61.8" font-size="5.6" fill="#000" textLength="61.0" lengthAdjust="spacingAndGlyphs" fill-opacity="0.86">Dominant Defocusing:</text><rect x="172.39999999999998" y="69.6" width="3" height="3.2" fill="#fff" stroke="#5a5ae0" stroke-width="0.4"/><text x="175.8" y="73.2" font-size="5.6" fill="#000" textLength="34.8" lengthAdjust="spacingAndGlyphs" fill-opacity="0.86">Emmetropic</text><rect x="172.2" y="81.1" width="3.8" height="3.9" fill="#1010f0"/><text x="175.8" y="85.0" font-size="5.6" fill="#000" textLength="52.3" lengthAdjust="spacingAndGlyphs" fill-opacity="0.86">Hyperopic Defocus</text><rect x="172.39999999999998" y="92.8" width="3" height="3.2" fill="#fff" stroke="#5a5ae0" stroke-width="0.4"/><text x="175.8" y="96.4" font-size="5.6" fill="#000" textLength="43.6" lengthAdjust="spacingAndGlyphs" fill-opacity="0.86">Myopic Defocus</text><text x="169.7" y="110.2" font-size="5.6" fill="#000" textLength="39.3" lengthAdjust="spacingAndGlyphs" fill-opacity="0.86">Symmetricity:</text><rect x="172.39999999999998" y="118.2" width="3" height="3.2" fill="#fff" stroke="#5a5ae0" stroke-width="0.4"/><text x="175.8" y="121.8" font-size="5.6" fill="#000" textLength="36.2" lengthAdjust="spacingAndGlyphs" fill-opacity="0.86">Symmetrical</text><rect x="172.2" y="129.5" width="3.8" height="3.9" fill="#1010f0"/><text x="175.8" y="133.4" font-size="5.6" fill="#000" textLength="52.5" lengthAdjust="spacingAndGlyphs" fill-opacity="0.86">N-T Asymmetrical</text><rect x="172.2" y="141.1" width="3.8" height="3.9" fill="#1010f0"/><text x="175.8" y="145.0" font-size="5.6" fill="#000" textLength="50.5" lengthAdjust="spacingAndGlyphs" fill-opacity="0.86">S-I Asymmetrical</text><text x="169.7" y="158.8" font-size="5.6" fill="#000" textLength="51.5" lengthAdjust="spacingAndGlyphs" fill-opacity="0.86">Hyperopic Defocus</text><text x="169.7" y="166.7" font-size="5.6" fill="#000" textLength="27.5" lengthAdjust="spacingAndGlyphs" fill-opacity="0.86">Quadrant:</text><rect x="172.2" y="174.0" width="3.8" height="3.9" fill="#1010f0"/><text x="176.4" y="177.9" font-size="5.0" fill="#000" fill-opacity="0.6">T</text><rect x="197.8" y="174.0" width="3.8" height="3.9" fill="#1010f0"/><text x="202.0" y="177.9" font-size="5.0" fill="#000" fill-opacity="0.6">N</text><rect x="172.2" y="185.5" width="3.8" height="3.9" fill="#1010f0"/><text x="176.4" y="189.4" font-size="5.0" fill="#000" fill-opacity="0.6">S</text><rect x="197.8" y="185.5" width="3.8" height="3.9" fill="#1010f0"/><text x="202.0" y="189.4" font-size="5.0" fill="#000" fill-opacity="0.6">I</text><text x="43.6" y="174.9" font-size="5.4" fill="#000" textLength="122.4" lengthAdjust="spacingAndGlyphs" fill-opacity="0.86">Inner circle subtends  15  degree of visual</text><text x="43.6" y="182.5" font-size="5.4" fill="#000" textLength="124.2" lengthAdjust="spacingAndGlyphs" fill-opacity="0.86">field, while outer circle subtends 53 degree</text><text x="43.6" y="190.1" font-size="5.4" fill="#000" textLength="40.0" lengthAdjust="spacingAndGlyphs" fill-opacity="0.86">of visual field.</text><text x="43.6" y="197.7" font-size="5.4" fill="#000" textLength="94.4" lengthAdjust="spacingAndGlyphs" fill-opacity="0.86">Significance Order: T &gt; I &gt; S &gt; N</text></svg><h3 style="left:72.53px;top:3.33px;font-size:11.4px;line-height:13.10px;letter-spacing:-0.421px">OD::Terrain::Defocus</h3></section>
<section class="panel" id="p2" style="left:268px;top:6px;width:246px;height:219px"><svg width="244" height="217" viewBox="269 7 244 217"><defs><filter id="t2-bb" x="-10%" y="-30%" width="120%" height="160%"><feGaussianBlur stdDeviation="0.8"/></filter></defs><path d="M381.0 38.8L301.2 86.4L306.5 150.3L381.1 95.0Z" fill="#f5f5f5"/><path d="M381.0 38.8L460.0 86.8L455.8 150.0L381.1 95.0Z" fill="#f1f1f1"/><path d="M381.1 95.0L306.5 150.3L381.2 205.6L455.8 150.0Z" fill="#f8f8f8"/><path d="M368.7 104.2L443.4 159.3M393.6 104.2L318.9 159.5M367.7 46.7L368.7 104.2M394.2 46.8L393.6 104.2M381.0 48.2L302.1 97.1M381.0 48.2L459.3 97.3M356.2 113.4L430.9 168.5M406.0 113.3L331.4 168.7M354.4 54.7L356.2 113.4M407.3 54.8L406.0 113.3M381.0 57.5L303.0 107.7M381.0 57.5L458.6 107.9M343.8 122.7L418.5 177.8M418.5 122.5L343.9 177.9M341.1 62.6L343.8 122.7M420.5 62.8L418.5 122.5M381.1 66.9L303.9 118.4M381.1 66.9L457.9 118.4M331.4 131.9L406.1 187.1M430.9 131.7L356.3 187.2M327.8 70.5L331.4 131.9M433.7 70.8L430.9 131.7M381.1 76.3L304.7 129.0M381.1 76.3L457.2 128.9M318.9 141.1L393.6 196.3M443.4 140.8L368.8 196.4M314.5 78.5L318.9 141.1M446.8 78.8L443.4 140.8M381.1 85.6L305.6 139.7M381.1 85.6L456.5 139.5" stroke="#fff" stroke-opacity="0.9" stroke-width="0.45" fill="none"/><path d="M381.0 38.8L381.1 95.0M381.1 95.0L306.5 150.3M381.1 95.0L455.8 150.0" stroke="#fff" stroke-width="0.6" fill="none"/><path d="M301.2 86.4L306.5 150.3L381.2 205.6L455.8 150.0" stroke="#bbb" stroke-width="0.4" fill="none"/><path d="M301.2 86.4L306.5 150.3" stroke="#333" stroke-width="0.5" fill="none"/><defs><filter id="t2h-b" filterUnits="userSpaceOnUse" x="320.8" y="60.8" width="120.4" height="126.4"><feGaussianBlur stdDeviation="1.4"/></filter><clipPath id="t2h-c"><path d="M333.8 95.1C334.5 91.9 335.3 88.6 337.0 87.2C338.7 85.8 341.3 86.0 344.0 86.4C346.8 86.8 350.1 88.9 353.5 89.6C356.9 90.2 361.4 91.5 364.5 90.3C367.7 89.2 369.8 85.0 372.4 82.5C375.0 80.0 377.4 77.1 380.3 75.4C383.2 73.7 386.8 72.4 389.7 72.2C392.6 72.1 395.2 72.9 397.6 74.6C400.0 76.3 401.8 79.6 403.9 82.5C406.0 85.4 408.1 89.6 410.2 91.9C412.3 94.3 414.4 94.3 416.5 96.6C418.6 99.0 421.0 103.2 422.8 106.1C424.6 109.0 426.5 110.3 427.5 114.0C428.6 117.6 428.7 123.2 429.1 128.1C429.5 133.1 430.1 140.0 429.9 143.9C429.6 147.8 429.2 148.6 427.5 151.8C425.8 154.9 423.0 159.6 419.6 162.8C416.2 165.9 411.8 168.7 407.0 170.7C402.3 172.6 395.8 173.8 391.3 174.6C386.8 175.4 384.5 175.6 380.3 175.4C376.1 175.1 370.8 174.3 366.1 173.0C361.4 171.7 356.4 170.0 351.9 167.5C347.5 165.0 342.5 161.5 339.3 158.1C336.2 154.7 334.2 152.6 333.0 147.0C331.8 141.5 332.2 131.8 332.2 125.0C332.2 118.2 332.8 111.1 333.0 106.1C333.3 101.1 333.2 98.2 333.8 95.1Z"/></clipPath></defs><g clip-path="url(#t2h-c)"><g filter="url(#t2h-b)" shape-rendering="crispEdges"><path fill="#29ffce" d="M393.3 130.8h2.8v2.8h-2.8zM390.8 133.3h7.8v2.8h-7.8zM393.3 135.8h5.3v2.8h-5.3z"/><path fill="#3cffba" d="M388.3 128.3h10.3v2.8h-10.3zM388.3 130.8h5.3v2.8h-5.3zM395.8 130.8h5.3v2.8h-5.3zM385.8 133.3h5.3v2.8h-5.3zM398.3 133.3h2.8v2.8h-2.8zM388.3 135.8h5.3v2.8h-5.3zM398.3 135.8h2.8v2.8h-2.8zM390.8 138.3h10.3v2.8h-10.3zM395.8 140.8h2.8v2.8h-2.8zM325.8 143.3h2.8v2.8h-2.8zM325.8 145.8h5.3v2.8h-5.3zM325.8 148.3h5.3v2.8h-5.3zM325.8 150.8h5.3v2.8h-5.3zM333.3 155.8h5.3v2.8h-5.3zM333.3 158.3h7.8v2.8h-7.8zM333.3 160.8h7.8v2.8h-7.8zM335.8 163.3h5.3v2.8h-5.3zM373.3 178.3h2.8v2.8h-2.8zM435.8 178.3h2.8v2.8h-2.8zM370.8 180.8h7.8v2.8h-7.8zM433.3 180.8h5.3v2.8h-5.3z"/><path fill="#53ffa4" d="M385.8 123.3h7.8v2.8h-7.8zM383.3 125.8h15.3v2.8h-15.3zM383.3 128.3h5.3v2.8h-5.3zM398.3 128.3h2.8v2.8h-2.8zM383.3 130.8h5.3v2.8h-5.3zM400.8 130.8h2.8v2.8h-2.8zM383.3 133.3h2.8v2.8h-2.8zM400.8 133.3h2.8v2.8h-2.8zM385.8 135.8h2.8v2.8h-2.8zM400.8 135.8h2.8v2.8h-2.8zM388.3 138.3h2.8v2.8h-2.8zM400.8 138.3h2.8v2.8h-2.8zM390.8 140.8h5.3v2.8h-5.3zM398.3 140.8h2.8v2.8h-2.8zM328.3 143.3h2.8v2.8h-2.8zM330.8 145.8h2.8v2.8h-2.8zM330.8 148.3h2.8v2.8h-2.8zM330.8 150.8h5.3v2.8h-5.3zM325.8 153.3h12.8v2.8h-12.8zM325.8 155.8h7.8v2.8h-7.8zM338.3 155.8h2.8v2.8h-2.8zM325.8 158.3h7.8v2.8h-7.8zM340.8 158.3h2.8v2.8h-2.8zM418.3 158.3h7.8v2.8h-7.8zM325.8 160.8h7.8v2.8h-7.8zM340.8 160.8h5.3v2.8h-5.3zM415.8 160.8h10.3v2.8h-10.3zM325.8 163.3h10.3v2.8h-10.3zM340.8 163.3h5.3v2.8h-5.3zM413.3 163.3h12.8v2.8h-12.8zM325.8 165.8h27.8v2.8h-27.8zM410.8 165.8h15.3v2.8h-15.3zM325.8 168.3h27.8v2.8h-27.8zM408.3 168.3h20.3v2.8h-20.3zM325.8 170.8h27.8v2.8h-27.8zM408.3 170.8h20.3v2.8h-20.3zM325.8 173.3h27.8v2.8h-27.8zM398.3 173.3h35.3v2.8h-35.3zM435.8 173.3h2.8v2.8h-2.8zM325.8 175.8h25.3v2.8h-25.3zM368.3 175.8h15.3v2.8h-15.3zM390.8 175.8h47.8v2.8h-47.8zM325.8 178.3h25.3v2.8h-25.3zM368.3 178.3h5.3v2.8h-5.3zM375.8 178.3h45.3v2.8h-45.3zM423.3 178.3h12.8v2.8h-12.8zM325.8 180.8h25.3v2.8h-25.3zM368.3 180.8h2.8v2.8h-2.8zM378.3 180.8h42.8v2.8h-42.8zM425.8 180.8h7.8v2.8h-7.8z"/><path fill="#66ff90" d="M378.3 120.8h15.3v2.8h-15.3zM378.3 123.3h7.8v2.8h-7.8zM393.3 123.3h5.3v2.8h-5.3zM378.3 125.8h5.3v2.8h-5.3zM398.3 125.8h2.8v2.8h-2.8zM378.3 128.3h5.3v2.8h-5.3zM400.8 128.3h2.8v2.8h-2.8zM378.3 130.8h5.3v2.8h-5.3zM403.3 130.8h2.8v2.8h-2.8zM380.8 133.3h2.8v2.8h-2.8zM403.3 133.3h2.8v2.8h-2.8zM380.8 135.8h5.3v2.8h-5.3zM403.3 135.8h2.8v2.8h-2.8zM383.3 138.3h5.3v2.8h-5.3zM403.3 138.3h2.8v2.8h-2.8zM325.8 140.8h2.8v2.8h-2.8zM388.3 140.8h2.8v2.8h-2.8zM400.8 140.8h2.8v2.8h-2.8zM330.8 143.3h2.8v2.8h-2.8zM390.8 143.3h10.3v2.8h-10.3zM433.3 143.3h2.8v2.8h-2.8zM430.8 145.8h7.8v2.8h-7.8zM333.3 148.3h2.8v2.8h-2.8zM428.3 148.3h10.3v2.8h-10.3zM335.8 150.8h2.8v2.8h-2.8zM425.8 150.8h12.8v2.8h-12.8zM338.3 153.3h5.3v2.8h-5.3zM420.8 153.3h17.8v2.8h-17.8zM340.8 155.8h2.8v2.8h-2.8zM418.3 155.8h15.3v2.8h-15.3zM343.3 158.3h2.8v2.8h-2.8zM415.8 158.3h2.8v2.8h-2.8zM425.8 158.3h5.3v2.8h-5.3zM345.8 160.8h2.8v2.8h-2.8zM413.3 160.8h2.8v2.8h-2.8zM425.8 160.8h5.3v2.8h-5.3zM345.8 163.3h7.8v2.8h-7.8zM410.8 163.3h2.8v2.8h-2.8zM425.8 163.3h7.8v2.8h-7.8zM353.3 165.8h2.8v2.8h-2.8zM405.8 165.8h5.3v2.8h-5.3zM425.8 165.8h12.8v2.8h-12.8zM353.3 168.3h5.3v2.8h-5.3zM403.3 168.3h5.3v2.8h-5.3zM428.3 168.3h10.3v2.8h-10.3zM353.3 170.8h5.3v2.8h-5.3zM395.8 170.8h12.8v2.8h-12.8zM428.3 170.8h10.3v2.8h-10.3zM353.3 173.3h2.8v2.8h-2.8zM365.8 173.3h32.8v2.8h-32.8zM433.3 173.3h2.8v2.8h-2.8zM350.8 175.8h5.3v2.8h-5.3zM363.3 175.8h5.3v2.8h-5.3zM383.3 175.8h7.8v2.8h-7.8zM350.8 178.3h5.3v2.8h-5.3zM363.3 178.3h5.3v2.8h-5.3zM420.8 178.3h2.8v2.8h-2.8zM350.8 180.8h5.3v2.8h-5.3zM363.3 180.8h5.3v2.8h-5.3zM420.8 180.8h5.3v2.8h-5.3z"/><path fill="#7dff7a" d="M378.3 118.3h15.3v2.8h-15.3zM375.8 120.8h2.8v2.8h-2.8zM393.3 120.8h5.3v2.8h-5.3zM373.3 123.3h5.3v2.8h-5.3zM398.3 123.3h2.8v2.8h-2.8zM373.3 125.8h5.3v2.8h-5.3zM400.8 125.8h2.8v2.8h-2.8zM373.3 128.3h5.3v2.8h-5.3zM403.3 128.3h2.8v2.8h-2.8zM375.8 130.8h2.8v2.8h-2.8zM375.8 133.3h5.3v2.8h-5.3zM405.8 133.3h2.8v2.8h-2.8zM378.3 135.8h2.8v2.8h-2.8zM380.8 138.3h2.8v2.8h-2.8zM328.3 140.8h2.8v2.8h-2.8zM383.3 140.8h5.3v2.8h-5.3zM403.3 140.8h2.8v2.8h-2.8zM388.3 143.3h2.8v2.8h-2.8zM400.8 143.3h2.8v2.8h-2.8zM430.8 143.3h2.8v2.8h-2.8zM435.8 143.3h2.8v2.8h-2.8zM333.3 145.8h2.8v2.8h-2.8zM393.3 145.8h5.3v2.8h-5.3zM428.3 145.8h2.8v2.8h-2.8zM335.8 148.3h2.8v2.8h-2.8zM425.8 148.3h2.8v2.8h-2.8zM338.3 150.8h2.8v2.8h-2.8zM423.3 150.8h2.8v2.8h-2.8zM418.3 153.3h2.8v2.8h-2.8zM343.3 155.8h2.8v2.8h-2.8zM415.8 155.8h2.8v2.8h-2.8zM433.3 155.8h5.3v2.8h-5.3zM345.8 158.3h2.8v2.8h-2.8zM413.3 158.3h2.8v2.8h-2.8zM430.8 158.3h7.8v2.8h-7.8zM348.3 160.8h2.8v2.8h-2.8zM410.8 160.8h2.8v2.8h-2.8zM430.8 160.8h7.8v2.8h-7.8zM353.3 163.3h5.3v2.8h-5.3zM405.8 163.3h5.3v2.8h-5.3zM433.3 163.3h5.3v2.8h-5.3zM355.8 165.8h5.3v2.8h-5.3zM403.3 165.8h2.8v2.8h-2.8zM358.3 168.3h5.3v2.8h-5.3zM398.3 168.3h5.3v2.8h-5.3zM358.3 170.8h15.3v2.8h-15.3zM383.3 170.8h12.8v2.8h-12.8zM355.8 173.3h10.3v2.8h-10.3zM355.8 175.8h7.8v2.8h-7.8zM355.8 178.3h7.8v2.8h-7.8zM355.8 180.8h7.8v2.8h-7.8z"/><path fill="#90ff66" d="M375.8 115.8h15.3v2.8h-15.3zM370.8 118.3h7.8v2.8h-7.8zM393.3 118.3h5.3v2.8h-5.3zM370.8 120.8h5.3v2.8h-5.3zM398.3 120.8h2.8v2.8h-2.8zM370.8 123.3h2.8v2.8h-2.8zM370.8 125.8h2.8v2.8h-2.8zM403.3 125.8h2.8v2.8h-2.8zM370.8 128.3h2.8v2.8h-2.8zM405.8 128.3h2.8v2.8h-2.8zM373.3 130.8h2.8v2.8h-2.8zM405.8 130.8h2.8v2.8h-2.8zM373.3 133.3h2.8v2.8h-2.8zM375.8 135.8h2.8v2.8h-2.8zM405.8 135.8h2.8v2.8h-2.8zM378.3 138.3h2.8v2.8h-2.8zM405.8 138.3h2.8v2.8h-2.8zM330.8 140.8h2.8v2.8h-2.8zM380.8 140.8h2.8v2.8h-2.8zM405.8 140.8h2.8v2.8h-2.8zM430.8 140.8h7.8v2.8h-7.8zM333.3 143.3h2.8v2.8h-2.8zM383.3 143.3h5.3v2.8h-5.3zM403.3 143.3h2.8v2.8h-2.8zM428.3 143.3h2.8v2.8h-2.8zM335.8 145.8h2.8v2.8h-2.8zM388.3 145.8h5.3v2.8h-5.3zM398.3 145.8h5.3v2.8h-5.3zM425.8 145.8h2.8v2.8h-2.8zM338.3 148.3h2.8v2.8h-2.8zM423.3 148.3h2.8v2.8h-2.8zM340.8 150.8h2.8v2.8h-2.8zM418.3 150.8h5.3v2.8h-5.3zM343.3 153.3h2.8v2.8h-2.8zM415.8 153.3h2.8v2.8h-2.8zM345.8 155.8h2.8v2.8h-2.8zM413.3 155.8h2.8v2.8h-2.8zM348.3 158.3h2.8v2.8h-2.8zM410.8 158.3h2.8v2.8h-2.8zM350.8 160.8h7.8v2.8h-7.8zM405.8 160.8h5.3v2.8h-5.3zM358.3 163.3h2.8v2.8h-2.8zM403.3 163.3h2.8v2.8h-2.8zM360.8 165.8h5.3v2.8h-5.3zM398.3 165.8h5.3v2.8h-5.3zM363.3 168.3h7.8v2.8h-7.8zM385.8 168.3h12.8v2.8h-12.8zM373.3 170.8h10.3v2.8h-10.3z"/><path fill="#a4ff53" d="M370.8 113.3h20.3v2.8h-20.3zM368.3 115.8h7.8v2.8h-7.8zM390.8 115.8h5.3v2.8h-5.3zM368.3 118.3h2.8v2.8h-2.8zM398.3 118.3h2.8v2.8h-2.8zM365.8 120.8h5.3v2.8h-5.3zM400.8 120.8h2.8v2.8h-2.8zM365.8 123.3h5.3v2.8h-5.3zM400.8 123.3h5.3v2.8h-5.3zM368.3 125.8h2.8v2.8h-2.8zM405.8 125.8h2.8v2.8h-2.8zM368.3 128.3h2.8v2.8h-2.8zM408.3 128.3h2.8v2.8h-2.8zM368.3 130.8h5.3v2.8h-5.3zM408.3 130.8h2.8v2.8h-2.8zM370.8 133.3h2.8v2.8h-2.8zM408.3 133.3h2.8v2.8h-2.8zM370.8 135.8h5.3v2.8h-5.3zM408.3 135.8h2.8v2.8h-2.8zM325.8 138.3h5.3v2.8h-5.3zM373.3 138.3h5.3v2.8h-5.3zM408.3 138.3h2.8v2.8h-2.8zM430.8 138.3h7.8v2.8h-7.8zM333.3 140.8h2.8v2.8h-2.8zM375.8 140.8h5.3v2.8h-5.3zM408.3 140.8h2.8v2.8h-2.8zM428.3 140.8h2.8v2.8h-2.8zM378.3 143.3h5.3v2.8h-5.3zM405.8 143.3h5.3v2.8h-5.3zM425.8 143.3h2.8v2.8h-2.8zM383.3 145.8h5.3v2.8h-5.3zM403.3 145.8h5.3v2.8h-5.3zM423.3 145.8h2.8v2.8h-2.8zM340.8 148.3h2.8v2.8h-2.8zM390.8 148.3h12.8v2.8h-12.8zM418.3 148.3h5.3v2.8h-5.3zM343.3 150.8h2.8v2.8h-2.8zM415.8 150.8h2.8v2.8h-2.8zM345.8 153.3h2.8v2.8h-2.8zM413.3 153.3h2.8v2.8h-2.8zM348.3 155.8h2.8v2.8h-2.8zM410.8 155.8h2.8v2.8h-2.8zM350.8 158.3h5.3v2.8h-5.3zM405.8 158.3h5.3v2.8h-5.3zM358.3 160.8h2.8v2.8h-2.8zM403.3 160.8h2.8v2.8h-2.8zM360.8 163.3h5.3v2.8h-5.3zM400.8 163.3h2.8v2.8h-2.8zM365.8 165.8h2.8v2.8h-2.8zM393.3 165.8h5.3v2.8h-5.3zM370.8 168.3h15.3v2.8h-15.3z"/><path fill="#baff3c" d="M375.8 108.3h5.3v2.8h-5.3zM370.8 110.8h20.3v2.8h-20.3zM365.8 113.3h5.3v2.8h-5.3zM390.8 113.3h5.3v2.8h-5.3zM365.8 115.8h2.8v2.8h-2.8zM395.8 115.8h5.3v2.8h-5.3zM363.3 118.3h5.3v2.8h-5.3zM400.8 118.3h2.8v2.8h-2.8zM363.3 120.8h2.8v2.8h-2.8zM403.3 120.8h2.8v2.8h-2.8zM363.3 123.3h2.8v2.8h-2.8zM405.8 123.3h2.8v2.8h-2.8zM363.3 125.8h5.3v2.8h-5.3zM408.3 125.8h2.8v2.8h-2.8zM363.3 128.3h5.3v2.8h-5.3zM365.8 130.8h2.8v2.8h-2.8zM410.8 130.8h2.8v2.8h-2.8zM368.3 133.3h2.8v2.8h-2.8zM410.8 133.3h2.8v2.8h-2.8zM368.3 135.8h2.8v2.8h-2.8zM410.8 135.8h2.8v2.8h-2.8zM330.8 138.3h2.8v2.8h-2.8zM368.3 138.3h5.3v2.8h-5.3zM410.8 138.3h2.8v2.8h-2.8zM428.3 138.3h2.8v2.8h-2.8zM370.8 140.8h5.3v2.8h-5.3zM410.8 140.8h2.8v2.8h-2.8zM425.8 140.8h2.8v2.8h-2.8zM335.8 143.3h2.8v2.8h-2.8zM373.3 143.3h5.3v2.8h-5.3zM410.8 143.3h2.8v2.8h-2.8zM423.3 143.3h2.8v2.8h-2.8zM338.3 145.8h2.8v2.8h-2.8zM378.3 145.8h5.3v2.8h-5.3zM408.3 145.8h5.3v2.8h-5.3zM420.8 145.8h2.8v2.8h-2.8zM343.3 148.3h2.8v2.8h-2.8zM385.8 148.3h5.3v2.8h-5.3zM403.3 148.3h7.8v2.8h-7.8zM415.8 148.3h2.8v2.8h-2.8zM345.8 150.8h2.8v2.8h-2.8zM393.3 150.8h15.3v2.8h-15.3zM413.3 150.8h2.8v2.8h-2.8zM348.3 153.3h2.8v2.8h-2.8zM405.8 153.3h7.8v2.8h-7.8zM350.8 155.8h2.8v2.8h-2.8zM405.8 155.8h5.3v2.8h-5.3zM355.8 158.3h5.3v2.8h-5.3zM403.3 158.3h2.8v2.8h-2.8zM360.8 160.8h5.3v2.8h-5.3zM400.8 160.8h2.8v2.8h-2.8zM365.8 163.3h2.8v2.8h-2.8zM393.3 163.3h7.8v2.8h-7.8zM368.3 165.8h25.3v2.8h-25.3z"/><path fill="#ceff29" d="M375.8 105.8h7.8v2.8h-7.8zM368.3 108.3h7.8v2.8h-7.8zM380.8 108.3h10.3v2.8h-10.3zM365.8 110.8h5.3v2.8h-5.3zM390.8 110.8h7.8v2.8h-7.8zM363.3 113.3h2.8v2.8h-2.8zM395.8 113.3h5.3v2.8h-5.3zM363.3 115.8h2.8v2.8h-2.8zM400.8 115.8h2.8v2.8h-2.8zM360.8 118.3h2.8v2.8h-2.8zM403.3 118.3h5.3v2.8h-5.3zM360.8 120.8h2.8v2.8h-2.8zM405.8 120.8h2.8v2.8h-2.8zM360.8 123.3h2.8v2.8h-2.8zM408.3 123.3h2.8v2.8h-2.8zM360.8 125.8h2.8v2.8h-2.8zM410.8 125.8h2.8v2.8h-2.8zM360.8 128.3h2.8v2.8h-2.8zM410.8 128.3h2.8v2.8h-2.8zM360.8 130.8h5.3v2.8h-5.3zM413.3 130.8h2.8v2.8h-2.8zM363.3 133.3h5.3v2.8h-5.3zM413.3 133.3h2.8v2.8h-2.8zM325.8 135.8h2.8v2.8h-2.8zM363.3 135.8h5.3v2.8h-5.3zM413.3 135.8h2.8v2.8h-2.8zM428.3 135.8h10.3v2.8h-10.3zM333.3 138.3h2.8v2.8h-2.8zM363.3 138.3h5.3v2.8h-5.3zM413.3 138.3h2.8v2.8h-2.8zM425.8 138.3h2.8v2.8h-2.8zM335.8 140.8h2.8v2.8h-2.8zM363.3 140.8h7.8v2.8h-7.8zM413.3 140.8h2.8v2.8h-2.8zM423.3 140.8h2.8v2.8h-2.8zM338.3 143.3h2.8v2.8h-2.8zM368.3 143.3h5.3v2.8h-5.3zM413.3 143.3h10.3v2.8h-10.3zM340.8 145.8h2.8v2.8h-2.8zM373.3 145.8h5.3v2.8h-5.3zM413.3 145.8h7.8v2.8h-7.8zM345.8 148.3h5.3v2.8h-5.3zM375.8 148.3h10.3v2.8h-10.3zM410.8 148.3h5.3v2.8h-5.3zM348.3 150.8h5.3v2.8h-5.3zM380.8 150.8h12.8v2.8h-12.8zM408.3 150.8h5.3v2.8h-5.3zM350.8 153.3h2.8v2.8h-2.8zM390.8 153.3h15.3v2.8h-15.3zM353.3 155.8h7.8v2.8h-7.8zM400.8 155.8h5.3v2.8h-5.3zM360.8 158.3h5.3v2.8h-5.3zM395.8 158.3h7.8v2.8h-7.8zM365.8 160.8h2.8v2.8h-2.8zM388.3 160.8h12.8v2.8h-12.8zM368.3 163.3h25.3v2.8h-25.3z"/><path fill="#e4ff13" d="M375.8 103.3h10.3v2.8h-10.3zM360.8 105.8h15.3v2.8h-15.3zM383.3 105.8h10.3v2.8h-10.3zM360.8 108.3h7.8v2.8h-7.8zM390.8 108.3h7.8v2.8h-7.8zM360.8 110.8h5.3v2.8h-5.3zM398.3 110.8h5.3v2.8h-5.3zM360.8 113.3h2.8v2.8h-2.8zM400.8 113.3h5.3v2.8h-5.3zM360.8 115.8h2.8v2.8h-2.8zM403.3 115.8h5.3v2.8h-5.3zM358.3 118.3h2.8v2.8h-2.8zM408.3 118.3h2.8v2.8h-2.8zM358.3 120.8h2.8v2.8h-2.8zM408.3 120.8h5.3v2.8h-5.3zM358.3 123.3h2.8v2.8h-2.8zM410.8 123.3h2.8v2.8h-2.8zM358.3 125.8h2.8v2.8h-2.8zM413.3 125.8h2.8v2.8h-2.8zM355.8 128.3h5.3v2.8h-5.3zM413.3 128.3h2.8v2.8h-2.8zM355.8 130.8h5.3v2.8h-5.3zM415.8 130.8h2.8v2.8h-2.8zM355.8 133.3h7.8v2.8h-7.8zM415.8 133.3h2.8v2.8h-2.8zM428.3 133.3h10.3v2.8h-10.3zM328.3 135.8h7.8v2.8h-7.8zM358.3 135.8h5.3v2.8h-5.3zM415.8 135.8h2.8v2.8h-2.8zM423.3 135.8h5.3v2.8h-5.3zM335.8 138.3h2.8v2.8h-2.8zM358.3 138.3h5.3v2.8h-5.3zM415.8 138.3h10.3v2.8h-10.3zM338.3 140.8h2.8v2.8h-2.8zM358.3 140.8h5.3v2.8h-5.3zM415.8 140.8h7.8v2.8h-7.8zM340.8 143.3h2.8v2.8h-2.8zM358.3 143.3h10.3v2.8h-10.3zM343.3 145.8h30.3v2.8h-30.3zM350.8 148.3h15.3v2.8h-15.3zM368.3 148.3h7.8v2.8h-7.8zM353.3 150.8h10.3v2.8h-10.3zM368.3 150.8h12.8v2.8h-12.8zM353.3 153.3h37.8v2.8h-37.8zM360.8 155.8h40.3v2.8h-40.3zM365.8 158.3h30.3v2.8h-30.3zM368.3 160.8h20.3v2.8h-20.3z"/><path fill="#f8f500" d="M363.3 100.8h7.8v2.8h-7.8zM378.3 100.8h7.8v2.8h-7.8zM360.8 103.3h15.3v2.8h-15.3zM385.8 103.3h12.8v2.8h-12.8zM358.3 105.8h2.8v2.8h-2.8zM393.3 105.8h10.3v2.8h-10.3zM358.3 108.3h2.8v2.8h-2.8zM398.3 108.3h7.8v2.8h-7.8zM358.3 110.8h2.8v2.8h-2.8zM403.3 110.8h5.3v2.8h-5.3zM358.3 113.3h2.8v2.8h-2.8zM405.8 113.3h5.3v2.8h-5.3zM358.3 115.8h2.8v2.8h-2.8zM408.3 115.8h5.3v2.8h-5.3zM355.8 118.3h2.8v2.8h-2.8zM410.8 118.3h5.3v2.8h-5.3zM355.8 120.8h2.8v2.8h-2.8zM413.3 120.8h2.8v2.8h-2.8zM355.8 123.3h2.8v2.8h-2.8zM413.3 123.3h2.8v2.8h-2.8zM353.3 125.8h5.3v2.8h-5.3zM415.8 125.8h2.8v2.8h-2.8zM353.3 128.3h2.8v2.8h-2.8zM415.8 128.3h5.3v2.8h-5.3zM353.3 130.8h2.8v2.8h-2.8zM418.3 130.8h20.3v2.8h-20.3zM350.8 133.3h5.3v2.8h-5.3zM418.3 133.3h10.3v2.8h-10.3zM335.8 135.8h2.8v2.8h-2.8zM350.8 135.8h7.8v2.8h-7.8zM418.3 135.8h5.3v2.8h-5.3zM338.3 138.3h2.8v2.8h-2.8zM350.8 138.3h7.8v2.8h-7.8zM340.8 140.8h2.8v2.8h-2.8zM348.3 140.8h10.3v2.8h-10.3zM343.3 143.3h15.3v2.8h-15.3zM365.8 148.3h2.8v2.8h-2.8zM363.3 150.8h5.3v2.8h-5.3z"/><path fill="#ffde00" d="M360.8 98.3h12.8v2.8h-12.8zM375.8 98.3h10.3v2.8h-10.3zM358.3 100.8h5.3v2.8h-5.3zM370.8 100.8h7.8v2.8h-7.8zM385.8 100.8h15.3v2.8h-15.3zM358.3 103.3h2.8v2.8h-2.8zM398.3 103.3h5.3v2.8h-5.3zM355.8 105.8h2.8v2.8h-2.8zM403.3 105.8h5.3v2.8h-5.3zM355.8 108.3h2.8v2.8h-2.8zM405.8 108.3h2.8v2.8h-2.8zM355.8 110.8h2.8v2.8h-2.8zM408.3 110.8h2.8v2.8h-2.8zM355.8 113.3h2.8v2.8h-2.8zM410.8 113.3h2.8v2.8h-2.8zM355.8 115.8h2.8v2.8h-2.8zM413.3 115.8h2.8v2.8h-2.8zM353.3 118.3h2.8v2.8h-2.8zM415.8 118.3h2.8v2.8h-2.8zM353.3 120.8h2.8v2.8h-2.8zM415.8 120.8h2.8v2.8h-2.8zM353.3 123.3h2.8v2.8h-2.8zM415.8 123.3h2.8v2.8h-2.8zM350.8 125.8h2.8v2.8h-2.8zM418.3 125.8h5.3v2.8h-5.3zM430.8 125.8h7.8v2.8h-7.8zM350.8 128.3h2.8v2.8h-2.8zM420.8 128.3h17.8v2.8h-17.8zM348.3 130.8h5.3v2.8h-5.3zM325.8 133.3h15.3v2.8h-15.3zM343.3 133.3h7.8v2.8h-7.8zM338.3 135.8h12.8v2.8h-12.8zM340.8 138.3h10.3v2.8h-10.3zM343.3 140.8h5.3v2.8h-5.3z"/><path fill="#ffc400" d="M360.8 95.8h25.3v2.8h-25.3zM358.3 98.3h2.8v2.8h-2.8zM373.3 98.3h2.8v2.8h-2.8zM385.8 98.3h15.3v2.8h-15.3zM355.8 100.8h2.8v2.8h-2.8zM400.8 100.8h2.8v2.8h-2.8zM355.8 103.3h2.8v2.8h-2.8zM403.3 103.3h5.3v2.8h-5.3zM353.3 105.8h2.8v2.8h-2.8zM408.3 105.8h2.8v2.8h-2.8zM353.3 108.3h2.8v2.8h-2.8zM408.3 108.3h5.3v2.8h-5.3zM353.3 110.8h2.8v2.8h-2.8zM410.8 110.8h2.8v2.8h-2.8zM353.3 113.3h2.8v2.8h-2.8zM413.3 113.3h2.8v2.8h-2.8zM353.3 115.8h2.8v2.8h-2.8zM415.8 115.8h2.8v2.8h-2.8zM350.8 118.3h2.8v2.8h-2.8zM418.3 118.3h2.8v2.8h-2.8zM350.8 120.8h2.8v2.8h-2.8zM418.3 120.8h2.8v2.8h-2.8zM348.3 123.3h5.3v2.8h-5.3zM418.3 123.3h20.3v2.8h-20.3zM345.8 125.8h5.3v2.8h-5.3zM423.3 125.8h7.8v2.8h-7.8zM343.3 128.3h7.8v2.8h-7.8zM325.8 130.8h22.8v2.8h-22.8zM340.8 133.3h2.8v2.8h-2.8z"/><path fill="#ffae00" d="M358.3 78.3h5.3v2.8h-5.3zM358.3 80.8h5.3v2.8h-5.3zM363.3 90.8h7.8v2.8h-7.8zM358.3 93.3h25.3v2.8h-25.3zM355.8 95.8h5.3v2.8h-5.3zM385.8 95.8h15.3v2.8h-15.3zM355.8 98.3h2.8v2.8h-2.8zM400.8 98.3h2.8v2.8h-2.8zM353.3 100.8h2.8v2.8h-2.8zM403.3 100.8h5.3v2.8h-5.3zM353.3 103.3h2.8v2.8h-2.8zM408.3 103.3h2.8v2.8h-2.8zM410.8 105.8h2.8v2.8h-2.8zM350.8 108.3h2.8v2.8h-2.8zM413.3 108.3h2.8v2.8h-2.8zM350.8 110.8h2.8v2.8h-2.8zM413.3 110.8h5.3v2.8h-5.3zM350.8 113.3h2.8v2.8h-2.8zM415.8 113.3h5.3v2.8h-5.3zM350.8 115.8h2.8v2.8h-2.8zM418.3 115.8h2.8v2.8h-2.8zM348.3 118.3h2.8v2.8h-2.8zM420.8 118.3h15.3v2.8h-15.3zM345.8 120.8h5.3v2.8h-5.3zM420.8 120.8h17.8v2.8h-17.8zM343.3 123.3h5.3v2.8h-5.3zM343.3 125.8h2.8v2.8h-2.8zM325.8 128.3h17.8v2.8h-17.8z"/><path fill="#ff9400" d="M358.3 73.3h10.3v2.8h-10.3zM355.8 75.8h12.8v2.8h-12.8zM355.8 78.3h2.8v2.8h-2.8zM363.3 78.3h5.3v2.8h-5.3zM355.8 80.8h2.8v2.8h-2.8zM363.3 80.8h5.3v2.8h-5.3zM355.8 83.3h15.3v2.8h-15.3zM355.8 85.8h15.3v2.8h-15.3zM355.8 88.3h17.8v2.8h-17.8zM355.8 90.8h7.8v2.8h-7.8zM370.8 90.8h12.8v2.8h-12.8zM355.8 93.3h2.8v2.8h-2.8zM383.3 93.3h17.8v2.8h-17.8zM353.3 95.8h2.8v2.8h-2.8zM400.8 95.8h2.8v2.8h-2.8zM353.3 98.3h2.8v2.8h-2.8zM403.3 98.3h2.8v2.8h-2.8zM350.8 100.8h2.8v2.8h-2.8zM408.3 100.8h2.8v2.8h-2.8zM350.8 103.3h2.8v2.8h-2.8zM410.8 103.3h2.8v2.8h-2.8zM350.8 105.8h2.8v2.8h-2.8zM413.3 105.8h2.8v2.8h-2.8zM348.3 108.3h2.8v2.8h-2.8zM415.8 108.3h2.8v2.8h-2.8zM348.3 110.8h2.8v2.8h-2.8zM418.3 110.8h5.3v2.8h-5.3zM348.3 113.3h2.8v2.8h-2.8zM420.8 113.3h5.3v2.8h-5.3zM345.8 115.8h5.3v2.8h-5.3zM420.8 115.8h17.8v2.8h-17.8zM345.8 118.3h2.8v2.8h-2.8zM435.8 118.3h2.8v2.8h-2.8zM343.3 120.8h2.8v2.8h-2.8zM340.8 123.3h2.8v2.8h-2.8zM325.8 125.8h17.8v2.8h-17.8z"/><path fill="#ff7e00" d="M355.8 65.8h17.8v2.8h-17.8zM423.3 65.8h12.8v2.8h-12.8zM355.8 68.3h17.8v2.8h-17.8zM423.3 68.3h5.3v2.8h-5.3zM355.8 70.8h17.8v2.8h-17.8zM420.8 70.8h5.3v2.8h-5.3zM353.3 73.3h5.3v2.8h-5.3zM368.3 73.3h5.3v2.8h-5.3zM418.3 73.3h5.3v2.8h-5.3zM353.3 75.8h2.8v2.8h-2.8zM368.3 75.8h2.8v2.8h-2.8zM415.8 75.8h7.8v2.8h-7.8zM353.3 78.3h2.8v2.8h-2.8zM368.3 78.3h2.8v2.8h-2.8zM413.3 78.3h7.8v2.8h-7.8zM353.3 80.8h2.8v2.8h-2.8zM368.3 80.8h5.3v2.8h-5.3zM353.3 83.3h2.8v2.8h-2.8zM370.8 83.3h2.8v2.8h-2.8zM353.3 85.8h2.8v2.8h-2.8zM370.8 85.8h5.3v2.8h-5.3zM353.3 88.3h2.8v2.8h-2.8zM373.3 88.3h7.8v2.8h-7.8zM353.3 90.8h2.8v2.8h-2.8zM383.3 90.8h20.3v2.8h-20.3zM353.3 93.3h2.8v2.8h-2.8zM400.8 93.3h2.8v2.8h-2.8zM350.8 95.8h2.8v2.8h-2.8zM403.3 95.8h2.8v2.8h-2.8zM350.8 98.3h2.8v2.8h-2.8zM405.8 98.3h2.8v2.8h-2.8zM348.3 105.8h2.8v2.8h-2.8zM415.8 105.8h2.8v2.8h-2.8zM418.3 108.3h5.3v2.8h-5.3zM345.8 110.8h2.8v2.8h-2.8zM423.3 110.8h10.3v2.8h-10.3zM345.8 113.3h2.8v2.8h-2.8zM425.8 113.3h12.8v2.8h-12.8zM343.3 115.8h2.8v2.8h-2.8zM340.8 118.3h5.3v2.8h-5.3zM338.3 120.8h5.3v2.8h-5.3zM325.8 123.3h15.3v2.8h-15.3z"/><path fill="#ff6800" d="M350.8 65.8h5.3v2.8h-5.3zM373.3 65.8h2.8v2.8h-2.8zM420.8 65.8h2.8v2.8h-2.8zM435.8 65.8h2.8v2.8h-2.8zM350.8 68.3h5.3v2.8h-5.3zM373.3 68.3h2.8v2.8h-2.8zM418.3 68.3h5.3v2.8h-5.3zM428.3 68.3h10.3v2.8h-10.3zM350.8 70.8h5.3v2.8h-5.3zM373.3 70.8h2.8v2.8h-2.8zM418.3 70.8h2.8v2.8h-2.8zM425.8 70.8h5.3v2.8h-5.3zM350.8 73.3h2.8v2.8h-2.8zM415.8 73.3h2.8v2.8h-2.8zM423.3 73.3h5.3v2.8h-5.3zM350.8 75.8h2.8v2.8h-2.8zM370.8 75.8h2.8v2.8h-2.8zM410.8 75.8h5.3v2.8h-5.3zM423.3 75.8h2.8v2.8h-2.8zM350.8 78.3h2.8v2.8h-2.8zM370.8 78.3h2.8v2.8h-2.8zM408.3 78.3h5.3v2.8h-5.3zM420.8 78.3h2.8v2.8h-2.8zM350.8 80.8h2.8v2.8h-2.8zM373.3 80.8h2.8v2.8h-2.8zM408.3 80.8h12.8v2.8h-12.8zM350.8 83.3h2.8v2.8h-2.8zM373.3 83.3h2.8v2.8h-2.8zM350.8 85.8h2.8v2.8h-2.8zM375.8 85.8h2.8v2.8h-2.8zM350.8 88.3h2.8v2.8h-2.8zM380.8 88.3h7.8v2.8h-7.8zM393.3 88.3h10.3v2.8h-10.3zM350.8 90.8h2.8v2.8h-2.8zM350.8 93.3h2.8v2.8h-2.8zM403.3 93.3h2.8v2.8h-2.8zM348.3 95.8h2.8v2.8h-2.8zM405.8 95.8h2.8v2.8h-2.8zM348.3 98.3h2.8v2.8h-2.8zM408.3 98.3h2.8v2.8h-2.8zM348.3 100.8h2.8v2.8h-2.8zM410.8 100.8h2.8v2.8h-2.8zM348.3 103.3h2.8v2.8h-2.8zM413.3 103.3h2.8v2.8h-2.8zM345.8 105.8h2.8v2.8h-2.8zM418.3 105.8h2.8v2.8h-2.8zM430.8 105.8h7.8v2.8h-7.8zM345.8 108.3h2.8v2.8h-2.8zM423.3 108.3h15.3v2.8h-15.3zM343.3 110.8h2.8v2.8h-2.8zM433.3 110.8h5.3v2.8h-5.3zM343.3 113.3h2.8v2.8h-2.8zM340.8 115.8h2.8v2.8h-2.8zM338.3 118.3h2.8v2.8h-2.8zM325.8 120.8h12.8v2.8h-12.8z"/><path fill="#ff4e00" d="M348.3 65.8h2.8v2.8h-2.8zM375.8 65.8h2.8v2.8h-2.8zM418.3 65.8h2.8v2.8h-2.8zM348.3 68.3h2.8v2.8h-2.8zM375.8 68.3h2.8v2.8h-2.8zM348.3 70.8h2.8v2.8h-2.8zM415.8 70.8h2.8v2.8h-2.8zM430.8 70.8h7.8v2.8h-7.8zM348.3 73.3h2.8v2.8h-2.8zM373.3 73.3h2.8v2.8h-2.8zM413.3 73.3h2.8v2.8h-2.8zM428.3 73.3h2.8v2.8h-2.8zM348.3 75.8h2.8v2.8h-2.8zM373.3 75.8h2.8v2.8h-2.8zM408.3 75.8h2.8v2.8h-2.8zM425.8 75.8h2.8v2.8h-2.8zM348.3 78.3h2.8v2.8h-2.8zM373.3 78.3h2.8v2.8h-2.8zM405.8 78.3h2.8v2.8h-2.8zM423.3 78.3h2.8v2.8h-2.8zM348.3 80.8h2.8v2.8h-2.8zM375.8 80.8h2.8v2.8h-2.8zM405.8 80.8h2.8v2.8h-2.8zM420.8 80.8h2.8v2.8h-2.8zM348.3 83.3h2.8v2.8h-2.8zM375.8 83.3h2.8v2.8h-2.8zM405.8 83.3h15.3v2.8h-15.3zM378.3 85.8h7.8v2.8h-7.8zM395.8 85.8h10.3v2.8h-10.3zM388.3 88.3h5.3v2.8h-5.3zM403.3 88.3h2.8v2.8h-2.8zM348.3 90.8h2.8v2.8h-2.8zM403.3 90.8h2.8v2.8h-2.8zM348.3 93.3h2.8v2.8h-2.8zM405.8 93.3h2.8v2.8h-2.8zM408.3 95.8h2.8v2.8h-2.8zM345.8 98.3h2.8v2.8h-2.8zM410.8 98.3h2.8v2.8h-2.8zM345.8 100.8h2.8v2.8h-2.8zM413.3 100.8h2.8v2.8h-2.8zM345.8 103.3h2.8v2.8h-2.8zM415.8 103.3h2.8v2.8h-2.8zM428.3 103.3h10.3v2.8h-10.3zM343.3 105.8h2.8v2.8h-2.8zM420.8 105.8h10.3v2.8h-10.3zM343.3 108.3h2.8v2.8h-2.8zM340.8 110.8h2.8v2.8h-2.8zM340.8 113.3h2.8v2.8h-2.8zM335.8 115.8h5.3v2.8h-5.3zM325.8 118.3h12.8v2.8h-12.8z"/><path fill="#ff3800" d="M415.8 65.8h2.8v2.8h-2.8zM415.8 68.3h2.8v2.8h-2.8zM375.8 70.8h2.8v2.8h-2.8zM413.3 70.8h2.8v2.8h-2.8zM375.8 73.3h2.8v2.8h-2.8zM408.3 73.3h5.3v2.8h-5.3zM430.8 73.3h7.8v2.8h-7.8zM375.8 75.8h2.8v2.8h-2.8zM405.8 75.8h2.8v2.8h-2.8zM428.3 75.8h2.8v2.8h-2.8zM375.8 78.3h2.8v2.8h-2.8zM403.3 78.3h2.8v2.8h-2.8zM425.8 78.3h2.8v2.8h-2.8zM403.3 80.8h2.8v2.8h-2.8zM423.3 80.8h2.8v2.8h-2.8zM378.3 83.3h5.3v2.8h-5.3zM398.3 83.3h7.8v2.8h-7.8zM420.8 83.3h2.8v2.8h-2.8zM348.3 85.8h2.8v2.8h-2.8zM385.8 85.8h10.3v2.8h-10.3zM405.8 85.8h12.8v2.8h-12.8zM348.3 88.3h2.8v2.8h-2.8zM405.8 88.3h2.8v2.8h-2.8zM405.8 90.8h2.8v2.8h-2.8zM345.8 93.3h2.8v2.8h-2.8zM345.8 95.8h2.8v2.8h-2.8zM410.8 95.8h2.8v2.8h-2.8zM413.3 98.3h2.8v2.8h-2.8zM435.8 98.3h2.8v2.8h-2.8zM343.3 100.8h2.8v2.8h-2.8zM415.8 100.8h2.8v2.8h-2.8zM428.3 100.8h10.3v2.8h-10.3zM343.3 103.3h2.8v2.8h-2.8zM418.3 103.3h10.3v2.8h-10.3zM340.8 105.8h2.8v2.8h-2.8zM340.8 108.3h2.8v2.8h-2.8zM338.3 110.8h2.8v2.8h-2.8zM335.8 113.3h5.3v2.8h-5.3zM325.8 115.8h10.3v2.8h-10.3z"/><path fill="#ff1e00" d="M345.8 65.8h2.8v2.8h-2.8zM378.3 65.8h2.8v2.8h-2.8zM345.8 68.3h2.8v2.8h-2.8zM378.3 68.3h2.8v2.8h-2.8zM413.3 68.3h2.8v2.8h-2.8zM345.8 70.8h2.8v2.8h-2.8zM378.3 70.8h2.8v2.8h-2.8zM405.8 70.8h7.8v2.8h-7.8zM345.8 73.3h2.8v2.8h-2.8zM378.3 73.3h2.8v2.8h-2.8zM403.3 73.3h5.3v2.8h-5.3zM345.8 75.8h2.8v2.8h-2.8zM378.3 75.8h2.8v2.8h-2.8zM403.3 75.8h2.8v2.8h-2.8zM430.8 75.8h2.8v2.8h-2.8zM345.8 78.3h2.8v2.8h-2.8zM378.3 78.3h2.8v2.8h-2.8zM400.8 78.3h2.8v2.8h-2.8zM428.3 78.3h2.8v2.8h-2.8zM345.8 80.8h2.8v2.8h-2.8zM378.3 80.8h5.3v2.8h-5.3zM398.3 80.8h5.3v2.8h-5.3zM425.8 80.8h2.8v2.8h-2.8zM345.8 83.3h2.8v2.8h-2.8zM383.3 83.3h15.3v2.8h-15.3zM423.3 83.3h2.8v2.8h-2.8zM345.8 85.8h2.8v2.8h-2.8zM418.3 85.8h5.3v2.8h-5.3zM345.8 88.3h2.8v2.8h-2.8zM408.3 88.3h5.3v2.8h-5.3zM345.8 90.8h2.8v2.8h-2.8zM408.3 90.8h2.8v2.8h-2.8zM408.3 93.3h2.8v2.8h-2.8zM413.3 95.8h2.8v2.8h-2.8zM435.8 95.8h2.8v2.8h-2.8zM343.3 98.3h2.8v2.8h-2.8zM415.8 98.3h2.8v2.8h-2.8zM425.8 98.3h10.3v2.8h-10.3zM418.3 100.8h10.3v2.8h-10.3zM340.8 103.3h2.8v2.8h-2.8zM338.3 105.8h2.8v2.8h-2.8zM335.8 108.3h5.3v2.8h-5.3zM333.3 110.8h5.3v2.8h-5.3zM325.8 113.3h10.3v2.8h-10.3z"/><path fill="#f10800" d="M380.8 65.8h5.3v2.8h-5.3zM400.8 65.8h7.8v2.8h-7.8zM413.3 65.8h2.8v2.8h-2.8zM343.3 68.3h2.8v2.8h-2.8zM380.8 68.3h2.8v2.8h-2.8zM400.8 68.3h12.8v2.8h-12.8zM343.3 70.8h2.8v2.8h-2.8zM380.8 70.8h2.8v2.8h-2.8zM400.8 70.8h5.3v2.8h-5.3zM343.3 73.3h2.8v2.8h-2.8zM380.8 73.3h2.8v2.8h-2.8zM400.8 73.3h2.8v2.8h-2.8zM343.3 75.8h2.8v2.8h-2.8zM380.8 75.8h2.8v2.8h-2.8zM398.3 75.8h5.3v2.8h-5.3zM433.3 75.8h5.3v2.8h-5.3zM343.3 78.3h2.8v2.8h-2.8zM380.8 78.3h2.8v2.8h-2.8zM398.3 78.3h2.8v2.8h-2.8zM430.8 78.3h2.8v2.8h-2.8zM343.3 80.8h2.8v2.8h-2.8zM383.3 80.8h5.3v2.8h-5.3zM393.3 80.8h5.3v2.8h-5.3zM428.3 80.8h2.8v2.8h-2.8zM343.3 83.3h2.8v2.8h-2.8zM425.8 83.3h2.8v2.8h-2.8zM423.3 85.8h5.3v2.8h-5.3zM413.3 88.3h12.8v2.8h-12.8zM410.8 90.8h2.8v2.8h-2.8zM343.3 93.3h2.8v2.8h-2.8zM410.8 93.3h5.3v2.8h-5.3zM433.3 93.3h5.3v2.8h-5.3zM343.3 95.8h2.8v2.8h-2.8zM415.8 95.8h2.8v2.8h-2.8zM425.8 95.8h10.3v2.8h-10.3zM340.8 98.3h2.8v2.8h-2.8zM418.3 98.3h7.8v2.8h-7.8zM340.8 100.8h2.8v2.8h-2.8zM338.3 103.3h2.8v2.8h-2.8zM335.8 105.8h2.8v2.8h-2.8zM333.3 108.3h2.8v2.8h-2.8zM325.8 110.8h7.8v2.8h-7.8z"/><path fill="#d60000" d="M343.3 65.8h2.8v2.8h-2.8zM385.8 65.8h15.3v2.8h-15.3zM408.3 65.8h5.3v2.8h-5.3zM383.3 68.3h5.3v2.8h-5.3zM393.3 68.3h7.8v2.8h-7.8zM383.3 70.8h5.3v2.8h-5.3zM395.8 70.8h5.3v2.8h-5.3zM383.3 73.3h2.8v2.8h-2.8zM395.8 73.3h5.3v2.8h-5.3zM383.3 75.8h5.3v2.8h-5.3zM395.8 75.8h2.8v2.8h-2.8zM383.3 78.3h15.3v2.8h-15.3zM433.3 78.3h5.3v2.8h-5.3zM388.3 80.8h5.3v2.8h-5.3zM430.8 80.8h7.8v2.8h-7.8zM428.3 83.3h5.3v2.8h-5.3zM343.3 85.8h2.8v2.8h-2.8zM428.3 85.8h2.8v2.8h-2.8zM343.3 88.3h2.8v2.8h-2.8zM425.8 88.3h7.8v2.8h-7.8zM343.3 90.8h2.8v2.8h-2.8zM413.3 90.8h25.3v2.8h-25.3zM415.8 93.3h17.8v2.8h-17.8zM340.8 95.8h2.8v2.8h-2.8zM418.3 95.8h7.8v2.8h-7.8zM338.3 98.3h2.8v2.8h-2.8zM338.3 100.8h2.8v2.8h-2.8zM335.8 103.3h2.8v2.8h-2.8zM333.3 105.8h2.8v2.8h-2.8zM325.8 108.3h7.8v2.8h-7.8z"/><path fill="#b60000" d="M340.8 65.8h2.8v2.8h-2.8zM340.8 68.3h2.8v2.8h-2.8zM388.3 68.3h5.3v2.8h-5.3zM340.8 70.8h2.8v2.8h-2.8zM388.3 70.8h7.8v2.8h-7.8zM340.8 73.3h2.8v2.8h-2.8zM385.8 73.3h10.3v2.8h-10.3zM325.8 75.8h2.8v2.8h-2.8zM340.8 75.8h2.8v2.8h-2.8zM388.3 75.8h7.8v2.8h-7.8zM325.8 78.3h5.3v2.8h-5.3zM340.8 78.3h2.8v2.8h-2.8zM325.8 80.8h5.3v2.8h-5.3zM340.8 80.8h2.8v2.8h-2.8zM325.8 83.3h2.8v2.8h-2.8zM340.8 83.3h2.8v2.8h-2.8zM433.3 83.3h5.3v2.8h-5.3zM340.8 85.8h2.8v2.8h-2.8zM430.8 85.8h7.8v2.8h-7.8zM340.8 88.3h2.8v2.8h-2.8zM433.3 88.3h5.3v2.8h-5.3zM340.8 90.8h2.8v2.8h-2.8zM340.8 93.3h2.8v2.8h-2.8zM338.3 95.8h2.8v2.8h-2.8zM333.3 98.3h5.3v2.8h-5.3zM330.8 100.8h7.8v2.8h-7.8zM330.8 103.3h5.3v2.8h-5.3zM325.8 105.8h7.8v2.8h-7.8z"/><path fill="#9b0000" d="M325.8 65.8h10.3v2.8h-10.3zM338.3 65.8h2.8v2.8h-2.8zM325.8 68.3h15.3v2.8h-15.3zM325.8 70.8h15.3v2.8h-15.3zM325.8 73.3h15.3v2.8h-15.3zM328.3 75.8h12.8v2.8h-12.8zM330.8 78.3h10.3v2.8h-10.3zM330.8 80.8h10.3v2.8h-10.3zM328.3 83.3h12.8v2.8h-12.8zM325.8 85.8h15.3v2.8h-15.3zM325.8 88.3h15.3v2.8h-15.3zM325.8 90.8h15.3v2.8h-15.3zM325.8 93.3h15.3v2.8h-15.3zM325.8 95.8h12.8v2.8h-12.8zM325.8 98.3h7.8v2.8h-7.8zM325.8 100.8h5.3v2.8h-5.3zM325.8 103.3h5.3v2.8h-5.3z"/><path fill="#800000" d="M335.8 65.8h2.8v2.8h-2.8z"/></g></g><g clip-path="url(#t2h-c)"><g filter="url(#t2-bb)"><polygon points="330.8,129.8 338.0,145.6 345.2,151.2 352.4,154.9 359.7,157.4 366.9,159.1 374.1,160.1 381.3,160.4 388.5,160.1 395.7,159.1 402.9,157.4 410.2,154.9 417.4,151.2 424.6,145.6 431.8,129.8 431.8,123.2 424.6,139.0 417.4,144.6 410.2,148.3 402.9,150.8 395.7,152.5 388.5,153.5 381.3,153.8 374.1,153.5 366.9,152.5 359.7,150.8 352.4,148.3 345.2,144.6 338.0,139.0 330.8,123.2" fill="#e6f024"/><polygon points="330.8,140.0 338.0,155.8 345.2,161.4 352.4,165.1 359.7,167.6 366.9,169.3 374.1,170.3 381.3,170.6 388.5,170.3 395.7,169.3 402.9,167.6 410.2,165.1 417.4,161.4 424.6,155.8 431.8,140.0 431.8,129.6 424.6,145.4 417.4,151.0 410.2,154.7 402.9,157.2 395.7,158.9 388.5,159.9 381.3,160.2 374.1,159.9 366.9,158.9 359.7,157.2 352.4,154.7 345.2,151.0 338.0,145.4 330.8,129.6" fill="#a0f860"/><polygon points="330.8,146.0 338.0,161.8 345.2,167.4 352.4,171.1 359.7,173.6 366.9,175.3 374.1,176.3 381.3,176.6 388.5,176.3 395.7,175.3 402.9,173.6 410.2,171.1 417.4,167.4 424.6,161.8 431.8,146.0 431.8,139.8 424.6,155.6 417.4,161.2 410.2,164.9 402.9,167.4 395.7,169.1 388.5,170.1 381.3,170.4 374.1,170.1 366.9,169.1 359.7,167.4 352.4,164.9 345.2,161.2 338.0,155.6 330.8,139.8" fill="#40f0c0"/></g></g><g font-size="2.8" fill="#333" text-anchor="end"><text x="298.4" y="97.4">4</text><text x="299.2" y="106.8">3</text><text x="300.0" y="116.1">2</text><text x="300.8" y="125.5">1</text><text x="301.6" y="134.8">0</text><text x="302.4" y="144.2">−1</text></g><text transform="translate(318.3,169.4) rotate(40)" font-size="4.6" font-weight="bold" text-anchor="middle" textLength="16" lengthAdjust="spacingAndGlyphs" fill="#111" fill-opacity="0.85">Temporal</text><text transform="translate(340.7,186.8) rotate(40)" font-size="4.6" font-weight="bold" text-anchor="middle" textLength="6" lengthAdjust="spacingAndGlyphs" fill="#111" fill-opacity="0.85">OD</text><text transform="translate(359.5,201.6) rotate(40)" font-size="4.6" font-weight="bold" text-anchor="middle" textLength="10" lengthAdjust="spacingAndGlyphs" fill="#111" fill-opacity="0.85">Nasal</text><text transform="translate(403.9,199.8) rotate(-40)" font-size="4.6" font-weight="bold" text-anchor="middle" textLength="14" lengthAdjust="spacingAndGlyphs" fill="#111" fill-opacity="0.85">Inferior</text><text transform="translate(442.9,169.4) rotate(-40)" font-size="4.6" font-weight="bold" text-anchor="middle" textLength="16" lengthAdjust="spacingAndGlyphs" fill="#111" fill-opacity="0.85">Superior</text><g font-size="2.6" fill="#444" text-anchor="middle"><text x="313.0" y="160.3">−40</text><text x="392.7" y="202.3">−40</text><text x="327.2" y="170.8">−20</text><text x="406.8" y="191.8">−20</text><text x="341.4" y="181.3">0</text><text x="421.0" y="181.2">0</text><text x="355.5" y="191.9">20</text><text x="435.2" y="170.6">20</text><text x="369.7" y="202.4">40</text><text x="449.3" y="160.1">40</text></g><rect x="465.5" y="54.1" width="9.6" height="134.9" fill="url(#jetbar)"/><path d="M475.1 54.10h1.5" stroke="#222" stroke-width="0.4"/><text x="477.3" y="55.09" font-size="3.0" fill="#222">6.0</text><path d="M475.1 65.34h1.5" stroke="#222" stroke-width="0.4"/><text x="477.3" y="66.33" font-size="3.0" fill="#222">5.0</text><path d="M475.1 76.58h1.5" stroke="#222" stroke-width="0.4"/><text x="477.3" y="77.57" font-size="3.0" fill="#222">4.0</text><path d="M475.1 87.83h1.5" stroke="#222" stroke-width="0.4"/><text x="477.3" y="88.81" font-size="3.0" fill="#222">3.0</text><path d="M475.1 99.07h1.5" stroke="#222" stroke-width="0.4"/><text x="477.3" y="100.06" font-size="3.0" fill="#222">2.0</text><path d="M475.1 110.31h1.5" stroke="#222" stroke-width="0.4"/><text x="477.3" y="111.30" font-size="3.0" fill="#222">1.0</text><path d="M475.1 121.55h1.5" stroke="#222" stroke-width="0.4"/><text x="477.3" y="122.54" font-size="3.0" fill="#222">0.0</text><path d="M475.1 132.79h1.5" stroke="#222" stroke-width="0.4"/><text x="477.3" y="133.78" font-size="3.0" fill="#222">-1.0</text><path d="M475.1 144.03h1.5" stroke="#222" stroke-width="0.4"/><text x="477.3" y="145.02" font-size="3.0" fill="#222">-2.0</text><path d="M475.1 155.28h1.5" stroke="#222" stroke-width="0.4"/><text x="477.3" y="156.27" font-size="3.0" fill="#222">-3.0</text><path d="M475.1 166.52h1.5" stroke="#222" stroke-width="0.4"/><text x="477.3" y="167.51" font-size="3.0" fill="#222">-4.0</text><path d="M475.1 177.76h1.5" stroke="#222" stroke-width="0.4"/><text x="477.3" y="178.75" font-size="3.0" fill="#222">-5.0</text><path d="M475.1 189.00h1.5" stroke="#222" stroke-width="0.4"/><text x="477.3" y="189.99" font-size="3.0" fill="#222">-6.0</text><text x="296.2" y="62.0" font-size="5.6" fill="#3434cc" fill-opacity="0.85">WD:21.8</text><text x="296.2" y="67.3" font-size="5.6" fill="#3434cc" fill-opacity="0.85">V1.5.2</text><text x="296.2" y="72.6" font-size="5.6" fill="#3434cc" fill-opacity="0.85">F:C</text><text x="296.2" y="182.8" font-size="5.6" fill="#3434cc" fill-opacity="0.85">91%</text></svg><h3 style="left:57.93px;top:3.33px;font-size:11.4px;line-height:13.10px;letter-spacing:-0.319px">OD::Terrain::Topography-A</h3></section>
<section class="panel" id="p3" style="left:523px;top:6px;width:246px;height:219px"><svg width="244" height="217" viewBox="524 7 244 217"><defs><filter id="t3-bb" x="-10%" y="-30%" width="120%" height="160%"><feGaussianBlur stdDeviation="0.8"/></filter></defs><path d="M636.0 38.8L556.2 86.4L561.5 150.3L636.1 95.0Z" fill="#f5f5f5"/><path d="M636.0 38.8L715.0 86.8L710.8 150.0L636.1 95.0Z" fill="#f1f1f1"/><path d="M636.1 95.0L561.5 150.3L636.2 205.6L710.8 150.0Z" fill="#f8f8f8"/><path d="M623.7 104.2L698.4 159.3M648.5 104.2L574.0 159.5M622.7 46.7L623.7 104.2M649.2 46.8L648.5 104.2M636.0 48.2L557.1 97.1M636.0 48.2L714.3 97.3M611.2 113.4L685.9 168.5M661.0 113.3L586.4 168.7M609.4 54.7L611.2 113.4M662.3 54.8L661.0 113.3M636.0 57.5L558.0 107.7M636.0 57.5L713.6 107.9M598.8 122.7L673.5 177.8M673.5 122.5L598.9 177.9M596.1 62.6L598.8 122.7M675.5 62.8L673.5 122.5M636.0 66.9L558.9 118.4M636.0 66.9L712.9 118.4M586.4 131.9L661.1 187.1M685.9 131.7L611.3 187.2M582.8 70.5L586.4 131.9M688.7 70.8L685.9 131.7M636.1 76.3L559.7 129.0M636.1 76.3L712.2 128.9M573.9 141.1L648.6 196.3M698.4 140.8L623.8 196.4M569.5 78.5L573.9 141.1M701.8 78.8L698.4 140.8M636.1 85.6L560.6 139.7M636.1 85.6L711.5 139.5" stroke="#fff" stroke-opacity="0.9" stroke-width="0.45" fill="none"/><path d="M636.0 38.8L636.1 95.0M636.1 95.0L561.5 150.3M636.1 95.0L710.8 150.0" stroke="#fff" stroke-width="0.6" fill="none"/><path d="M556.2 86.4L561.5 150.3L636.2 205.6L710.8 150.0" stroke="#bbb" stroke-width="0.4" fill="none"/><path d="M556.2 86.4L561.5 150.3" stroke="#333" stroke-width="0.5" fill="none"/><defs><filter id="t3h-b" filterUnits="userSpaceOnUse" x="575.8" y="60.8" width="120.4" height="126.4"><feGaussianBlur stdDeviation="1.4"/></filter><clipPath id="t3h-c"><path d="M588.8 115.5C589.6 114.8 590.8 114.4 592.7 114.0C594.7 113.6 598.7 113.4 600.6 113.2C602.6 112.9 603.2 113.3 604.6 112.4C605.9 111.5 606.5 109.9 608.5 107.7C610.5 105.4 613.2 101.1 616.4 99.0C619.5 96.9 623.5 95.8 627.4 95.1C631.3 94.4 635.8 94.4 640.0 94.8C644.2 95.1 648.9 96.5 652.6 97.4C656.3 98.4 659.2 99.5 662.0 100.6C664.9 101.6 667.3 103.5 669.9 103.7C672.5 104.0 675.4 102.8 677.8 102.2C680.1 101.5 682.9 98.6 684.1 99.8C685.3 101.0 684.6 105.0 684.9 109.2C685.1 113.4 685.5 119.7 685.7 125.0C685.8 130.2 686.2 136.3 685.7 140.7C685.1 145.2 684.3 148.1 682.5 151.8C680.7 155.4 678.0 159.6 674.6 162.8C671.2 165.9 666.8 168.7 662.0 170.7C657.3 172.6 650.8 173.8 646.3 174.6C641.8 175.4 639.5 175.6 635.3 175.4C631.1 175.1 625.8 174.3 621.1 173.0C616.4 171.7 611.4 170.0 606.9 167.5C602.5 165.0 597.5 161.5 594.3 158.1C591.2 154.7 589.2 151.8 588.0 147.0C586.8 142.3 587.2 134.4 587.2 129.7C587.2 125.0 587.8 121.1 588.0 118.7C588.3 116.3 588.0 116.3 588.8 115.5Z"/></clipPath></defs><g clip-path="url(#t3h-c)"><g filter="url(#t3h-b)" shape-rendering="crispEdges"><path fill="#66ff90" d="M623.3 118.3h15.3v2.8h-15.3zM620.8 120.8h20.3v2.8h-20.3zM623.3 123.3h15.3v2.8h-15.3zM628.3 125.8h7.8v2.8h-7.8z"/><path fill="#7dff7a" d="M620.8 115.8h17.8v2.8h-17.8zM618.3 118.3h5.3v2.8h-5.3zM638.3 118.3h5.3v2.8h-5.3zM618.3 120.8h2.8v2.8h-2.8zM640.8 120.8h2.8v2.8h-2.8zM618.3 123.3h5.3v2.8h-5.3zM638.3 123.3h7.8v2.8h-7.8zM620.8 125.8h7.8v2.8h-7.8zM635.8 125.8h7.8v2.8h-7.8zM625.8 128.3h15.3v2.8h-15.3z"/><path fill="#90ff66" d="M623.3 110.8h12.8v2.8h-12.8zM620.8 113.3h20.3v2.8h-20.3zM618.3 115.8h2.8v2.8h-2.8zM638.3 115.8h7.8v2.8h-7.8zM615.8 118.3h2.8v2.8h-2.8zM643.3 118.3h2.8v2.8h-2.8zM615.8 120.8h2.8v2.8h-2.8zM643.3 120.8h5.3v2.8h-5.3zM615.8 123.3h2.8v2.8h-2.8zM645.8 123.3h2.8v2.8h-2.8zM618.3 125.8h2.8v2.8h-2.8zM643.3 125.8h5.3v2.8h-5.3zM623.3 128.3h2.8v2.8h-2.8zM640.8 128.3h7.8v2.8h-7.8zM625.8 130.8h22.8v2.8h-22.8zM635.8 133.3h7.8v2.8h-7.8zM615.8 178.3h7.8v2.8h-7.8zM615.8 180.8h7.8v2.8h-7.8z"/><path fill="#a4ff53" d="M595.8 73.3h5.3v2.8h-5.3zM595.8 75.8h5.3v2.8h-5.3zM595.8 78.3h5.3v2.8h-5.3zM618.3 103.3h2.8v2.8h-2.8zM633.3 103.3h7.8v2.8h-7.8zM615.8 105.8h7.8v2.8h-7.8zM625.8 105.8h15.3v2.8h-15.3zM615.8 108.3h25.3v2.8h-25.3zM615.8 110.8h7.8v2.8h-7.8zM635.8 110.8h10.3v2.8h-10.3zM615.8 113.3h5.3v2.8h-5.3zM640.8 113.3h7.8v2.8h-7.8zM615.8 115.8h2.8v2.8h-2.8zM645.8 115.8h2.8v2.8h-2.8zM645.8 118.3h5.3v2.8h-5.3zM648.3 120.8h2.8v2.8h-2.8zM648.3 123.3h2.8v2.8h-2.8zM615.8 125.8h2.8v2.8h-2.8zM648.3 125.8h5.3v2.8h-5.3zM618.3 128.3h5.3v2.8h-5.3zM648.3 128.3h5.3v2.8h-5.3zM623.3 130.8h2.8v2.8h-2.8zM648.3 130.8h2.8v2.8h-2.8zM628.3 133.3h7.8v2.8h-7.8zM643.3 133.3h7.8v2.8h-7.8zM638.3 135.8h7.8v2.8h-7.8zM613.3 175.8h55.3v2.8h-55.3zM613.3 178.3h2.8v2.8h-2.8zM623.3 178.3h47.8v2.8h-47.8zM613.3 180.8h2.8v2.8h-2.8zM623.3 180.8h50.3v2.8h-50.3zM690.8 180.8h2.8v2.8h-2.8z"/><path fill="#baff3c" d="M595.8 65.8h5.3v2.8h-5.3zM640.8 65.8h5.3v2.8h-5.3zM660.8 65.8h2.8v2.8h-2.8zM595.8 68.3h7.8v2.8h-7.8zM660.8 68.3h2.8v2.8h-2.8zM593.3 70.8h10.3v2.8h-10.3zM660.8 70.8h2.8v2.8h-2.8zM593.3 73.3h2.8v2.8h-2.8zM600.8 73.3h2.8v2.8h-2.8zM593.3 75.8h2.8v2.8h-2.8zM600.8 75.8h5.3v2.8h-5.3zM593.3 78.3h2.8v2.8h-2.8zM600.8 78.3h5.3v2.8h-5.3zM595.8 80.8h12.8v2.8h-12.8zM600.8 83.3h12.8v2.8h-12.8zM603.3 85.8h10.3v2.8h-10.3zM605.8 88.3h7.8v2.8h-7.8zM605.8 90.8h7.8v2.8h-7.8zM610.8 93.3h2.8v2.8h-2.8zM615.8 98.3h7.8v2.8h-7.8zM635.8 98.3h7.8v2.8h-7.8zM615.8 100.8h40.3v2.8h-40.3zM615.8 103.3h2.8v2.8h-2.8zM620.8 103.3h12.8v2.8h-12.8zM640.8 103.3h15.3v2.8h-15.3zM613.3 105.8h2.8v2.8h-2.8zM623.3 105.8h2.8v2.8h-2.8zM640.8 105.8h12.8v2.8h-12.8zM613.3 108.3h2.8v2.8h-2.8zM640.8 108.3h12.8v2.8h-12.8zM613.3 110.8h2.8v2.8h-2.8zM645.8 110.8h7.8v2.8h-7.8zM613.3 113.3h2.8v2.8h-2.8zM648.3 113.3h5.3v2.8h-5.3zM613.3 115.8h2.8v2.8h-2.8zM648.3 115.8h5.3v2.8h-5.3zM613.3 118.3h2.8v2.8h-2.8zM650.8 118.3h2.8v2.8h-2.8zM613.3 120.8h2.8v2.8h-2.8zM650.8 120.8h2.8v2.8h-2.8zM613.3 123.3h2.8v2.8h-2.8zM650.8 123.3h2.8v2.8h-2.8zM613.3 125.8h2.8v2.8h-2.8zM615.8 128.3h2.8v2.8h-2.8zM653.3 128.3h2.8v2.8h-2.8zM620.8 130.8h2.8v2.8h-2.8zM650.8 130.8h5.3v2.8h-5.3zM623.3 133.3h5.3v2.8h-5.3zM650.8 133.3h5.3v2.8h-5.3zM628.3 135.8h10.3v2.8h-10.3zM645.8 135.8h7.8v2.8h-7.8zM673.3 160.8h5.3v2.8h-5.3zM673.3 163.3h20.3v2.8h-20.3zM670.8 165.8h22.8v2.8h-22.8zM670.8 168.3h22.8v2.8h-22.8zM640.8 170.8h20.3v2.8h-20.3zM668.3 170.8h25.3v2.8h-25.3zM613.3 173.3h80.3v2.8h-80.3zM610.8 175.8h2.8v2.8h-2.8zM668.3 175.8h7.8v2.8h-7.8zM680.8 175.8h12.8v2.8h-12.8zM610.8 178.3h2.8v2.8h-2.8zM670.8 178.3h5.3v2.8h-5.3zM683.3 178.3h10.3v2.8h-10.3zM580.8 180.8h2.8v2.8h-2.8zM610.8 180.8h2.8v2.8h-2.8zM673.3 180.8h2.8v2.8h-2.8zM685.8 180.8h5.3v2.8h-5.3z"/><path fill="#ceff29" d="M593.3 65.8h2.8v2.8h-2.8zM600.8 65.8h40.3v2.8h-40.3zM645.8 65.8h15.3v2.8h-15.3zM663.3 65.8h5.3v2.8h-5.3zM593.3 68.3h2.8v2.8h-2.8zM603.3 68.3h57.8v2.8h-57.8zM663.3 68.3h5.3v2.8h-5.3zM603.3 70.8h57.8v2.8h-57.8zM663.3 70.8h5.3v2.8h-5.3zM603.3 73.3h65.3v2.8h-65.3zM605.8 75.8h62.8v2.8h-62.8zM605.8 78.3h60.3v2.8h-60.3zM608.3 80.8h57.8v2.8h-57.8zM598.3 83.3h2.8v2.8h-2.8zM613.3 83.3h52.8v2.8h-52.8zM600.8 85.8h2.8v2.8h-2.8zM613.3 85.8h52.8v2.8h-52.8zM603.3 88.3h2.8v2.8h-2.8zM613.3 88.3h52.8v2.8h-52.8zM603.3 90.8h2.8v2.8h-2.8zM613.3 90.8h52.8v2.8h-52.8zM605.8 93.3h5.3v2.8h-5.3zM613.3 93.3h52.8v2.8h-52.8zM608.3 95.8h57.8v2.8h-57.8zM610.8 98.3h5.3v2.8h-5.3zM623.3 98.3h12.8v2.8h-12.8zM643.3 98.3h22.8v2.8h-22.8zM613.3 100.8h2.8v2.8h-2.8zM655.8 100.8h10.3v2.8h-10.3zM613.3 103.3h2.8v2.8h-2.8zM655.8 103.3h10.3v2.8h-10.3zM653.3 105.8h10.3v2.8h-10.3zM610.8 108.3h2.8v2.8h-2.8zM653.3 108.3h7.8v2.8h-7.8zM610.8 110.8h2.8v2.8h-2.8zM653.3 110.8h5.3v2.8h-5.3zM610.8 113.3h2.8v2.8h-2.8zM653.3 113.3h5.3v2.8h-5.3zM610.8 115.8h2.8v2.8h-2.8zM653.3 115.8h5.3v2.8h-5.3zM610.8 118.3h2.8v2.8h-2.8zM653.3 118.3h5.3v2.8h-5.3zM610.8 120.8h2.8v2.8h-2.8zM653.3 120.8h5.3v2.8h-5.3zM610.8 123.3h2.8v2.8h-2.8zM653.3 123.3h5.3v2.8h-5.3zM653.3 125.8h5.3v2.8h-5.3zM613.3 128.3h2.8v2.8h-2.8zM655.8 128.3h5.3v2.8h-5.3zM618.3 130.8h2.8v2.8h-2.8zM655.8 130.8h7.8v2.8h-7.8zM620.8 133.3h2.8v2.8h-2.8zM655.8 133.3h5.3v2.8h-5.3zM625.8 135.8h2.8v2.8h-2.8zM653.3 135.8h5.3v2.8h-5.3zM630.8 138.3h27.8v2.8h-27.8zM645.8 140.8h10.3v2.8h-10.3zM680.8 153.3h12.8v2.8h-12.8zM668.3 155.8h25.3v2.8h-25.3zM583.3 158.3h5.3v2.8h-5.3zM668.3 158.3h25.3v2.8h-25.3zM585.8 160.8h5.3v2.8h-5.3zM668.3 160.8h5.3v2.8h-5.3zM678.3 160.8h15.3v2.8h-15.3zM588.3 163.3h10.3v2.8h-10.3zM665.8 163.3h7.8v2.8h-7.8zM588.3 165.8h12.8v2.8h-12.8zM665.8 165.8h5.3v2.8h-5.3zM585.8 168.3h15.3v2.8h-15.3zM638.3 168.3h32.8v2.8h-32.8zM580.8 170.8h20.3v2.8h-20.3zM613.3 170.8h27.8v2.8h-27.8zM660.8 170.8h7.8v2.8h-7.8zM580.8 173.3h20.3v2.8h-20.3zM608.3 173.3h5.3v2.8h-5.3zM580.8 175.8h17.8v2.8h-17.8zM608.3 175.8h2.8v2.8h-2.8zM675.8 175.8h5.3v2.8h-5.3zM580.8 178.3h17.8v2.8h-17.8zM608.3 178.3h2.8v2.8h-2.8zM675.8 178.3h7.8v2.8h-7.8zM583.3 180.8h15.3v2.8h-15.3zM608.3 180.8h2.8v2.8h-2.8zM675.8 180.8h10.3v2.8h-10.3z"/><path fill="#e4ff13" d="M668.3 65.8h2.8v2.8h-2.8zM668.3 68.3h2.8v2.8h-2.8zM590.8 70.8h2.8v2.8h-2.8zM668.3 70.8h2.8v2.8h-2.8zM590.8 73.3h2.8v2.8h-2.8zM668.3 73.3h2.8v2.8h-2.8zM590.8 75.8h2.8v2.8h-2.8zM668.3 75.8h2.8v2.8h-2.8zM590.8 78.3h2.8v2.8h-2.8zM665.8 78.3h5.3v2.8h-5.3zM593.3 80.8h2.8v2.8h-2.8zM665.8 80.8h2.8v2.8h-2.8zM595.8 83.3h2.8v2.8h-2.8zM665.8 83.3h2.8v2.8h-2.8zM665.8 85.8h2.8v2.8h-2.8zM600.8 88.3h2.8v2.8h-2.8zM665.8 88.3h2.8v2.8h-2.8zM665.8 90.8h2.8v2.8h-2.8zM603.3 93.3h2.8v2.8h-2.8zM665.8 93.3h5.3v2.8h-5.3zM605.8 95.8h2.8v2.8h-2.8zM665.8 95.8h5.3v2.8h-5.3zM608.3 98.3h2.8v2.8h-2.8zM665.8 98.3h2.8v2.8h-2.8zM610.8 100.8h2.8v2.8h-2.8zM665.8 100.8h2.8v2.8h-2.8zM610.8 103.3h2.8v2.8h-2.8zM665.8 103.3h2.8v2.8h-2.8zM610.8 105.8h2.8v2.8h-2.8zM663.3 105.8h5.3v2.8h-5.3zM660.8 108.3h5.3v2.8h-5.3zM658.3 110.8h7.8v2.8h-7.8zM658.3 113.3h7.8v2.8h-7.8zM658.3 115.8h7.8v2.8h-7.8zM658.3 118.3h7.8v2.8h-7.8zM658.3 120.8h7.8v2.8h-7.8zM658.3 123.3h7.8v2.8h-7.8zM610.8 125.8h2.8v2.8h-2.8zM658.3 125.8h10.3v2.8h-10.3zM660.8 128.3h7.8v2.8h-7.8zM615.8 130.8h2.8v2.8h-2.8zM663.3 130.8h5.3v2.8h-5.3zM618.3 133.3h2.8v2.8h-2.8zM660.8 133.3h7.8v2.8h-7.8zM620.8 135.8h5.3v2.8h-5.3zM658.3 135.8h7.8v2.8h-7.8zM623.3 138.3h7.8v2.8h-7.8zM658.3 138.3h5.3v2.8h-5.3zM633.3 140.8h12.8v2.8h-12.8zM655.8 140.8h7.8v2.8h-7.8zM643.3 143.3h22.8v2.8h-22.8zM685.8 145.8h5.3v2.8h-5.3zM580.8 148.3h5.3v2.8h-5.3zM658.3 148.3h5.3v2.8h-5.3zM673.3 148.3h20.3v2.8h-20.3zM580.8 150.8h7.8v2.8h-7.8zM655.8 150.8h10.3v2.8h-10.3zM670.8 150.8h22.8v2.8h-22.8zM580.8 153.3h10.3v2.8h-10.3zM655.8 153.3h25.3v2.8h-25.3zM580.8 155.8h10.3v2.8h-10.3zM645.8 155.8h5.3v2.8h-5.3zM655.8 155.8h12.8v2.8h-12.8zM580.8 158.3h2.8v2.8h-2.8zM588.3 158.3h5.3v2.8h-5.3zM643.3 158.3h10.3v2.8h-10.3zM655.8 158.3h12.8v2.8h-12.8zM580.8 160.8h5.3v2.8h-5.3zM590.8 160.8h7.8v2.8h-7.8zM643.3 160.8h25.3v2.8h-25.3zM580.8 163.3h7.8v2.8h-7.8zM598.3 163.3h5.3v2.8h-5.3zM643.3 163.3h22.8v2.8h-22.8zM580.8 165.8h7.8v2.8h-7.8zM600.8 165.8h7.8v2.8h-7.8zM638.3 165.8h27.8v2.8h-27.8zM580.8 168.3h5.3v2.8h-5.3zM600.8 168.3h37.8v2.8h-37.8zM600.8 170.8h12.8v2.8h-12.8zM600.8 173.3h7.8v2.8h-7.8zM598.3 175.8h10.3v2.8h-10.3zM598.3 178.3h10.3v2.8h-10.3zM598.3 180.8h10.3v2.8h-10.3z"/><path fill="#f8f500" d="M590.8 65.8h2.8v2.8h-2.8zM670.8 65.8h2.8v2.8h-2.8zM590.8 68.3h2.8v2.8h-2.8zM670.8 68.3h2.8v2.8h-2.8zM670.8 70.8h2.8v2.8h-2.8zM670.8 73.3h2.8v2.8h-2.8zM670.8 75.8h2.8v2.8h-2.8zM590.8 80.8h2.8v2.8h-2.8zM668.3 80.8h2.8v2.8h-2.8zM593.3 83.3h2.8v2.8h-2.8zM668.3 83.3h2.8v2.8h-2.8zM598.3 85.8h2.8v2.8h-2.8zM668.3 85.8h2.8v2.8h-2.8zM668.3 88.3h2.8v2.8h-2.8zM600.8 90.8h2.8v2.8h-2.8zM668.3 90.8h2.8v2.8h-2.8zM670.8 93.3h2.8v2.8h-2.8zM603.3 95.8h2.8v2.8h-2.8zM670.8 95.8h2.8v2.8h-2.8zM605.8 98.3h2.8v2.8h-2.8zM668.3 98.3h2.8v2.8h-2.8zM608.3 100.8h2.8v2.8h-2.8zM668.3 100.8h2.8v2.8h-2.8zM608.3 103.3h2.8v2.8h-2.8zM668.3 103.3h2.8v2.8h-2.8zM608.3 105.8h2.8v2.8h-2.8zM668.3 105.8h2.8v2.8h-2.8zM608.3 108.3h2.8v2.8h-2.8zM665.8 108.3h5.3v2.8h-5.3zM608.3 110.8h2.8v2.8h-2.8zM665.8 110.8h2.8v2.8h-2.8zM608.3 113.3h2.8v2.8h-2.8zM665.8 113.3h2.8v2.8h-2.8zM608.3 115.8h2.8v2.8h-2.8zM665.8 115.8h5.3v2.8h-5.3zM608.3 118.3h2.8v2.8h-2.8zM665.8 118.3h5.3v2.8h-5.3zM608.3 120.8h2.8v2.8h-2.8zM665.8 120.8h5.3v2.8h-5.3zM608.3 123.3h2.8v2.8h-2.8zM665.8 123.3h5.3v2.8h-5.3zM608.3 125.8h2.8v2.8h-2.8zM668.3 125.8h2.8v2.8h-2.8zM610.8 128.3h2.8v2.8h-2.8zM668.3 128.3h2.8v2.8h-2.8zM613.3 130.8h2.8v2.8h-2.8zM668.3 130.8h2.8v2.8h-2.8zM615.8 133.3h2.8v2.8h-2.8zM668.3 133.3h2.8v2.8h-2.8zM618.3 135.8h2.8v2.8h-2.8zM665.8 135.8h5.3v2.8h-5.3zM620.8 138.3h2.8v2.8h-2.8zM663.3 138.3h7.8v2.8h-7.8zM580.8 140.8h2.8v2.8h-2.8zM623.3 140.8h10.3v2.8h-10.3zM663.3 140.8h10.3v2.8h-10.3zM580.8 143.3h5.3v2.8h-5.3zM633.3 143.3h10.3v2.8h-10.3zM665.8 143.3h27.8v2.8h-27.8zM580.8 145.8h7.8v2.8h-7.8zM640.8 145.8h45.3v2.8h-45.3zM690.8 145.8h2.8v2.8h-2.8zM585.8 148.3h7.8v2.8h-7.8zM643.3 148.3h15.3v2.8h-15.3zM663.3 148.3h10.3v2.8h-10.3zM588.3 150.8h5.3v2.8h-5.3zM643.3 150.8h12.8v2.8h-12.8zM665.8 150.8h5.3v2.8h-5.3zM590.8 153.3h2.8v2.8h-2.8zM640.8 153.3h15.3v2.8h-15.3zM590.8 155.8h5.3v2.8h-5.3zM635.8 155.8h10.3v2.8h-10.3zM650.8 155.8h5.3v2.8h-5.3zM593.3 158.3h7.8v2.8h-7.8zM630.8 158.3h12.8v2.8h-12.8zM653.3 158.3h2.8v2.8h-2.8zM598.3 160.8h10.3v2.8h-10.3zM630.8 160.8h12.8v2.8h-12.8zM603.3 163.3h10.3v2.8h-10.3zM628.3 163.3h15.3v2.8h-15.3zM608.3 165.8h30.3v2.8h-30.3z"/><path fill="#ffde00" d="M673.3 65.8h2.8v2.8h-2.8zM588.3 68.3h2.8v2.8h-2.8zM588.3 70.8h2.8v2.8h-2.8zM588.3 73.3h2.8v2.8h-2.8zM588.3 75.8h2.8v2.8h-2.8zM588.3 78.3h2.8v2.8h-2.8zM670.8 78.3h2.8v2.8h-2.8zM670.8 80.8h2.8v2.8h-2.8zM670.8 83.3h2.8v2.8h-2.8zM595.8 85.8h2.8v2.8h-2.8zM670.8 85.8h2.8v2.8h-2.8zM598.3 88.3h2.8v2.8h-2.8zM670.8 88.3h2.8v2.8h-2.8zM670.8 90.8h2.8v2.8h-2.8zM600.8 93.3h2.8v2.8h-2.8zM603.3 98.3h2.8v2.8h-2.8zM670.8 98.3h2.8v2.8h-2.8zM605.8 100.8h2.8v2.8h-2.8zM670.8 100.8h2.8v2.8h-2.8zM670.8 103.3h2.8v2.8h-2.8zM670.8 105.8h2.8v2.8h-2.8zM605.8 108.3h2.8v2.8h-2.8zM670.8 108.3h2.8v2.8h-2.8zM605.8 110.8h2.8v2.8h-2.8zM668.3 110.8h5.3v2.8h-5.3zM605.8 113.3h2.8v2.8h-2.8zM668.3 113.3h5.3v2.8h-5.3zM605.8 115.8h2.8v2.8h-2.8zM670.8 115.8h2.8v2.8h-2.8zM605.8 118.3h2.8v2.8h-2.8zM670.8 118.3h2.8v2.8h-2.8zM605.8 120.8h2.8v2.8h-2.8zM670.8 120.8h2.8v2.8h-2.8zM605.8 123.3h2.8v2.8h-2.8zM670.8 123.3h2.8v2.8h-2.8zM670.8 125.8h2.8v2.8h-2.8zM608.3 128.3h2.8v2.8h-2.8zM670.8 128.3h2.8v2.8h-2.8zM610.8 130.8h2.8v2.8h-2.8zM670.8 130.8h2.8v2.8h-2.8zM610.8 133.3h5.3v2.8h-5.3zM670.8 133.3h2.8v2.8h-2.8zM613.3 135.8h5.3v2.8h-5.3zM670.8 135.8h2.8v2.8h-2.8zM580.8 138.3h7.8v2.8h-7.8zM615.8 138.3h5.3v2.8h-5.3zM670.8 138.3h5.3v2.8h-5.3zM583.3 140.8h7.8v2.8h-7.8zM615.8 140.8h7.8v2.8h-7.8zM673.3 140.8h20.3v2.8h-20.3zM585.8 143.3h10.3v2.8h-10.3zM615.8 143.3h17.8v2.8h-17.8zM588.3 145.8h22.8v2.8h-22.8zM630.8 145.8h10.3v2.8h-10.3zM593.3 148.3h17.8v2.8h-17.8zM630.8 148.3h12.8v2.8h-12.8zM593.3 150.8h15.3v2.8h-15.3zM628.3 150.8h15.3v2.8h-15.3zM593.3 153.3h7.8v2.8h-7.8zM623.3 153.3h17.8v2.8h-17.8zM595.8 155.8h10.3v2.8h-10.3zM623.3 155.8h12.8v2.8h-12.8zM600.8 158.3h17.8v2.8h-17.8zM623.3 158.3h7.8v2.8h-7.8zM608.3 160.8h22.8v2.8h-22.8zM613.3 163.3h15.3v2.8h-15.3z"/><path fill="#ffc400" d="M588.3 65.8h2.8v2.8h-2.8zM673.3 68.3h2.8v2.8h-2.8zM673.3 70.8h2.8v2.8h-2.8zM673.3 73.3h2.8v2.8h-2.8zM673.3 75.8h2.8v2.8h-2.8zM673.3 78.3h2.8v2.8h-2.8zM588.3 80.8h2.8v2.8h-2.8zM673.3 80.8h2.8v2.8h-2.8zM590.8 83.3h2.8v2.8h-2.8zM673.3 83.3h2.8v2.8h-2.8zM593.3 85.8h2.8v2.8h-2.8zM673.3 85.8h2.8v2.8h-2.8zM673.3 88.3h2.8v2.8h-2.8zM598.3 90.8h2.8v2.8h-2.8zM673.3 90.8h2.8v2.8h-2.8zM673.3 93.3h2.8v2.8h-2.8zM600.8 95.8h2.8v2.8h-2.8zM673.3 95.8h2.8v2.8h-2.8zM673.3 98.3h2.8v2.8h-2.8zM603.3 100.8h2.8v2.8h-2.8zM673.3 100.8h2.8v2.8h-2.8zM605.8 103.3h2.8v2.8h-2.8zM673.3 103.3h2.8v2.8h-2.8zM605.8 105.8h2.8v2.8h-2.8zM673.3 105.8h2.8v2.8h-2.8zM673.3 108.3h2.8v2.8h-2.8zM603.3 110.8h2.8v2.8h-2.8zM673.3 110.8h2.8v2.8h-2.8zM603.3 113.3h2.8v2.8h-2.8zM673.3 113.3h2.8v2.8h-2.8zM603.3 115.8h2.8v2.8h-2.8zM673.3 115.8h2.8v2.8h-2.8zM603.3 118.3h2.8v2.8h-2.8zM673.3 118.3h2.8v2.8h-2.8zM603.3 120.8h2.8v2.8h-2.8zM673.3 120.8h2.8v2.8h-2.8zM603.3 123.3h2.8v2.8h-2.8zM673.3 123.3h2.8v2.8h-2.8zM605.8 125.8h2.8v2.8h-2.8zM673.3 125.8h2.8v2.8h-2.8zM605.8 128.3h2.8v2.8h-2.8zM673.3 128.3h2.8v2.8h-2.8zM580.8 130.8h5.3v2.8h-5.3zM608.3 130.8h2.8v2.8h-2.8zM673.3 130.8h2.8v2.8h-2.8zM580.8 133.3h7.8v2.8h-7.8zM608.3 133.3h2.8v2.8h-2.8zM673.3 133.3h5.3v2.8h-5.3zM580.8 135.8h10.3v2.8h-10.3zM608.3 135.8h5.3v2.8h-5.3zM673.3 135.8h5.3v2.8h-5.3zM588.3 138.3h5.3v2.8h-5.3zM608.3 138.3h7.8v2.8h-7.8zM675.8 138.3h12.8v2.8h-12.8zM590.8 140.8h25.3v2.8h-25.3zM595.8 143.3h20.3v2.8h-20.3zM610.8 145.8h20.3v2.8h-20.3zM610.8 148.3h20.3v2.8h-20.3zM608.3 150.8h20.3v2.8h-20.3zM600.8 153.3h22.8v2.8h-22.8zM605.8 155.8h17.8v2.8h-17.8zM618.3 158.3h5.3v2.8h-5.3z"/><path fill="#ffae00" d="M585.8 65.8h2.8v2.8h-2.8zM675.8 65.8h2.8v2.8h-2.8zM585.8 68.3h2.8v2.8h-2.8zM675.8 68.3h2.8v2.8h-2.8zM585.8 70.8h2.8v2.8h-2.8zM675.8 70.8h2.8v2.8h-2.8zM585.8 73.3h2.8v2.8h-2.8zM675.8 73.3h2.8v2.8h-2.8zM585.8 75.8h2.8v2.8h-2.8zM675.8 75.8h2.8v2.8h-2.8zM585.8 78.3h2.8v2.8h-2.8zM585.8 80.8h2.8v2.8h-2.8zM588.3 83.3h2.8v2.8h-2.8zM590.8 85.8h2.8v2.8h-2.8zM595.8 88.3h2.8v2.8h-2.8zM598.3 93.3h2.8v2.8h-2.8zM600.8 98.3h2.8v2.8h-2.8zM600.8 100.8h2.8v2.8h-2.8zM603.3 103.3h2.8v2.8h-2.8zM603.3 105.8h2.8v2.8h-2.8zM603.3 108.3h2.8v2.8h-2.8zM675.8 108.3h2.8v2.8h-2.8zM600.8 110.8h2.8v2.8h-2.8zM675.8 110.8h2.8v2.8h-2.8zM600.8 113.3h2.8v2.8h-2.8zM600.8 115.8h2.8v2.8h-2.8zM600.8 118.3h2.8v2.8h-2.8zM598.3 120.8h5.3v2.8h-5.3zM675.8 120.8h2.8v2.8h-2.8zM598.3 123.3h5.3v2.8h-5.3zM675.8 123.3h2.8v2.8h-2.8zM580.8 125.8h7.8v2.8h-7.8zM600.8 125.8h5.3v2.8h-5.3zM675.8 125.8h2.8v2.8h-2.8zM580.8 128.3h10.3v2.8h-10.3zM603.3 128.3h2.8v2.8h-2.8zM675.8 128.3h2.8v2.8h-2.8zM585.8 130.8h5.3v2.8h-5.3zM603.3 130.8h5.3v2.8h-5.3zM675.8 130.8h5.3v2.8h-5.3zM588.3 133.3h5.3v2.8h-5.3zM603.3 133.3h5.3v2.8h-5.3zM678.3 133.3h2.8v2.8h-2.8zM590.8 135.8h5.3v2.8h-5.3zM600.8 135.8h7.8v2.8h-7.8zM678.3 135.8h7.8v2.8h-7.8zM593.3 138.3h15.3v2.8h-15.3zM688.3 138.3h5.3v2.8h-5.3z"/><path fill="#ff9400" d="M583.3 73.3h2.8v2.8h-2.8zM583.3 75.8h2.8v2.8h-2.8zM583.3 78.3h2.8v2.8h-2.8zM675.8 78.3h2.8v2.8h-2.8zM583.3 80.8h2.8v2.8h-2.8zM675.8 80.8h2.8v2.8h-2.8zM583.3 83.3h5.3v2.8h-5.3zM675.8 83.3h2.8v2.8h-2.8zM585.8 85.8h5.3v2.8h-5.3zM675.8 85.8h2.8v2.8h-2.8zM593.3 88.3h2.8v2.8h-2.8zM675.8 88.3h2.8v2.8h-2.8zM580.8 90.8h5.3v2.8h-5.3zM595.8 90.8h2.8v2.8h-2.8zM675.8 90.8h2.8v2.8h-2.8zM580.8 93.3h5.3v2.8h-5.3zM675.8 93.3h2.8v2.8h-2.8zM580.8 95.8h7.8v2.8h-7.8zM598.3 95.8h2.8v2.8h-2.8zM675.8 95.8h2.8v2.8h-2.8zM580.8 98.3h7.8v2.8h-7.8zM598.3 98.3h2.8v2.8h-2.8zM675.8 98.3h2.8v2.8h-2.8zM580.8 100.8h7.8v2.8h-7.8zM598.3 100.8h2.8v2.8h-2.8zM675.8 100.8h2.8v2.8h-2.8zM598.3 103.3h5.3v2.8h-5.3zM675.8 103.3h2.8v2.8h-2.8zM598.3 105.8h5.3v2.8h-5.3zM675.8 105.8h2.8v2.8h-2.8zM598.3 108.3h5.3v2.8h-5.3zM580.8 110.8h2.8v2.8h-2.8zM598.3 110.8h2.8v2.8h-2.8zM580.8 113.3h5.3v2.8h-5.3zM598.3 113.3h2.8v2.8h-2.8zM675.8 113.3h2.8v2.8h-2.8zM580.8 115.8h5.3v2.8h-5.3zM595.8 115.8h5.3v2.8h-5.3zM675.8 115.8h2.8v2.8h-2.8zM580.8 118.3h5.3v2.8h-5.3zM593.3 118.3h7.8v2.8h-7.8zM675.8 118.3h2.8v2.8h-2.8zM580.8 120.8h17.8v2.8h-17.8zM580.8 123.3h17.8v2.8h-17.8zM678.3 123.3h2.8v2.8h-2.8zM588.3 125.8h12.8v2.8h-12.8zM678.3 125.8h2.8v2.8h-2.8zM590.8 128.3h12.8v2.8h-12.8zM678.3 128.3h2.8v2.8h-2.8zM590.8 130.8h12.8v2.8h-12.8zM680.8 130.8h2.8v2.8h-2.8zM593.3 133.3h10.3v2.8h-10.3zM680.8 133.3h5.3v2.8h-5.3zM595.8 135.8h5.3v2.8h-5.3zM685.8 135.8h7.8v2.8h-7.8z"/><path fill="#ff7e00" d="M580.8 65.8h5.3v2.8h-5.3zM678.3 65.8h2.8v2.8h-2.8zM580.8 68.3h5.3v2.8h-5.3zM678.3 68.3h2.8v2.8h-2.8zM580.8 70.8h5.3v2.8h-5.3zM678.3 70.8h2.8v2.8h-2.8zM580.8 73.3h2.8v2.8h-2.8zM678.3 73.3h2.8v2.8h-2.8zM580.8 75.8h2.8v2.8h-2.8zM678.3 75.8h2.8v2.8h-2.8zM580.8 78.3h2.8v2.8h-2.8zM678.3 78.3h2.8v2.8h-2.8zM580.8 80.8h2.8v2.8h-2.8zM580.8 83.3h2.8v2.8h-2.8zM580.8 85.8h5.3v2.8h-5.3zM580.8 88.3h12.8v2.8h-12.8zM585.8 90.8h5.3v2.8h-5.3zM593.3 90.8h2.8v2.8h-2.8zM585.8 93.3h5.3v2.8h-5.3zM595.8 93.3h2.8v2.8h-2.8zM588.3 95.8h2.8v2.8h-2.8zM595.8 95.8h2.8v2.8h-2.8zM678.3 95.8h2.8v2.8h-2.8zM588.3 98.3h10.3v2.8h-10.3zM678.3 98.3h2.8v2.8h-2.8zM588.3 100.8h10.3v2.8h-10.3zM678.3 100.8h2.8v2.8h-2.8zM580.8 103.3h17.8v2.8h-17.8zM678.3 103.3h2.8v2.8h-2.8zM580.8 105.8h17.8v2.8h-17.8zM678.3 105.8h2.8v2.8h-2.8zM580.8 108.3h17.8v2.8h-17.8zM678.3 108.3h2.8v2.8h-2.8zM583.3 110.8h15.3v2.8h-15.3zM678.3 110.8h2.8v2.8h-2.8zM585.8 113.3h12.8v2.8h-12.8zM678.3 113.3h2.8v2.8h-2.8zM585.8 115.8h10.3v2.8h-10.3zM678.3 115.8h2.8v2.8h-2.8zM585.8 118.3h7.8v2.8h-7.8zM678.3 118.3h2.8v2.8h-2.8zM678.3 120.8h2.8v2.8h-2.8zM680.8 125.8h2.8v2.8h-2.8zM680.8 128.3h2.8v2.8h-2.8zM683.3 130.8h2.8v2.8h-2.8zM685.8 133.3h7.8v2.8h-7.8z"/><path fill="#ff6800" d="M678.3 80.8h2.8v2.8h-2.8zM678.3 83.3h2.8v2.8h-2.8zM678.3 85.8h2.8v2.8h-2.8zM678.3 88.3h2.8v2.8h-2.8zM590.8 90.8h2.8v2.8h-2.8zM678.3 90.8h2.8v2.8h-2.8zM590.8 93.3h5.3v2.8h-5.3zM678.3 93.3h2.8v2.8h-2.8zM590.8 95.8h5.3v2.8h-5.3zM680.8 118.3h2.8v2.8h-2.8zM680.8 120.8h2.8v2.8h-2.8zM680.8 123.3h2.8v2.8h-2.8zM683.3 125.8h2.8v2.8h-2.8zM683.3 128.3h2.8v2.8h-2.8zM690.8 128.3h2.8v2.8h-2.8zM685.8 130.8h7.8v2.8h-7.8z"/><path fill="#ff4e00" d="M680.8 65.8h2.8v2.8h-2.8zM680.8 68.3h2.8v2.8h-2.8zM680.8 70.8h2.8v2.8h-2.8zM680.8 73.3h2.8v2.8h-2.8zM680.8 75.8h2.8v2.8h-2.8zM680.8 78.3h2.8v2.8h-2.8zM680.8 80.8h2.8v2.8h-2.8zM680.8 83.3h2.8v2.8h-2.8zM680.8 85.8h2.8v2.8h-2.8zM680.8 88.3h2.8v2.8h-2.8zM680.8 90.8h2.8v2.8h-2.8zM680.8 93.3h2.8v2.8h-2.8zM680.8 95.8h2.8v2.8h-2.8zM680.8 98.3h2.8v2.8h-2.8zM680.8 100.8h2.8v2.8h-2.8zM680.8 103.3h2.8v2.8h-2.8zM680.8 105.8h2.8v2.8h-2.8zM680.8 108.3h2.8v2.8h-2.8zM680.8 110.8h2.8v2.8h-2.8zM680.8 113.3h2.8v2.8h-2.8zM680.8 115.8h2.8v2.8h-2.8zM683.3 118.3h2.8v2.8h-2.8zM683.3 120.8h2.8v2.8h-2.8zM683.3 123.3h2.8v2.8h-2.8zM685.8 125.8h7.8v2.8h-7.8zM685.8 128.3h5.3v2.8h-5.3z"/><path fill="#ff3800" d="M683.3 108.3h2.8v2.8h-2.8zM683.3 110.8h2.8v2.8h-2.8zM683.3 113.3h2.8v2.8h-2.8zM683.3 115.8h2.8v2.8h-2.8zM685.8 118.3h2.8v2.8h-2.8zM685.8 120.8h2.8v2.8h-2.8zM685.8 123.3h7.8v2.8h-7.8z"/><path fill="#ff1e00" d="M683.3 65.8h2.8v2.8h-2.8zM683.3 68.3h2.8v2.8h-2.8zM683.3 70.8h2.8v2.8h-2.8zM683.3 73.3h2.8v2.8h-2.8zM683.3 75.8h2.8v2.8h-2.8zM683.3 78.3h2.8v2.8h-2.8zM683.3 80.8h2.8v2.8h-2.8zM683.3 83.3h2.8v2.8h-2.8zM683.3 85.8h2.8v2.8h-2.8zM683.3 88.3h2.8v2.8h-2.8zM683.3 90.8h2.8v2.8h-2.8zM683.3 93.3h2.8v2.8h-2.8zM683.3 95.8h2.8v2.8h-2.8zM683.3 98.3h2.8v2.8h-2.8zM683.3 100.8h2.8v2.8h-2.8zM683.3 103.3h2.8v2.8h-2.8zM683.3 105.8h2.8v2.8h-2.8zM685.8 110.8h2.8v2.8h-2.8zM685.8 113.3h5.3v2.8h-5.3zM685.8 115.8h7.8v2.8h-7.8zM688.3 118.3h5.3v2.8h-5.3zM688.3 120.8h5.3v2.8h-5.3z"/><path fill="#f10800" d="M685.8 65.8h7.8v2.8h-7.8zM685.8 68.3h5.3v2.8h-5.3zM685.8 70.8h2.8v2.8h-2.8zM685.8 73.3h2.8v2.8h-2.8zM685.8 75.8h7.8v2.8h-7.8zM685.8 78.3h7.8v2.8h-7.8zM685.8 80.8h7.8v2.8h-7.8zM685.8 83.3h7.8v2.8h-7.8zM685.8 85.8h2.8v2.8h-2.8zM685.8 88.3h2.8v2.8h-2.8zM685.8 90.8h2.8v2.8h-2.8zM685.8 98.3h2.8v2.8h-2.8zM685.8 100.8h2.8v2.8h-2.8zM685.8 103.3h7.8v2.8h-7.8zM685.8 105.8h7.8v2.8h-7.8zM685.8 108.3h7.8v2.8h-7.8zM688.3 110.8h5.3v2.8h-5.3zM690.8 113.3h2.8v2.8h-2.8z"/><path fill="#d60000" d="M690.8 68.3h2.8v2.8h-2.8zM688.3 70.8h5.3v2.8h-5.3zM688.3 73.3h5.3v2.8h-5.3zM688.3 85.8h5.3v2.8h-5.3zM688.3 88.3h5.3v2.8h-5.3zM688.3 90.8h5.3v2.8h-5.3zM685.8 93.3h7.8v2.8h-7.8zM685.8 95.8h7.8v2.8h-7.8zM688.3 98.3h5.3v2.8h-5.3zM688.3 100.8h5.3v2.8h-5.3z"/></g></g><g clip-path="url(#t3h-c)"><g filter="url(#t3-bb)"><polygon points="585.8,135.4 593.0,151.2 600.2,156.8 607.4,160.5 614.7,163.0 621.9,164.7 629.1,165.7 636.3,166.0 643.5,165.7 650.7,164.7 657.9,163.0 665.2,160.5 672.4,156.8 679.6,151.2 686.8,135.4 686.8,131.4 679.6,147.2 672.4,152.8 665.2,156.5 657.9,159.0 650.7,160.7 643.5,161.7 636.3,162.0 629.1,161.7 621.9,160.7 614.7,159.0 607.4,156.5 600.2,152.8 593.0,147.2 585.8,131.4" fill="#c4f044"/><polygon points="585.8,146.0 593.0,161.8 600.2,167.4 607.4,171.1 614.7,173.6 621.9,175.3 629.1,176.3 636.3,176.6 643.5,176.3 650.7,175.3 657.9,173.6 665.2,171.1 672.4,167.4 679.6,161.8 686.8,146.0 686.8,135.0 679.6,150.8 672.4,156.4 665.2,160.1 657.9,162.6 650.7,164.3 643.5,165.3 636.3,165.6 629.1,165.3 621.9,164.3 614.7,162.6 607.4,160.1 600.2,156.4 593.0,150.8 585.8,135.0" fill="#50f0b4"/></g></g><g clip-path="url(#t3h-c)"><g filter="url(#t3-bb)" fill="none" stroke-linecap="round" stroke-linejoin="round"><path d="M588 114.5 L600 112.6 L607 118 L613.6 133 L608 147 L590 142Z" fill="#ff7800" stroke="none"/><path d="M597.4 112.4 L605 114.6 L609.6 124 L614.6 133 L608 141 L602 130Z" fill="#e81000" stroke="none"/><path d="M607 131 L616 132.6 L624 132 L632.4 135.6 L634 144 L624 143.4 L613 145 L606 142.4Z" fill="#c40000" stroke="none"/><path d="M632 141 L640.4 143 L640 152 L637 156.4 L633 154.4Z" fill="#f64000" stroke="none"/><path d="M640 145.6 Q650 149.6 658 147.6 Q668 141 674 128" stroke="#ff8200" stroke-width="5.2"/><path d="M664 142 L676 120 L684.6 101 L686 128 L674 148Z" fill="#ff5000" stroke="none"/><path d="M675.4 118 L684.6 100.6 L685.6 124 L679 134Z" fill="#b40000" stroke="none"/></g></g><g font-size="2.8" fill="#333" text-anchor="end"><text x="553.4" y="97.4">4</text><text x="554.2" y="106.8">3</text><text x="555.0" y="116.1">2</text><text x="555.8" y="125.5">1</text><text x="556.6" y="134.8">0</text><text x="557.4" y="144.2">−1</text></g><text transform="translate(573.3,169.4) rotate(40)" font-size="4.6" font-weight="bold" text-anchor="middle" textLength="10" lengthAdjust="spacingAndGlyphs" fill="#111" fill-opacity="0.85">Nasal</text><text transform="translate(595.7,186.8) rotate(40)" font-size="4.6" font-weight="bold" text-anchor="middle" textLength="6" lengthAdjust="spacingAndGlyphs" fill="#111" fill-opacity="0.85">OD</text><text transform="translate(614.5,201.6) rotate(40)" font-size="4.6" font-weight="bold" text-anchor="middle" textLength="16" lengthAdjust="spacingAndGlyphs" fill="#111" fill-opacity="0.85">Temporal</text><text transform="translate(658.9,199.8) rotate(-40)" font-size="4.6" font-weight="bold" text-anchor="middle" textLength="16" lengthAdjust="spacingAndGlyphs" fill="#111" fill-opacity="0.85">Superior</text><text transform="translate(697.9,169.4) rotate(-40)" font-size="4.6" font-weight="bold" text-anchor="middle" textLength="14" lengthAdjust="spacingAndGlyphs" fill="#111" fill-opacity="0.85">Inferior</text><g font-size="2.6" fill="#444" text-anchor="middle"><text x="568.0" y="160.3">−40</text><text x="647.7" y="202.3">−40</text><text x="582.2" y="170.8">−20</text><text x="661.8" y="191.8">−20</text><text x="596.4" y="181.3">0</text><text x="676.0" y="181.2">0</text><text x="610.5" y="191.9">20</text><text x="690.2" y="170.6">20</text><text x="624.7" y="202.4">40</text><text x="704.3" y="160.1">40</text></g><rect x="720.5" y="54.1" width="9.6" height="134.9" fill="url(#jetbar)"/><path d="M730.1 54.10h1.5" stroke="#222" stroke-width="0.4"/><text x="732.3" y="55.09" font-size="3.0" fill="#222">6.0</text><path d="M730.1 65.34h1.5" stroke="#222" stroke-width="0.4"/><text x="732.3" y="66.33" font-size="3.0" fill="#222">5.0</text><path d="M730.1 76.58h1.5" stroke="#222" stroke-width="0.4"/><text x="732.3" y="77.57" font-size="3.0" fill="#222">4.0</text><path d="M730.1 87.83h1.5" stroke="#222" stroke-width="0.4"/><text x="732.3" y="88.81" font-size="3.0" fill="#222">3.0</text><path d="M730.1 99.07h1.5" stroke="#222" stroke-width="0.4"/><text x="732.3" y="100.06" font-size="3.0" fill="#222">2.0</text><path d="M730.1 110.31h1.5" stroke="#222" stroke-width="0.4"/><text x="732.3" y="111.30" font-size="3.0" fill="#222">1.0</text><path d="M730.1 121.55h1.5" stroke="#222" stroke-width="0.4"/><text x="732.3" y="122.54" font-size="3.0" fill="#222">0.0</text><path d="M730.1 132.79h1.5" stroke="#222" stroke-width="0.4"/><text x="732.3" y="133.78" font-size="3.0" fill="#222">-1.0</text><path d="M730.1 144.03h1.5" stroke="#222" stroke-width="0.4"/><text x="732.3" y="145.02" font-size="3.0" fill="#222">-2.0</text><path d="M730.1 155.28h1.5" stroke="#222" stroke-width="0.4"/><text x="732.3" y="156.27" font-size="3.0" fill="#222">-3.0</text><path d="M730.1 166.52h1.5" stroke="#222" stroke-width="0.4"/><text x="732.3" y="167.51" font-size="3.0" fill="#222">-4.0</text><path d="M730.1 177.76h1.5" stroke="#222" stroke-width="0.4"/><text x="732.3" y="178.75" font-size="3.0" fill="#222">-5.0</text><path d="M730.1 189.00h1.5" stroke="#222" stroke-width="0.4"/><text x="732.3" y="189.99" font-size="3.0" fill="#222">-6.0</text><text x="551.2" y="62.0" font-size="5.6" fill="#3434cc" fill-opacity="0.85">WD:21.8</text><text x="551.2" y="67.3" font-size="5.6" fill="#3434cc" fill-opacity="0.85">V1.5.2</text><text x="551.2" y="72.6" font-size="5.6" fill="#3434cc" fill-opacity="0.85">F:C</text><text x="551.2" y="182.8" font-size="5.6" fill="#3434cc" fill-opacity="0.85">91%</text></svg><h3 style="left:58.53px;top:3.33px;font-size:11.4px;line-height:13.10px;letter-spacing:-0.352px">OD::Terrain::Topography-B</h3></section>
<section class="panel" id="p4" style="left:789px;top:5px;width:247px;height:221px"><svg width="245" height="219" viewBox="790 6 245 219"><defs><radialGradient id="e4-v" gradientUnits="userSpaceOnUse" cx="632" cy="346" r="62"><stop offset="0" stop-color="#ffffff"/><stop offset="0.4" stop-color="#f1f8fd"/><stop offset="1" stop-color="#cde6f8"/></radialGradient><linearGradient id="e4-ir" x1="0" y1="0" x2="1" y2="0"><stop offset="0" stop-color="#6f9edb"/><stop offset="1" stop-color="#b0b4dc"/></linearGradient></defs><g transform="translate(266.0,-224.6)"><path d="M600 292 Q612 280 624.6 271.3 L628.4 276 Q618 281.2 606 293Z" fill="#f8e0d7" stroke="#ecc3b6" stroke-width="0.35"/><path d="M600 401.6 Q612 413.6 624.6 422.3 L628.4 417.6 Q618 412.4 606 400.6Z" fill="#f8e0d7" stroke="#ecc3b6" stroke-width="0.35"/><path d="M708 356 Q712.6 361 718 362.6 L733.7 368 L722.3 399.3 L706 391.4 Q702 388 697 387.4Z" fill="#f8e0d7" stroke="#ecc3b6" stroke-width="0.35"/><path d="M714 364.4 L732.6 371 M716 366.6 L732 373.4 M707 388.6 L723.4 396.4 M709 386.4 L724.4 393.8" stroke="#ecc3b6" stroke-width="0.4" fill="none"/><path d="M700.6 366.4 Q712 369 731.4 375.8 L724.1 394.2 Q710 386 700 380.6Z" fill="#fde6cf"/><path d="M699.8 370.7 L728.2 383.1 L727.4 385.3 L699.6 372.9Z" fill="#bfe4f6"/><path d="M587 311.5 Q593 302.5 601 296 Q610 288.6 622 280.6 A69.6 69.6 0 1 1 622 413 Q610 405 601 397.6 Q593 391.1 587 382.1 L596 378 L596 316Z" fill="#f8e0d7" stroke="#ecc3b6" stroke-width="0.35"/><path d="M607.0 293.3A64.8 64.8 0 1 1 607.0 400.3Z" fill="#f4b6ac"/><path d="M607.0 295.9A62.6 62.6 0 1 1 607.0 397.7Z" fill="#f0a89e"/><path d="M607.5 298.1A60.6 60.6 0 1 1 607.5 395.5Z" fill="#fbe3c6"/><path d="M608 300.7A58.0 58.0 0 1 1 608 393.1Q603 387.1 603.5 380L603.5 314Q603 306.7 608 300.7Z" fill="url(#e4-v)"/><path d="M594 303 Q572 322 570.8 346.8 Q572 371.6 594 390.6 L600 384 L600 310Z" fill="#fff" stroke="#9a9a9a" stroke-width="0.4"/><path d="M596 307 Q577.6 324 576.4 346.8 Q577.6 369.6 596 386.6 L600 380 L600 314Z" fill="#fdeee6" stroke="#9a9a9a" stroke-width="0.35"/><path d="M590.5 313 Q597 306 606.5 301.5 Q605 307 604.6 313 Q603 318 604.2 323 Q601.6 327 603 331 L599 334 Q595.4 331 595.8 325 Q593.6 321 594.6 317Z" fill="url(#e4-ir)" fill-opacity="0.85"/><path d="M590.5 380.6 Q597 387.6 606.5 392.1 Q605 386.6 604.6 380.6 Q603 375.6 604.2 370.6 Q601.6 366.6 603 362.6 L599 359.6 Q595.4 362.6 595.8 368.6 Q593.6 372.6 594.6 376.6Z" fill="url(#e4-ir)" fill-opacity="0.85"/><path d="M598.6 320.5 L604 319.5 M598.6 323.5 L604 323 M598.6 326.5 L604 326.5 M598.6 367 L604 367 M598.6 370 L604 370.5 M598.6 373 L604 374" stroke="#f6ddd2" stroke-width="0.9"/><ellipse cx="600.6" cy="346.9" rx="9.4" ry="22" fill="#b8c2ea"/><path d="M562 324.1L576.4 324.1M562 335.2L576.4 335.2M562 358.2L576.4 358.2M562 369.2L576.4 369.2" stroke="#777" stroke-opacity="0.7" stroke-width="0.36" fill="none"/><path d="M573.4 323.0L576.4 324.1L573.4 325.20000000000005ZM573.4 334.09999999999997L576.4 335.2L573.4 336.3ZM573.4 357.09999999999997L576.4 358.2L573.4 359.3ZM573.4 368.09999999999997L576.4 369.2L573.4 370.3Z" fill="#666"/><path d="M576.4 324.1L596 324.1L698.5 324.4M576.4 324.1L596 325.1L698.5 350.0M576.4 324.1L596 326.0L698.5 371.0M576.4 335.2L596 335.6L698.5 345.0M576.4 335.2L596 336.3L698.5 362.0M576.4 358.2L596 357.1L698.5 331.0M576.4 358.2L596 357.8L698.5 348.4M576.4 369.2L596 367.4L698.5 324.0M576.4 369.2L596 368.2L698.5 343.0M576.4 369.2L596 369.2L698.5 369.0" stroke="#777" stroke-opacity="0.55" stroke-width="0.36" fill="none"/><path d="M689.0 278.4Q700.0 315.8 700.4 346.4Q700.0 374.3 681.8 408.3" fill="none" stroke="#45b2ee" stroke-width="1.0"/><path d="M690.7 277.3Q701.5 315.4 701.9 346.5Q701.5 374.9 684.5 409.6" fill="none" stroke="#e2502e" stroke-width="1.0"/><path d="M669 300.7 Q688 307 696.4 326 Q704.4 347 696.4 368 Q688 387 669 393.3" fill="none" stroke="#3d9b3a" stroke-width="1.1"/><text x="681.3" y="281.4" font-size="5.6" fill="#2222c8" textLength="29.0" lengthAdjust="spacingAndGlyphs" font-weight="bold">0° Horizontal</text><text x="681.3" y="422.6" font-size="5.6" fill="#2222c8" font-weight="bold">180°</text></g><text x="845.7" y="37.6" font-size="5.6" fill="#45b2ee" textLength="41.3" lengthAdjust="spacingAndGlyphs" fill-opacity="0.7" font-weight="bold">-Uncorrected Eye</text><text x="896.0" y="37.6" font-size="5.6" fill="#e2603e" textLength="37.2" lengthAdjust="spacingAndGlyphs" fill-opacity="0.7" font-weight="bold">-Spectacle Lens</text><text x="940.4" y="37.6" font-size="5.6" fill="#3d9b3a" textLength="47.1" lengthAdjust="spacingAndGlyphs" fill-opacity="0.7" font-weight="bold">-Defocus Correction</text><text x="817.7" y="52.8" font-size="6.7" fill="#3434cc" fill-opacity="0.85">WD:21.8</text><text x="817.7" y="58.9" font-size="6.7" fill="#3434cc" fill-opacity="0.85">V1.5.2</text><text x="817.7" y="65.1" font-size="6.7" fill="#3434cc" fill-opacity="0.85">F:C</text><text x="817.7" y="191.5" font-size="6.7" fill="#3434cc" fill-opacity="0.85">91%</text></svg><h3 style="left:42.53px;top:4.03px;font-size:11.4px;line-height:13.10px;letter-spacing:-0.304px">OD::Terrain::Defocus-Correction2</h3></section>
<section class="panel" id="p5" style="left:1045px;top:5px;width:246px;height:221px"><svg width="244" height="219" viewBox="1046 6 244 219"><rect x="1095.0" y="45.3" width="150.5" height="153.8" fill="#fff" stroke="#777" stroke-width="0.45"/><path d="M1095.0 45.3v-1.2M1095.0 45.3h-1.2M1120.1 45.3v-1.2M1095.0 70.9h-1.2M1145.2 45.3v-1.2M1095.0 96.6h-1.2M1170.2 45.3v-1.2M1095.0 122.2h-1.2M1195.3 45.3v-1.2M1095.0 147.8h-1.2M1220.4 45.3v-1.2M1095.0 173.5h-1.2M1245.5 45.3v-1.2M1095.0 199.1h-1.2M1114.0 199.1v1.2M1245.5 65.7h1.2M1142.1 199.1v1.2M1245.5 94.1h1.2M1170.2 199.1v1.2M1245.5 122.5h1.2M1198.3 199.1v1.2M1245.5 150.9h1.2M1226.4 199.1v1.2M1245.5 179.3h1.2" stroke="#555" stroke-width="0.4" fill="none"/><g font-size="3" fill="#333" text-anchor="middle"><text x="1095.0" y="43.2">−6</text><text x="1120.1" y="43.2">−4</text><text x="1145.2" y="43.2">−2</text><text x="1170.2" y="43.2">0</text><text x="1195.3" y="43.2">2</text><text x="1220.4" y="43.2">4</text><text x="1245.5" y="43.2">6</text><text x="1092" y="46.3">6</text><text x="1092" y="71.9">4</text><text x="1092" y="97.6">2</text><text x="1092" y="123.2">0</text><text x="1092" y="148.8">−2</text><text x="1092" y="174.5">−4</text><text x="1092" y="200.1">−6</text><text x="1114.0" y="203.8">−40</text><text x="1142.1" y="203.8">−20</text><text x="1170.2" y="203.8">0</text><text x="1198.3" y="203.8">20</text><text x="1226.4" y="203.8">40</text><text x="1249.4" y="66.7">40</text><text x="1249.4" y="95.1">20</text><text x="1249.4" y="123.5">0</text><text x="1249.4" y="151.9">−20</text><text x="1249.4" y="180.3">−40</text></g><path d="M1095.0 81.4L1099.5 87.0L1104.3 91.9L1109.0 97.6L1114.0 102.8L1118.6 105.6L1123.7 108.9L1128.0 110.3L1132.2 112.5L1136.4 115.4L1140.7 117.8L1145.5 119.4L1150.4 119.8L1155.0 120.8L1160.1 120.5L1167.4 120.3L1170.0 121.4L1172.2 123.4L1174.0 126.2L1175.9 127.8L1180.0 128.9L1184.3 128.8L1188.0 128.9L1191.6 127.5L1194.0 128.4L1196.5 129.2L1199.0 127.6L1201.3 127.1L1203.5 126.9L1206.2 125.9L1208.0 127.3L1209.8 127.5L1212.6 125.0L1215.9 122.2L1217.5 122.4L1219.5 120.3L1222.0 116.9L1224.4 118.6L1226.8 116.0L1229.2 114.4L1231.0 114.6L1232.9 113.7L1235.3 115.4L1236.8 113.4L1238.2 110.1L1239.7 117.8L1242.1 120.3L1243.8 124.1" fill="none" stroke="#d8403c" stroke-width="0.6" stroke-linejoin="round"/><path d="M1176.6 47.0L1178.2 50.0L1179.0 54.3L1178.0 57.0L1178.3 60.3L1180.5 63.0L1181.4 65.7L1178.0 68.6L1175.9 71.3L1176.8 76.0L1176.6 81.0L1178.8 85.0L1180.0 88.2L1178.6 92.0L1178.3 96.7L1177.3 102.0L1177.1 107.7L1176.8 112.0L1175.9 116.1L1173.4 119.0L1171.0 122.2L1168.4 124.6L1166.6 127.1L1166.4 132.0L1166.1 136.8L1166.6 142.0L1167.8 146.5L1169.6 151.0L1172.2 155.0L1174.4 157.8L1177.1 159.8L1180.0 161.2L1183.1 162.3L1186.0 164.4L1189.2 167.1L1193.0 170.8L1196.5 174.4L1198.6 176.0L1201.3 177.3L1198.4 179.4L1196.5 180.4L1196.4 184.0L1196.0 187.7L1195.0 191.5L1194.1 195.0L1193.3 199.1" fill="none" stroke="#3c3cd8" stroke-width="0.6" stroke-linejoin="round"/><text x="1170.4" y="40.2" font-size="5.2" fill="#000" text-anchor="middle" textLength="39.0" lengthAdjust="spacingAndGlyphs" fill-opacity="0.85" font-weight="bold">Relative Refraction</text><text transform="translate(1087,122.7) rotate(-90)" font-size="5.2" font-weight="bold" text-anchor="middle" textLength="40" lengthAdjust="spacingAndGlyphs" fill-opacity="0.85">Relative Refraction</text><text transform="translate(1257,75.4) rotate(-90)" font-size="5.2" font-weight="bold" text-anchor="middle" textLength="18.2" lengthAdjust="spacingAndGlyphs" fill-opacity="0.85">Superior</text><text transform="translate(1257,170.7) rotate(-90)" font-size="5.2" font-weight="bold" text-anchor="middle" textLength="17" lengthAdjust="spacingAndGlyphs" fill-opacity="0.85">Inferior</text><text x="1114.0" y="208.6" font-size="5.4" fill="#000" textLength="18.9" lengthAdjust="spacingAndGlyphs" fill-opacity="0.85" font-weight="bold">Temporal</text><text x="1170.5" y="208.6" font-size="5.4" fill="#000" textLength="7.8" lengthAdjust="spacingAndGlyphs" fill-opacity="0.85" font-weight="bold">OD</text><text x="1215.9" y="208.6" font-size="5.4" fill="#000" textLength="11.4" lengthAdjust="spacingAndGlyphs" fill-opacity="0.85" font-weight="bold">Nasal</text><text x="1072.6" y="53.0" font-size="6.7" fill="#3434cc" fill-opacity="0.85">WD:21.8</text><text x="1072.6" y="59.1" font-size="6.7" fill="#3434cc" fill-opacity="0.85">V1.5.2</text><text x="1072.6" y="65.3" font-size="6.7" fill="#3434cc" fill-opacity="0.85">F:C</text><text x="1072.6" y="191.5" font-size="6.7" fill="#3434cc" fill-opacity="0.85">91%</text></svg><h3 style="left:77.03px;top:4.03px;font-size:11.4px;line-height:13.10px;letter-spacing:-0.389px">OD::Terrain::Profile</h3></section>
<section class="panel" id="p6" style="left:1300px;top:5px;width:247px;height:221px"><svg width="245" height="219" viewBox="1301 6 245 219"><defs><radialGradient id="s6-a" gradientUnits="userSpaceOnUse" cx="1423.4" cy="119.5" r="100.5"><stop offset="0" stop-color="#fff"/><stop offset="0.84" stop-color="#fff"/><stop offset="0.95" stop-color="#000"/><stop offset="1" stop-color="#000"/></radialGradient><radialGradient id="s6-b" gradientUnits="userSpaceOnUse" cx="1423.4" cy="119.5" r="100.5"><stop offset="0" stop-color="#000"/><stop offset="0.82" stop-color="#000"/><stop offset="0.92" stop-color="#fff"/><stop offset="0.97" stop-color="#ccc"/><stop offset="1" stop-color="#000"/></radialGradient><mask id="s6-ma" maskUnits="userSpaceOnUse" x="1300" y="5" width="248" height="222"><rect x="1300" y="5" width="248" height="222" fill="url(#s6-a)"/></mask><mask id="s6-mb" maskUnits="userSpaceOnUse" x="1300" y="5" width="248" height="222"><rect x="1300" y="5" width="248" height="222" fill="url(#s6-b)"/></mask><filter id="s6-f" x="-5%" y="-5%" width="110%" height="110%"><feGaussianBlur stdDeviation="0.7"/></filter></defs><g mask="url(#s6-ma)"><text x="1325.7" y="27.9" font-size="7.4" fill="#1c1c1c" stroke="#1c1c1c" stroke-width="0.16" word-spacing="2.39">Several studies showed that using an autorefractor for early</text><text x="1325.7" y="37.2" font-size="7.4" fill="#1c1c1c" stroke="#1c1c1c" stroke-width="0.16" word-spacing="2.59">and monitoring the initial process in myopia progression is</text><text x="1325.7" y="46.4" font-size="7.4" fill="#1c1c1c" stroke="#1c1c1c" stroke-width="0.16" word-spacing="2.56">a reliable method compared with the use of cycloplegia as</text><text x="1325.7" y="55.7" font-size="7.4" fill="#1c1c1c" stroke="#1c1c1c" stroke-width="0.16" word-spacing="0.58">as shown (9). WAM-5500 (Grand Seiko Co., Hiroshima, Japan),</text><text x="1325.7" y="65.0" font-size="7.4" fill="#1c1c1c" stroke="#1c1c1c" stroke-width="0.16" word-spacing="2.26">a binocular, open-field, infrared, and ref/keratometer, is gen-</text><text x="1325.7" y="74.2" font-size="7.4" fill="#1c1c1c" stroke="#1c1c1c" stroke-width="0.16" word-spacing="1.54">erally used in the clinic to measure central and peripheral re-</text><text x="1325.7" y="83.5" font-size="7.4" fill="#1c1c1c" stroke="#1c1c1c" stroke-width="0.16" word-spacing="1.63">fractive because of its well-documented repeatability (10, 11).</text><text x="1325.7" y="92.8" font-size="7.4" fill="#1c1c1c" stroke="#1c1c1c" stroke-width="0.16" word-spacing="2.93">However, its use is associated with certain difficulties and</text><text x="1325.7" y="102.1" font-size="7.4" fill="#1c1c1c" stroke="#1c1c1c" stroke-width="0.16" word-spacing="0.31">challenges in patients wearing optic lenses, and the measurement</text><text x="1325.7" y="111.3" font-size="7.4" fill="#1c1c1c" stroke="#1c1c1c" stroke-width="0.16" word-spacing="1.31">region is limited to a few specific spots only (12). To address</text><text x="1325.7" y="120.6" font-size="7.4" fill="#1c1c1c" stroke="#1c1c1c" stroke-width="0.16" word-spacing="2.76">these limitations, multispectral refractive tomography (MRT)</text><text x="1325.7" y="129.9" font-size="7.4" fill="#1c1c1c" stroke="#1c1c1c" stroke-width="0.16" word-spacing="0.50">(version 1.0.5T05C; Thondar, Inc. China), a novel multispectral-</text><text x="1325.7" y="139.1" font-size="7.4" fill="#1c1c1c" stroke="#1c1c1c" stroke-width="0.16" word-spacing="0.67">based computing system, was designed to measure the spherical</text><text x="1325.7" y="148.4" font-size="7.4" fill="#1c1c1c" stroke="#1c1c1c" stroke-width="0.16" word-spacing="0.20">equivalent (SE) of a 53-degree fundus field of view within 2–3 s.</text><text x="1325.7" y="157.7" font-size="7.4" fill="#1c1c1c" stroke="#1c1c1c" stroke-width="0.16" word-spacing="1.28">MRT simultaneously obtains the refractive power of all retinal</text><text x="1325.7" y="166.9" font-size="7.4" fill="#1c1c1c" stroke="#1c1c1c" stroke-width="0.16" word-spacing="3.29">regions, including the central and peripheral retina, within</text><text x="1325.7" y="176.2" font-size="7.4" fill="#1c1c1c" stroke="#1c1c1c" stroke-width="0.16" word-spacing="0.95">a certain range. In MRT, there is one internal fixation point re-</text><text x="1325.7" y="185.5" font-size="7.4" fill="#1c1c1c" stroke="#1c1c1c" stroke-width="0.16" word-spacing="1.27">quired, leaving the fixation point being moved in different pe-</text><text x="1325.7" y="194.8" font-size="7.4" fill="#1c1c1c" stroke="#1c1c1c" stroke-width="0.16" word-spacing="1.48">ripheral gazes. Given that MRT is a newly introduced device,</text><text x="1325.7" y="204.0" font-size="7.4" fill="#1c1c1c" stroke="#1c1c1c" stroke-width="0.16" word-spacing="3.41">its repeatability should be investigated to broaden its use</text><text x="1325.7" y="213.3" font-size="7.4" fill="#1c1c1c" stroke="#1c1c1c" stroke-width="0.16" word-spacing="3.01">in clinics. The present study aimed to explore the repeat-</text><text x="1325.7" y="222.6" font-size="7.4" fill="#1c1c1c" stroke="#1c1c1c" stroke-width="0.16" word-spacing="3.44">ability of refraction measured using the MRT in children</text></g><g mask="url(#s6-mb)"><g filter="url(#s6-f)" opacity="0.8"><text x="1325.7" y="27.9" font-size="7.4" fill="#1c1c1c" stroke="#1c1c1c" stroke-width="0.16" word-spacing="2.39">Several studies showed that using an autorefractor for early</text><text x="1325.7" y="37.2" font-size="7.4" fill="#1c1c1c" stroke="#1c1c1c" stroke-width="0.16" word-spacing="2.59">and monitoring the initial process in myopia progression is</text><text x="1325.7" y="46.4" font-size="7.4" fill="#1c1c1c" stroke="#1c1c1c" stroke-width="0.16" word-spacing="2.56">a reliable method compared with the use of cycloplegia as</text><text x="1325.7" y="55.7" font-size="7.4" fill="#1c1c1c" stroke="#1c1c1c" stroke-width="0.16" word-spacing="0.58">as shown (9). WAM-5500 (Grand Seiko Co., Hiroshima, Japan),</text><text x="1325.7" y="65.0" font-size="7.4" fill="#1c1c1c" stroke="#1c1c1c" stroke-width="0.16" word-spacing="2.26">a binocular, open-field, infrared, and ref/keratometer, is gen-</text><text x="1325.7" y="74.2" font-size="7.4" fill="#1c1c1c" stroke="#1c1c1c" stroke-width="0.16" word-spacing="1.54">erally used in the clinic to measure central and peripheral re-</text><text x="1325.7" y="83.5" font-size="7.4" fill="#1c1c1c" stroke="#1c1c1c" stroke-width="0.16" word-spacing="1.63">fractive because of its well-documented repeatability (10, 11).</text><text x="1325.7" y="92.8" font-size="7.4" fill="#1c1c1c" stroke="#1c1c1c" stroke-width="0.16" word-spacing="2.93">However, its use is associated with certain difficulties and</text><text x="1325.7" y="102.1" font-size="7.4" fill="#1c1c1c" stroke="#1c1c1c" stroke-width="0.16" word-spacing="0.31">challenges in patients wearing optic lenses, and the measurement</text><text x="1325.7" y="111.3" font-size="7.4" fill="#1c1c1c" stroke="#1c1c1c" stroke-width="0.16" word-spacing="1.31">region is limited to a few specific spots only (12). To address</text><text x="1325.7" y="120.6" font-size="7.4" fill="#1c1c1c" stroke="#1c1c1c" stroke-width="0.16" word-spacing="2.76">these limitations, multispectral refractive tomography (MRT)</text><text x="1325.7" y="129.9" font-size="7.4" fill="#1c1c1c" stroke="#1c1c1c" stroke-width="0.16" word-spacing="0.50">(version 1.0.5T05C; Thondar, Inc. China), a novel multispectral-</text><text x="1325.7" y="139.1" font-size="7.4" fill="#1c1c1c" stroke="#1c1c1c" stroke-width="0.16" word-spacing="0.67">based computing system, was designed to measure the spherical</text><text x="1325.7" y="148.4" font-size="7.4" fill="#1c1c1c" stroke="#1c1c1c" stroke-width="0.16" word-spacing="0.20">equivalent (SE) of a 53-degree fundus field of view within 2–3 s.</text><text x="1325.7" y="157.7" font-size="7.4" fill="#1c1c1c" stroke="#1c1c1c" stroke-width="0.16" word-spacing="1.28">MRT simultaneously obtains the refractive power of all retinal</text><text x="1325.7" y="166.9" font-size="7.4" fill="#1c1c1c" stroke="#1c1c1c" stroke-width="0.16" word-spacing="3.29">regions, including the central and peripheral retina, within</text><text x="1325.7" y="176.2" font-size="7.4" fill="#1c1c1c" stroke="#1c1c1c" stroke-width="0.16" word-spacing="0.95">a certain range. In MRT, there is one internal fixation point re-</text><text x="1325.7" y="185.5" font-size="7.4" fill="#1c1c1c" stroke="#1c1c1c" stroke-width="0.16" word-spacing="1.27">quired, leaving the fixation point being moved in different pe-</text><text x="1325.7" y="194.8" font-size="7.4" fill="#1c1c1c" stroke="#1c1c1c" stroke-width="0.16" word-spacing="1.48">ripheral gazes. Given that MRT is a newly introduced device,</text><text x="1325.7" y="204.0" font-size="7.4" fill="#1c1c1c" stroke="#1c1c1c" stroke-width="0.16" word-spacing="3.41">its repeatability should be investigated to broaden its use</text><text x="1325.7" y="213.3" font-size="7.4" fill="#1c1c1c" stroke="#1c1c1c" stroke-width="0.16" word-spacing="3.01">in clinics. The present study aimed to explore the repeat-</text><text x="1325.7" y="222.6" font-size="7.4" fill="#1c1c1c" stroke="#1c1c1c" stroke-width="0.16" word-spacing="3.44">ability of refraction measured using the MRT in children</text></g></g><text x="1329.6" y="53.0" font-size="6.7" fill="#3434cc" fill-opacity="0.85">WD:21.8</text><text x="1329.6" y="59.1" font-size="6.7" fill="#3434cc" fill-opacity="0.85">V1.5.2</text><text x="1329.6" y="65.3" font-size="6.7" fill="#3434cc" fill-opacity="0.85">F:C</text><text x="1329.6" y="191.6" font-size="6.7" fill="#3434cc" fill-opacity="0.85">91%</text></svg><h3 style="left:66.93px;top:4.03px;font-size:11.4px;line-height:13.10px;letter-spacing:-0.327px">OD::Terrain::Simulation</h3></section>
<section class="panel" id="p7" style="left:13px;top:231px;width:246px;height:219px"><svg width="244" height="217" viewBox="14 232 244 217"><use href="#hmA" transform="translate(123.0,347.0) scale(0.8280,0.8450)"/><circle cx="122.5" cy="346.7" r="16.5" fill="none" stroke="#000" stroke-opacity="0.6" stroke-width="0.45"/><circle cx="122.5" cy="346.7" r="32.4" fill="none" stroke="#000" stroke-opacity="0.6" stroke-width="0.45"/><circle cx="122.5" cy="346.7" r="48.4" fill="none" stroke="#000" stroke-opacity="0.6" stroke-width="0.45"/><circle cx="122.5" cy="346.7" r="65.0" fill="none" stroke="#000" stroke-opacity="0.6" stroke-width="0.45"/><g font-size="6.9" text-anchor="middle" fill="#000" fill-opacity="0.72"><text x="122.5" y="282.6">2.1</text><text x="89.4" y="290.9">2.6</text><text x="154.8" y="290.9">2.9</text><text x="122.5" y="299.2">1.5</text><text x="98.9" y="305.8">1.2</text><text x="147.0" y="305.8">1.1</text><text x="66.7" y="315.7">0.9</text><text x="178.9" y="315.3">1.3</text><text x="122.5" y="316.2">0.1</text><text x="81.1" y="324.0">0.2</text><text x="99.3" y="325.2">0.1</text><text x="147.8" y="325.2">−0.5</text><text x="167.1" y="324.0">−0.1</text><text x="114.2" y="337.0">−0.3</text><text x="137.1" y="337.0">−0.5</text><text x="58.0" y="349.3">1.7</text><text x="74.5" y="349.3">1.0</text><text x="90.6" y="349.3">0.3</text><text x="122.5" y="349.3">0</text><text x="157.7" y="349.3">−0.4</text><text x="175.4" y="349.3">−0.1</text><text x="187.9" y="349.3">0.6</text><text x="111.1" y="361.1">0.6</text><text x="134.1" y="361.1">0.1</text><text x="99.3" y="372.4">0.8</text><text x="145.4" y="372.4">0.3</text><text x="81.1" y="374.3">1.6</text><text x="164.3" y="374.3">0.3</text><text x="122.5" y="382.6">0.7</text><text x="66.7" y="382.6">2.6</text><text x="178.9" y="382.6">0.4</text><text x="98.1" y="392.0">1.4</text><text x="147.0" y="392.0">0.5</text><text x="122.5" y="398.9">0.6</text><text x="89.9" y="407.1">1.7</text><text x="155.3" y="407.1">0.6</text><text x="122.5" y="415.4">0.8</text></g><rect x="209.5" y="279.2" width="9.5" height="133.4" fill="url(#jetbar)"/><path d="M219.0 279.20h1.5" stroke="#222" stroke-width="0.4"/><text x="221.2" y="280.26" font-size="3.2" fill="#222">6.0</text><path d="M219.0 290.32h1.5" stroke="#222" stroke-width="0.4"/><text x="221.2" y="291.37" font-size="3.2" fill="#222">5.0</text><path d="M219.0 301.43h1.5" stroke="#222" stroke-width="0.4"/><text x="221.2" y="302.49" font-size="3.2" fill="#222">4.0</text><path d="M219.0 312.55h1.5" stroke="#222" stroke-width="0.4"/><text x="221.2" y="313.61" font-size="3.2" fill="#222">3.0</text><path d="M219.0 323.67h1.5" stroke="#222" stroke-width="0.4"/><text x="221.2" y="324.72" font-size="3.2" fill="#222">2.0</text><path d="M219.0 334.78h1.5" stroke="#222" stroke-width="0.4"/><text x="221.2" y="335.84" font-size="3.2" fill="#222">1.0</text><path d="M219.0 345.90h1.5" stroke="#222" stroke-width="0.4"/><text x="221.2" y="346.96" font-size="3.2" fill="#222">0.0</text><path d="M219.0 357.02h1.5" stroke="#222" stroke-width="0.4"/><text x="221.2" y="358.07" font-size="3.2" fill="#222">-1.0</text><path d="M219.0 368.13h1.5" stroke="#222" stroke-width="0.4"/><text x="221.2" y="369.19" font-size="3.2" fill="#222">-2.0</text><path d="M219.0 379.25h1.5" stroke="#222" stroke-width="0.4"/><text x="221.2" y="380.31" font-size="3.2" fill="#222">-3.0</text><path d="M219.0 390.37h1.5" stroke="#222" stroke-width="0.4"/><text x="221.2" y="391.42" font-size="3.2" fill="#222">-4.0</text><path d="M219.0 401.48h1.5" stroke="#222" stroke-width="0.4"/><text x="221.2" y="402.54" font-size="3.2" fill="#222">-5.0</text><path d="M219.0 412.60h1.5" stroke="#222" stroke-width="0.4"/><text x="221.2" y="413.66" font-size="3.2" fill="#222">-6.0</text><text x="40.9" y="287.8" font-size="5.4" fill="#3434cc" fill-opacity="0.85">WD:21.8</text><text x="40.9" y="292.9" font-size="5.4" fill="#3434cc" fill-opacity="0.85">V1.5.2</text><text x="40.9" y="298.1" font-size="5.4" fill="#3434cc" fill-opacity="0.85">F:C</text><text x="40.9" y="407.3" font-size="5.4" fill="#3434cc" fill-opacity="0.85">91%</text></svg><h3 style="left:67.93px;top:2.83px;font-size:11.4px;line-height:13.10px;letter-spacing:-0.454px">OD::Terrain::Relative-R</h3></section>
<section class="panel" id="p8" style="left:268px;top:231px;width:246px;height:219px"><svg width="244" height="217" viewBox="269 232 244 217"><use href="#hmA" transform="translate(378.0,347.0) scale(0.8280,0.8450)"/><g fill="none" stroke="#000" stroke-opacity="0.65" stroke-width="0.45"><ellipse cx="377.4" cy="346.5" rx="15.8" ry="15.96"/><ellipse cx="377.4" cy="346.5" rx="49.0" ry="49.49"/><path d="M393.2 346.5L460.8 347.0M388.6 357.7L436.5 406.8M377.4 362.3L378.0 431.5M366.2 357.7L319.5 406.8M361.6 346.5L295.2 347.0M366.2 335.3L319.5 287.2M377.4 330.7L378.0 262.5M388.6 335.3L436.5 287.2"/></g><g font-size="6.9" text-anchor="middle" fill="#000" fill-opacity="0.72"><text x="353.3" y="286.0">2.4</text><text x="403.1" y="286.0">2.2</text><text x="365.3" y="316.7">0.4</text><text x="390.6" y="316.7">0.2</text><text x="317.0" y="323.5">1.3</text><text x="438.8" y="323.5">0.8</text><text x="346.5" y="335.4">0.2</text><text x="409.9" y="335.4">−0.5</text><text x="377.2" y="348.8">0</text><text x="346.5" y="362.2">0.9</text><text x="409.0" y="362.2">0.0</text><text x="317.0" y="374.7">2.6</text><text x="438.8" y="374.7">0.6</text><text x="365.3" y="381.3">0.9</text><text x="390.6" y="381.3">0.5</text><text x="353.3" y="411.1">1.6</text><text x="403.1" y="411.1">0.7</text></g><rect x="464.5" y="279.2" width="9.5" height="133.4" fill="url(#jetbar)"/><path d="M474.0 279.20h1.5" stroke="#222" stroke-width="0.4"/><text x="476.2" y="280.26" font-size="3.2" fill="#222">6.0</text><path d="M474.0 290.32h1.5" stroke="#222" stroke-width="0.4"/><text x="476.2" y="291.37" font-size="3.2" fill="#222">5.0</text><path d="M474.0 301.43h1.5" stroke="#222" stroke-width="0.4"/><text x="476.2" y="302.49" font-size="3.2" fill="#222">4.0</text><path d="M474.0 312.55h1.5" stroke="#222" stroke-width="0.4"/><text x="476.2" y="313.61" font-size="3.2" fill="#222">3.0</text><path d="M474.0 323.67h1.5" stroke="#222" stroke-width="0.4"/><text x="476.2" y="324.72" font-size="3.2" fill="#222">2.0</text><path d="M474.0 334.78h1.5" stroke="#222" stroke-width="0.4"/><text x="476.2" y="335.84" font-size="3.2" fill="#222">1.0</text><path d="M474.0 345.90h1.5" stroke="#222" stroke-width="0.4"/><text x="476.2" y="346.96" font-size="3.2" fill="#222">0.0</text><path d="M474.0 357.02h1.5" stroke="#222" stroke-width="0.4"/><text x="476.2" y="358.07" font-size="3.2" fill="#222">-1.0</text><path d="M474.0 368.13h1.5" stroke="#222" stroke-width="0.4"/><text x="476.2" y="369.19" font-size="3.2" fill="#222">-2.0</text><path d="M474.0 379.25h1.5" stroke="#222" stroke-width="0.4"/><text x="476.2" y="380.31" font-size="3.2" fill="#222">-3.0</text><path d="M474.0 390.37h1.5" stroke="#222" stroke-width="0.4"/><text x="476.2" y="391.42" font-size="3.2" fill="#222">-4.0</text><path d="M474.0 401.48h1.5" stroke="#222" stroke-width="0.4"/><text x="476.2" y="402.54" font-size="3.2" fill="#222">-5.0</text><path d="M474.0 412.60h1.5" stroke="#222" stroke-width="0.4"/><text x="476.2" y="413.66" font-size="3.2" fill="#222">-6.0</text><text x="295.9" y="287.8" font-size="5.4" fill="#3434cc" fill-opacity="0.85">WD:21.8</text><text x="295.9" y="292.9" font-size="5.4" fill="#3434cc" fill-opacity="0.85">V1.5.2</text><text x="295.9" y="298.1" font-size="5.4" fill="#3434cc" fill-opacity="0.85">F:C</text><text x="295.9" y="407.3" font-size="5.4" fill="#3434cc" fill-opacity="0.85">91%</text></svg><h3 style="left:67.73px;top:2.83px;font-size:11.4px;line-height:13.10px;letter-spacing:-0.385px">OD::Terrain::Relative-A</h3></section>
<section class="panel" id="p9" style="left:523px;top:231px;width:246px;height:219px"><svg width="244" height="217" viewBox="524 232 244 217"><defs><radialGradient id="e9-v" gradientUnits="userSpaceOnUse" cx="632" cy="346" r="62"><stop offset="0" stop-color="#ffffff"/><stop offset="0.4" stop-color="#f1f8fd"/><stop offset="1" stop-color="#cde6f8"/></radialGradient><linearGradient id="e9-ir" x1="0" y1="0" x2="1" y2="0"><stop offset="0" stop-color="#6f9edb"/><stop offset="1" stop-color="#b0b4dc"/></linearGradient></defs><g transform="translate(0,0)"><path d="M600 292 Q612 280 624.6 271.3 L628.4 276 Q618 281.2 606 293Z" fill="#f8e0d7" stroke="#ecc3b6" stroke-width="0.35"/><path d="M600 401.6 Q612 413.6 624.6 422.3 L628.4 417.6 Q618 412.4 606 400.6Z" fill="#f8e0d7" stroke="#ecc3b6" stroke-width="0.35"/><path d="M708 356 Q712.6 361 718 362.6 L733.7 368 L722.3 399.3 L706 391.4 Q702 388 697 387.4Z" fill="#f8e0d7" stroke="#ecc3b6" stroke-width="0.35"/><path d="M714 364.4 L732.6 371 M716 366.6 L732 373.4 M707 388.6 L723.4 396.4 M709 386.4 L724.4 393.8" stroke="#ecc3b6" stroke-width="0.4" fill="none"/><path d="M700.6 366.4 Q712 369 731.4 375.8 L724.1 394.2 Q710 386 700 380.6Z" fill="#fde6cf"/><path d="M699.8 370.7 L728.2 383.1 L727.4 385.3 L699.6 372.9Z" fill="#bfe4f6"/><path d="M587 311.5 Q593 302.5 601 296 Q610 288.6 622 280.6 A69.6 69.6 0 1 1 622 413 Q610 405 601 397.6 Q593 391.1 587 382.1 L596 378 L596 316Z" fill="#f8e0d7" stroke="#ecc3b6" stroke-width="0.35"/><path d="M607.0 293.3A64.8 64.8 0 1 1 607.0 400.3Z" fill="#f4b6ac"/><path d="M607.0 295.9A62.6 62.6 0 1 1 607.0 397.7Z" fill="#f0a89e"/><path d="M607.5 298.1A60.6 60.6 0 1 1 607.5 395.5Z" fill="#fbe3c6"/><path d="M608 300.7A58.0 58.0 0 1 1 608 393.1Q603 387.1 603.5 380L603.5 314Q603 306.7 608 300.7Z" fill="url(#e9-v)"/><path d="M594 303 Q572 322 570.8 346.8 Q572 371.6 594 390.6 L600 384 L600 310Z" fill="#fff" stroke="#9a9a9a" stroke-width="0.4"/><path d="M596 307 Q577.6 324 576.4 346.8 Q577.6 369.6 596 386.6 L600 380 L600 314Z" fill="#fdeee6" stroke="#9a9a9a" stroke-width="0.35"/><path d="M590.5 313 Q597 306 606.5 301.5 Q605 307 604.6 313 Q603 318 604.2 323 Q601.6 327 603 331 L599 334 Q595.4 331 595.8 325 Q593.6 321 594.6 317Z" fill="url(#e9-ir)" fill-opacity="0.85"/><path d="M590.5 380.6 Q597 387.6 606.5 392.1 Q605 386.6 604.6 380.6 Q603 375.6 604.2 370.6 Q601.6 366.6 603 362.6 L599 359.6 Q595.4 362.6 595.8 368.6 Q593.6 372.6 594.6 376.6Z" fill="url(#e9-ir)" fill-opacity="0.85"/><path d="M598.6 320.5 L604 319.5 M598.6 323.5 L604 323 M598.6 326.5 L604 326.5 M598.6 367 L604 367 M598.6 370 L604 370.5 M598.6 373 L604 374" stroke="#f6ddd2" stroke-width="0.9"/><ellipse cx="600.6" cy="346.9" rx="9.4" ry="22" fill="#b8c2ea"/><path d="M562 324.1L576.4 324.1M562 335.2L576.4 335.2M562 358.2L576.4 358.2M562 369.2L576.4 369.2" stroke="#777" stroke-opacity="0.7" stroke-width="0.36" fill="none"/><path d="M573.4 323.0L576.4 324.1L573.4 325.20000000000005ZM573.4 334.09999999999997L576.4 335.2L573.4 336.3ZM573.4 357.09999999999997L576.4 358.2L573.4 359.3ZM573.4 368.09999999999997L576.4 369.2L573.4 370.3Z" fill="#666"/><path d="M576.4 324.1L596 324.1L698.5 324.4M576.4 324.1L596 325.1L698.5 350.0M576.4 324.1L596 326.0L698.5 371.0M576.4 335.2L596 335.6L698.5 345.0M576.4 335.2L596 336.3L698.5 362.0M576.4 358.2L596 357.1L698.5 331.0M576.4 358.2L596 357.8L698.5 348.4M576.4 369.2L596 367.4L698.5 324.0M576.4 369.2L596 368.2L698.5 343.0M576.4 369.2L596 369.2L698.5 369.0" stroke="#777" stroke-opacity="0.55" stroke-width="0.36" fill="none"/><path d="M684.6 282.8Q698.9 317.8 699.3 346.4Q698.9 375.5 685.7 411.0" fill="none" stroke="#45b2ee" stroke-width="1.0"/><path d="M688.0 280.6Q700.4 316.8 700.8 346.4Q700.4 376.0 688.0 412.2" fill="none" stroke="#e2502e" stroke-width="1.0"/><path d="M669 300.7 Q688 307 696.4 326 Q704.4 347 696.4 368 Q688 387 669 393.3" fill="none" stroke="#3d9b3a" stroke-width="1.1"/><text x="681.3" y="281.4" font-size="5.6" fill="#2222c8" textLength="26.7" lengthAdjust="spacingAndGlyphs" font-weight="bold">90° Vertical</text><text x="681.3" y="422.6" font-size="5.6" fill="#2222c8" font-weight="bold">270°</text></g><text x="580.0" y="262.0" font-size="5.6" fill="#45b2ee" textLength="41.7" lengthAdjust="spacingAndGlyphs" fill-opacity="0.7" font-weight="bold">-Uncorrected Eye</text><text x="629.8" y="262.0" font-size="5.6" fill="#e2603e" textLength="37.2" lengthAdjust="spacingAndGlyphs" fill-opacity="0.7" font-weight="bold">-Spectacle Lens</text><text x="673.9" y="262.0" font-size="5.6" fill="#3d9b3a" textLength="47.6" lengthAdjust="spacingAndGlyphs" fill-opacity="0.7" font-weight="bold">-Defocus Correction</text><text x="551.8" y="277.7" font-size="6.5" fill="#3434cc" fill-opacity="0.85">WD:21.8</text><text x="551.8" y="283.7" font-size="6.5" fill="#3434cc" fill-opacity="0.85">V1.5.2</text><text x="551.8" y="289.7" font-size="6.5" fill="#3434cc" fill-opacity="0.85">F:C</text><text x="551.8" y="415.6" font-size="6.5" fill="#3434cc" fill-opacity="0.85">91%</text></svg><h3 style="left:45.13px;top:2.83px;font-size:11.4px;line-height:13.10px;letter-spacing:-0.339px">OD::Terrain::Defocus-Correction</h3></section>
<section class="panel" id="p10" style="left:789px;top:231px;width:247px;height:220px"><svg width="245" height="218" viewBox="790 232 245 218"><text x="855.8" y="297.0" font-size="25.0" fill="#0a0a0a" textLength="113.4" lengthAdjust="spacingAndGlyphs" font-weight="bold">Statistics</text><text x="850.5" y="320.5" font-size="11.2" fill="#111" textLength="33.0" lengthAdjust="spacingAndGlyphs" fill-opacity="0.92" font-weight="bold">TRDV:</text><text x="903.0" y="320.5" font-size="11.2" fill="#111" textLength="24.0" lengthAdjust="spacingAndGlyphs" fill-opacity="0.92" font-weight="bold">1.09</text><text x="844.7" y="335.2" font-size="11.2" fill="#111" textLength="48.9" lengthAdjust="spacingAndGlyphs" fill-opacity="0.92" font-weight="bold">RDV−15:</text><text x="903.0" y="335.2" font-size="11.2" fill="#111" textLength="32.4" lengthAdjust="spacingAndGlyphs" fill-opacity="0.92" font-weight="bold">−0.01</text><text x="844.7" y="349.5" font-size="11.2" fill="#111" textLength="48.9" lengthAdjust="spacingAndGlyphs" fill-opacity="0.92" font-weight="bold">RDV−30:</text><text x="903.0" y="349.5" font-size="11.2" fill="#111" textLength="24.0" lengthAdjust="spacingAndGlyphs" fill-opacity="0.92" font-weight="bold">0.28</text><text x="844.7" y="364.2" font-size="11.2" fill="#111" textLength="48.9" lengthAdjust="spacingAndGlyphs" fill-opacity="0.92" font-weight="bold">RDV−45:</text><text x="903.0" y="364.2" font-size="11.2" fill="#111" textLength="24.0" lengthAdjust="spacingAndGlyphs" fill-opacity="0.92" font-weight="bold">0.88</text><text x="844.7" y="378.7" font-size="11.2" fill="#111" textLength="42.0" lengthAdjust="spacingAndGlyphs" fill-opacity="0.92" font-weight="bold">RDV−S:</text><text x="903.0" y="378.7" font-size="11.2" fill="#111" textLength="24.0" lengthAdjust="spacingAndGlyphs" fill-opacity="0.92" font-weight="bold">1.57</text><text x="844.7" y="393.4" font-size="11.2" fill="#111" textLength="39.2" lengthAdjust="spacingAndGlyphs" fill-opacity="0.92" font-weight="bold">RDV−I:</text><text x="903.0" y="393.4" font-size="11.2" fill="#111" textLength="24.0" lengthAdjust="spacingAndGlyphs" fill-opacity="0.92" font-weight="bold">0.97</text><text x="844.7" y="407.7" font-size="11.2" fill="#111" textLength="42.0" lengthAdjust="spacingAndGlyphs" fill-opacity="0.92" font-weight="bold">RDV−T:</text><text x="903.0" y="407.7" font-size="11.2" fill="#111" textLength="24.0" lengthAdjust="spacingAndGlyphs" fill-opacity="0.92" font-weight="bold">1.45</text><text x="844.7" y="422.4" font-size="11.2" fill="#111" textLength="43.0" lengthAdjust="spacingAndGlyphs" fill-opacity="0.92" font-weight="bold">RDV−N:</text><text x="903.0" y="422.4" font-size="11.2" fill="#111" textLength="24.0" lengthAdjust="spacingAndGlyphs" fill-opacity="0.92" font-weight="bold">0.37</text><text x="817.4" y="279.0" font-size="6.6" fill="#3434cc" fill-opacity="0.7">WD:21.8</text><text x="817.4" y="285.0" font-size="6.6" fill="#3434cc" fill-opacity="0.7">V1.5.2</text><text x="817.4" y="291.0" font-size="6.6" fill="#3434cc" fill-opacity="0.7">F:C</text><text x="817.4" y="417.4" font-size="6.7" fill="#3434cc" fill-opacity="0.7">91%</text></svg><h3 style="left:71.35px;top:3.19px;font-size:11.0px;line-height:12.64px;letter-spacing:-0.239px">OD::Terrain::Statistics</h3></section>
<section class="panel" id="p11" style="left:1045px;top:231px;width:246px;height:220px"><svg width="244" height="218" viewBox="1046 232 244 218"><defs><clipPath id="fu-c"><ellipse cx="1168.2" cy="347.3" rx="96.0" ry="99.8"/></clipPath><radialGradient id="fu-g" gradientUnits="userSpaceOnUse" cx="1182" cy="338" r="104"><stop offset="0" stop-color="#a4a4a4"/><stop offset="0.4" stop-color="#8c8c8c"/><stop offset="0.75" stop-color="#747474"/><stop offset="1" stop-color="#5a5a5a"/></radialGradient><filter id="fu-n" x="0" y="0" width="100%" height="100%"><feTurbulence type="fractalNoise" baseFrequency="0.07" numOctaves="5" seed="7" result="t"/><feColorMatrix in="t" type="matrix" values="0 0 0 0 0  0 0 0 0 0  0 0 0 0 0  1.6 1.6 0 0 -1.05"/></filter><filter id="fu-n2" x="0" y="0" width="100%" height="100%"><feTurbulence type="fractalNoise" baseFrequency="0.09" numOctaves="5" seed="23" result="t"/><feColorMatrix in="t" type="matrix" values="0 0 0 0 1  0 0 0 0 1  0 0 0 0 1  1.5 0 1.5 0 -1.1"/></filter><filter id="fu-b2" x="-50%" y="-50%" width="200%" height="200%"><feGaussianBlur stdDeviation="1.6"/></filter><filter id="fu-b3" x="-50%" y="-50%" width="200%" height="200%"><feGaussianBlur stdDeviation="3"/></filter><filter id="fu-b5" x="-60%" y="-60%" width="220%" height="220%"><feGaussianBlur stdDeviation="5"/></filter><filter id="fu-b9" x="-30%" y="-30%" width="160%" height="160%"><feGaussianBlur stdDeviation="8"/></filter></defs><rect x="1070" y="247.3" width="195.5" height="200.1" fill="#000"/><g clip-path="url(#fu-c)"><ellipse cx="1168.2" cy="347.3" rx="96.0" ry="99.8" fill="url(#fu-g)"/><g filter="url(#fu-b9)"><ellipse cx="1204" cy="322" rx="25" ry="25" fill="#ffffff"/><ellipse cx="1190" cy="300" rx="20" ry="12" fill="#e8e8e8" fill-opacity="0.8"/><ellipse cx="1132" cy="346" rx="30" ry="9" fill="#e4e4e4" fill-opacity="0.9"/><ellipse cx="1198" cy="372" rx="16" ry="10" fill="#d0d0d0" fill-opacity="0.7"/><ellipse cx="1112" cy="296" rx="32" ry="24" fill="#474747" fill-opacity="0.85"/><ellipse cx="1086" cy="352" rx="14" ry="36" fill="#585858" fill-opacity="0.7"/><ellipse cx="1104" cy="400" rx="26" ry="24" fill="#545454" fill-opacity="0.75"/><ellipse cx="1165" cy="398" rx="34" ry="12" fill="#9a9a9a" fill-opacity="0.6"/><ellipse cx="1150" cy="264" rx="40" ry="10" fill="#6c6c6c" fill-opacity="0.6"/><ellipse cx="1244" cy="366" rx="12" ry="30" fill="#9c9c9c" fill-opacity="0.6"/><ellipse cx="1232" cy="290" rx="16" ry="20" fill="#7a7a7a" fill-opacity="0.6"/><ellipse cx="1175" cy="434" rx="56" ry="10" fill="#5c5c5c" fill-opacity="0.7"/></g><rect x="1070" y="247" width="196" height="201" fill="#000" filter="url(#fu-n)" opacity="0.3"/><rect x="1070" y="247" width="196" height="201" fill="#fff" filter="url(#fu-n2)" opacity="0.22"/><g filter="url(#fu-b5)"><ellipse cx="1168" cy="350" rx="15" ry="15" fill="#2e2e2e" fill-opacity="0.9"/><ellipse cx="1171" cy="358" rx="10" ry="8" fill="#161616" fill-opacity="0.8"/></g><g filter="url(#fu-b2)"><path d="M1208 376 Q1213 369 1221 370 Q1229 371 1231 380 Q1233 390 1226 396 Q1219 401 1213 397 Q1208 394 1210 387 Q1205 382 1208 376Z" fill="#0c0c0c"/><path d="M1200 380 Q1206 376 1210 384 Q1206 390 1200 386Z" fill="#1a1a1a" fill-opacity="0.8"/></g><g filter="url(#fu-b3)"><ellipse cx="1227" cy="338.5" rx="8" ry="10" fill="#fff"/><ellipse cx="1233" cy="339" rx="7" ry="8" fill="#f8f8f8" fill-opacity="0.85"/></g><g fill="none" stroke="#141414" stroke-opacity="0.42" stroke-width="0.55" stroke-linecap="round"><path d="M1225 334 C1220 318 1212 304 1196 294 C1180 284 1160 286 1140 292 C1124 297 1108 306 1094 318"/><path d="M1224 343 C1216 358 1204 370 1188 380 C1170 390 1150 392 1128 392 C1112 392 1098 398 1086 408"/><path d="M1222 336 C1210 330 1198 328 1186 330 C1176 331 1166 328 1150 326"/><path d="M1222 341 C1212 346 1202 350 1192 352"/><path d="M1228 330 C1228 316 1224 300 1216 286 C1210 276 1204 268 1196 260"/><path d="M1230 348 C1232 362 1236 380 1240 400 C1242 412 1240 424 1236 432"/><path d="M1196 294 C1190 284 1180 272 1168 262"/><path d="M1188 380 C1184 394 1176 410 1164 424"/><path d="M1226 330 C1232 318 1240 306 1250 296"/><path d="M1214 310 C1204 306 1192 306 1180 310"/><path d="M1140 292 C1130 284 1118 278 1104 276"/><path d="M1128 392 C1120 402 1114 414 1110 426"/><path d="M1186 330 C1176 338 1170 342 1160 343" stroke-opacity="0.3"/><path d="M1090 336 C1110 338 1130 338 1150 336" stroke-opacity="0.3"/></g></g><ellipse cx="1168.2" cy="347.3" rx="96.0" ry="99.8" fill="none" stroke="#8a8a8a" stroke-opacity="0.55" stroke-width="0.7"/><g fill="none" stroke="#2a2ad8" stroke-opacity="0.9" stroke-width="0.5"><ellipse cx="1167.7" cy="347.2" rx="19.1" ry="19.20"/><ellipse cx="1167.7" cy="347.2" rx="38.2" ry="38.39"/><ellipse cx="1167.7" cy="347.2" rx="57.0" ry="57.28"/><ellipse cx="1167.7" cy="347.2" rx="76.4" ry="76.78"/><ellipse cx="1167.7" cy="347.2" rx="94.6" ry="95.07"/></g><text x="1073.3" y="279.0" font-size="6.7" fill="#1c1ca0" fill-opacity="1">WD:21.8</text><text x="1073.3" y="285.1" font-size="6.7" fill="#1c1ca0" fill-opacity="1">V1.5.2</text><text x="1073.3" y="291.3" font-size="6.7" fill="#1c1ca0" fill-opacity="1">F:C</text><text x="1073.3" y="417.2" font-size="6.7" fill="#1c1ca0" fill-opacity="1">91%</text></svg><h3 style="left:74.63px;top:2.83px;font-size:11.4px;line-height:13.10px;letter-spacing:-0.478px">OD::Terrain::Fundus</h3></section>
<section class="panel" id="p12" style="left:1300px;top:231px;width:247px;height:220px"><svg width="245" height="218" viewBox="1301 232 245 218"><g stroke="#3a2a10" stroke-opacity="0.7" stroke-width="0.4" stroke-linejoin="round"><path d="M1493.20 347.20A82.7 84.6 0 0 0 1468.98 287.38L1444.58 312.41A48.2 49.2 0 0 1 1458.70 347.20Z" fill="#fdfd04"/><path d="M1458.70 347.20A48.2 49.2 0 0 0 1444.58 312.41L1421.60 336.10A15.7 15.7 0 0 1 1426.20 347.20Z" fill="#93c449"/><path d="M1468.98 287.38A82.7 84.6 0 0 0 1410.50 262.60L1410.50 298.00A48.2 49.2 0 0 1 1444.58 312.41Z" fill="#a00a0e"/><path d="M1444.58 312.41A48.2 49.2 0 0 0 1410.50 298.00L1410.50 331.50A15.7 15.7 0 0 1 1421.60 336.10Z" fill="#fdfd04"/><path d="M1410.50 262.60A82.7 84.6 0 0 0 1352.02 287.38L1376.42 312.41A48.2 49.2 0 0 1 1410.50 298.00Z" fill="#a00a0e"/><path d="M1410.50 298.00A48.2 49.2 0 0 0 1376.42 312.41L1399.40 336.10A15.7 15.7 0 0 1 1410.50 331.50Z" fill="#fbb00d"/><path d="M1352.02 287.38A82.7 84.6 0 0 0 1327.80 347.20L1362.30 347.20A48.2 49.2 0 0 1 1376.42 312.41Z" fill="#fbb00d"/><path d="M1376.42 312.41A48.2 49.2 0 0 0 1362.30 347.20L1394.80 347.20A15.7 15.7 0 0 1 1399.40 336.10Z" fill="#93c449"/><path d="M1327.80 347.20A82.7 84.6 0 0 0 1352.02 407.02L1376.42 381.99A48.2 49.2 0 0 1 1362.30 347.20Z" fill="#a00a0e"/><path d="M1362.30 347.20A48.2 49.2 0 0 0 1376.42 381.99L1399.40 358.30A15.7 15.7 0 0 1 1394.80 347.20Z" fill="#a00a0e"/><path d="M1352.02 407.02A82.7 84.6 0 0 0 1410.50 431.80L1410.50 396.40A48.2 49.2 0 0 1 1376.42 381.99Z" fill="#fbb00d"/><path d="M1376.42 381.99A48.2 49.2 0 0 0 1410.50 396.40L1410.50 362.90A15.7 15.7 0 0 1 1399.40 358.30Z" fill="#fbb00d"/><path d="M1410.50 431.80A82.7 84.6 0 0 0 1468.98 407.02L1444.58 381.99A48.2 49.2 0 0 1 1410.50 396.40Z" fill="#93c449"/><path d="M1410.50 396.40A48.2 49.2 0 0 0 1444.58 381.99L1421.60 358.30A15.7 15.7 0 0 1 1410.50 362.90Z" fill="#fdfd04"/><path d="M1468.98 407.02A82.7 84.6 0 0 0 1493.20 347.20L1458.70 347.20A48.2 49.2 0 0 1 1444.58 381.99Z" fill="#93c449"/><path d="M1444.58 381.99A48.2 49.2 0 0 0 1458.70 347.20L1426.20 347.20A15.7 15.7 0 0 1 1421.60 358.30Z" fill="#93c449"/></g><ellipse cx="1410.5" cy="347.2" rx="15.7" ry="15.7" fill="#efefef"/><g font-size="8.4" text-anchor="middle" fill="#000" fill-opacity="0.7"><text x="1435.7" y="289.0">2.2</text><text x="1423.0" y="320.5">0.2</text><text x="1471.3" y="325.5">0.8</text><text x="1440.7" y="338.2">−0.5</text><text x="1385.3" y="289.0">2.4</text><text x="1349.6" y="325.5">1.3</text><text x="1397.8" y="320.5">0.4</text><text x="1380.3" y="338.2">0.2</text><text x="1380.3" y="363.9">0.9</text><text x="1440.4" y="363.9">0.0</text><text x="1349.6" y="376.7">2.6</text><text x="1470.8" y="376.7">0.6</text><text x="1397.8" y="381.8">0.9</text><text x="1423.2" y="381.8">0.5</text><text x="1385.3" y="413.1">1.6</text><text x="1435.1" y="413.1">0.7</text></g><rect x="1495.1" y="279.0" width="9.5" height="27.7" fill="#93c449"/><rect x="1495.1" y="306.5" width="9.5" height="27.1" fill="#fdfd04"/><rect x="1495.1" y="333.4" width="9.5" height="27.3" fill="#fbb00d"/><rect x="1495.1" y="360.5" width="9.5" height="27.6" fill="#d84a02"/><rect x="1495.1" y="387.9" width="9.5" height="27.0" fill="#a00a0e"/><path d="M1495.1 306.5h9.5" stroke="#5a3a10" stroke-opacity="0.6" stroke-width="0.4"/><text x="1507.0" y="308.9" font-size="7.2" fill="#000" fill-opacity="0.8">50%</text><path d="M1495.1 333.4h9.5" stroke="#5a3a10" stroke-opacity="0.6" stroke-width="0.4"/><text x="1507.0" y="335.8" font-size="7.2" fill="#000" fill-opacity="0.8">20%</text><path d="M1495.1 360.5h9.5" stroke="#5a3a10" stroke-opacity="0.6" stroke-width="0.4"/><text x="1507.0" y="362.9" font-size="7.2" fill="#000" fill-opacity="0.8">10%</text><path d="M1495.1 387.9h9.5" stroke="#5a3a10" stroke-opacity="0.6" stroke-width="0.4"/><text x="1507.0" y="390.3" font-size="7.2" fill="#000" fill-opacity="0.8">5%</text><text x="1328.6" y="279.0" font-size="6.7" fill="#3434cc" fill-opacity="0.85">WD:21.8</text><text x="1328.6" y="285.1" font-size="6.7" fill="#3434cc" fill-opacity="0.85">V1.5.2</text><text x="1328.6" y="291.3" font-size="6.7" fill="#3434cc" fill-opacity="0.85">F:C</text><text x="1328.2" y="417.2" font-size="6.7" fill="#3434cc" fill-opacity="0.85">91%</text></svg><h3 style="left:54.13px;top:2.83px;font-size:11.4px;line-height:13.10px;letter-spacing:-0.366px">OD::Terrain::Percentile-Chart</h3></section>
<section class="panel" id="p13" style="left:228px;top:469px;width:1115px;height:285px"><svg width="1113" height="283" viewBox="229 470 1113 283"><defs><filter id="b13" x="-30%" y="-10%" width="160%" height="120%"><feGaussianBlur stdDeviation="1"/></filter><filter id="b13b" x="-60%" y="-60%" width="220%" height="220%"><feGaussianBlur stdDeviation="2.2"/></filter><clipPath id="c13-hmC"><ellipse cx="776.0" cy="610.6" rx="108.8" ry="112.4"/></clipPath><clipPath id="c13-hmL"><ellipse cx="563.1" cy="610.6" rx="108.8" ry="112.4"/></clipPath><clipPath id="c13-hmR"><ellipse cx="989.0" cy="610.6" rx="108.8" ry="112.4"/></clipPath></defs><use href="#hmC" transform="translate(776.0,610.6) scale(1.1240)"/><g clip-path="url(#c13-hmC)" fill="none" stroke="#000" stroke-opacity="0.85" stroke-width="0.9"><circle cx="776.0" cy="610.6" r="21.6"/><circle cx="776.0" cy="610.6" r="43.2"/><circle cx="776.0" cy="610.6" r="64.8"/><circle cx="776.0" cy="610.6" r="86.4"/><circle cx="776.0" cy="610.6" r="108.0"/></g><use href="#hmL" transform="translate(563.1,610.6) scale(1.1240)"/><g clip-path="url(#c13-hmL)" fill="none" stroke="#000" stroke-opacity="0.85" stroke-width="0.9"><circle cx="776.0" cy="610.6" r="108.0"/><circle cx="776.0" cy="610.6" r="129.6"/><circle cx="776.0" cy="610.6" r="151.2"/><circle cx="776.0" cy="610.6" r="172.8"/><circle cx="776.0" cy="610.6" r="194.4"/><circle cx="776.0" cy="610.6" r="216.0"/><circle cx="776.0" cy="610.6" r="237.6"/><circle cx="776.0" cy="610.6" r="259.2"/><circle cx="776.0" cy="610.6" r="280.8"/><circle cx="776.0" cy="610.6" r="302.4"/></g><use href="#hmR" transform="translate(989.0,610.6) scale(1.1240)"/><g clip-path="url(#c13-hmR)" fill="none" stroke="#000" stroke-opacity="0.85" stroke-width="0.9"><circle cx="776.0" cy="610.6" r="108.0"/><circle cx="776.0" cy="610.6" r="129.6"/><circle cx="776.0" cy="610.6" r="151.2"/><circle cx="776.0" cy="610.6" r="172.8"/><circle cx="776.0" cy="610.6" r="194.4"/><circle cx="776.0" cy="610.6" r="216.0"/><circle cx="776.0" cy="610.6" r="237.6"/><circle cx="776.0" cy="610.6" r="259.2"/><circle cx="776.0" cy="610.6" r="280.8"/><circle cx="776.0" cy="610.6" r="302.4"/></g><g clip-path="url(#c13-hmL)"><path d="M452 570 L458 570 Q464 578 465.5 588 Q468.4 598 468 612 Q468.4 626 467 636 Q466 646 466.4 652 Q467 660 470 668 L452 668Z" fill="#0000a4" filter="url(#b13)"/><ellipse cx="473" cy="658.5" rx="4" ry="6" fill="#ffb000" filter="url(#b13b)"/></g><path d="M454 588 Q452.4 610 454 632" fill="none" stroke="#8e0000" stroke-width="1.5"/><g font-size="9.2" text-anchor="middle" fill="#000" fill-opacity="0.88"><text x="474.1" y="616.0">-0.4</text><text x="497.3" y="616.0">-1.4</text><text x="519.1" y="616.0">-2.2</text><text x="541.6" y="616.0">-2.8</text><text x="562.8" y="616.0">-3.0</text><text x="583.9" y="616.0">-2.8</text><text x="606.1" y="616.0">-2.9</text><text x="627.6" y="616.0">-2.9</text><text x="648.0" y="616.0">-2.3</text><text x="670.2" y="616.0">-1.7</text><text x="512.6" y="529.0">-1.6</text><text x="532.8" y="535.9">-2.6</text><text x="553.6" y="542.7">-3.0</text><text x="574.7" y="549.5">-3.2</text><text x="594.2" y="555.6">-3.4</text><text x="614.6" y="563.1">-3.4</text><text x="635.1" y="569.3">-3.0</text><text x="655.6" y="575.8">-1.6</text><text x="654.9" y="655.9">-2.2</text><text x="635.1" y="662.1">-2.1</text><text x="614.6" y="668.9">-2.5</text><text x="594.2" y="675.7">-2.5</text><text x="573.7" y="681.8">-2.6</text><text x="553.2" y="688.7">-2.7</text><text x="532.1" y="696.2">-1.5</text><text x="511.6" y="702.3">-0.5</text><text x="775.4" y="508.6">0.3</text><text x="722.2" y="523.2">0.0</text><text x="830.0" y="523.2">0.7</text><text x="775.4" y="530.1">0.0</text><text x="736.2" y="541.7">-0.8</text><text x="819.4" y="541.7">0.0</text><text x="777.8" y="552.2">-0.1</text><text x="746.4" y="560.8">-0.3</text><text x="810.2" y="560.8">-0.1</text><text x="702.7" y="572.7">-0.4</text><text x="777.8" y="573.4">-0.6</text><text x="851.1" y="573.4">1.0</text><text x="722.2" y="584.3">-0.3</text><text x="747.1" y="585.3">-0.9</text><text x="806.1" y="585.3">0.4</text><text x="831.3" y="584.3">0.7</text><text x="685.7" y="562.5">-1.4</text><text x="869.2" y="562.5">0.8</text><text x="763.5" y="600.7">-0.5</text><text x="791.4" y="600.7">0.0</text><text x="691.8" y="616.0">-0.4</text><text x="711.3" y="616.0">0.0</text><text x="735.1" y="616.0">-0.8</text><text x="775.1" y="616.0">0</text><text x="818.7" y="616.0">0.8</text><text x="840.9" y="616.0">1.2</text><text x="863.0" y="616.0">1.6</text><text x="884.2" y="616.0">2.4</text><text x="763.5" y="631.4">-0.1</text><text x="791.4" y="631.4">0.6</text><text x="722.2" y="648.4">-0.2</text><text x="747.1" y="646.7">-0.1</text><text x="806.1" y="646.7">0.7</text><text x="831.3" y="648.4">1.4</text><text x="776.1" y="659.3">0.8</text><text x="702.7" y="659.3">-0.5</text><text x="850.4" y="659.3">1.8</text><text x="743.7" y="671.3">0.3</text><text x="808.5" y="671.3">1.4</text><text x="683.0" y="669.6">0.5</text><text x="869.2" y="669.6">1.6</text><text x="776.1" y="680.8">0.7</text><text x="735.1" y="690.4">-0.1</text><text x="819.4" y="690.4">1.4</text><text x="776.1" y="703.0">0.5</text><text x="722.2" y="709.1">0.3</text><text x="830.0" y="709.1">7.3</text><text x="776.1" y="724.5">0.5</text><text x="905.3" y="616.0">3.4</text><text x="927.1" y="616.0">3.9</text><text x="948.6" y="616.0">4.2</text><text x="969.7" y="616.0">4.5</text><text x="991.2" y="616.0">6.0</text><text x="1012.4" y="616.0">6.4</text><text x="1036.6" y="616.0">13.6</text><text x="1056.1" y="616.0">6.0</text><text x="1077.2" y="616.0">6.9</text><text x="898.1" y="575.8">3.3</text><text x="918.9" y="569.3">3.1</text><text x="940.1" y="563.2">3.5</text><text x="959.8" y="555.7">4.3</text><text x="980.3" y="549.5">5.4</text><text x="1000.8" y="543.4">6.6</text><text x="1021.9" y="535.9">8.8</text><text x="1044.8" y="529.7">11.6</text><text x="898.4" y="656.0">3.7</text><text x="918.9" y="662.1">4.1</text><text x="940.1" y="668.9">4.8</text><text x="959.8" y="675.8">5.4</text><text x="980.3" y="681.9">5.9</text><text x="1000.8" y="688.7">9.8</text><text x="1021.9" y="696.2">9.3</text><text x="1041.7" y="702.4">5.0</text></g><g font-size="10" text-anchor="middle" fill="#000"><text x="487.7" y="698.7">70</text><text x="518.4" y="720.2">65</text><text x="547.4" y="729.4">60</text><text x="573.0" y="732.9">55</text><text x="596.2" y="729.4">50</text><text x="616.7" y="723.0">45</text><text x="635.4" y="712.7">40</text><text x="653.2" y="698.1">35</text><text x="666.8" y="680.0">30</text><text x="889.9" y="680.1">30</text><text x="905.3" y="698.8">35</text><text x="921.3" y="712.8">40</text><text x="940.1" y="723.0">45</text><text x="961.2" y="729.9">50</text><text x="984.4" y="732.9">55</text><text x="1010.0" y="729.9">60</text><text x="1039.0" y="721.0">65</text><text x="1069.7" y="699.2">70</text></g><rect x="1103.3" y="521.8" width="15.3" height="200.8" fill="url(#jetbar)"/><path d="M1118.6 521.8h2" stroke="#111" stroke-width="0.7"/><text x="1137.4" y="525.2" font-size="10.8" fill="#111" text-anchor="end">6.0</text><path d="M1118.6 538.5h2" stroke="#111" stroke-width="0.7"/><text x="1137.4" y="541.9" font-size="10.8" fill="#111" text-anchor="end">5.0</text><path d="M1118.6 555.3h2" stroke="#111" stroke-width="0.7"/><text x="1137.4" y="558.7" font-size="10.8" fill="#111" text-anchor="end">4.0</text><path d="M1118.6 572.0h2" stroke="#111" stroke-width="0.7"/><text x="1137.4" y="575.4" font-size="10.8" fill="#111" text-anchor="end">3.0</text><path d="M1118.6 588.7h2" stroke="#111" stroke-width="0.7"/><text x="1137.4" y="592.1" font-size="10.8" fill="#111" text-anchor="end">2.0</text><path d="M1118.6 605.5h2" stroke="#111" stroke-width="0.7"/><text x="1137.4" y="608.9" font-size="10.8" fill="#111" text-anchor="end">1.0</text><path d="M1118.6 622.2h2" stroke="#111" stroke-width="0.7"/><text x="1137.4" y="625.6" font-size="10.8" fill="#111" text-anchor="end">0.0</text><path d="M1118.6 638.9h2" stroke="#111" stroke-width="0.7"/><text x="1137.4" y="642.3" font-size="10.8" fill="#111" text-anchor="end">-1.0</text><path d="M1118.6 655.7h2" stroke="#111" stroke-width="0.7"/><text x="1137.4" y="659.1" font-size="10.8" fill="#111" text-anchor="end">-2.0</text><path d="M1118.6 672.4h2" stroke="#111" stroke-width="0.7"/><text x="1137.4" y="675.8" font-size="10.8" fill="#111" text-anchor="end">-3.0</text><path d="M1118.6 689.1h2" stroke="#111" stroke-width="0.7"/><text x="1137.4" y="692.5" font-size="10.8" fill="#111" text-anchor="end">-4.0</text><path d="M1118.6 705.9h2" stroke="#111" stroke-width="0.7"/><text x="1137.4" y="709.3" font-size="10.8" fill="#111" text-anchor="end">-5.0</text><path d="M1118.6 722.6h2" stroke="#111" stroke-width="0.7"/><text x="1137.4" y="726.0" font-size="10.8" fill="#111" text-anchor="end">-6.0</text><text x="458.8" y="513.6" font-size="11.1" fill="#24249c" stroke="#24249c" stroke-width="0.25">WD:21.8</text><text x="458.8" y="523.7" font-size="11.1" fill="#24249c" stroke="#24249c" stroke-width="0.25">V1.5.2</text></svg><h3 style="left:449.52px;top:6.03px;font-size:15.6px;line-height:17.92px;letter-spacing:-0.098px">OD::Terrain::Relative_Combine</h3></section>
</main>
</body></html>
